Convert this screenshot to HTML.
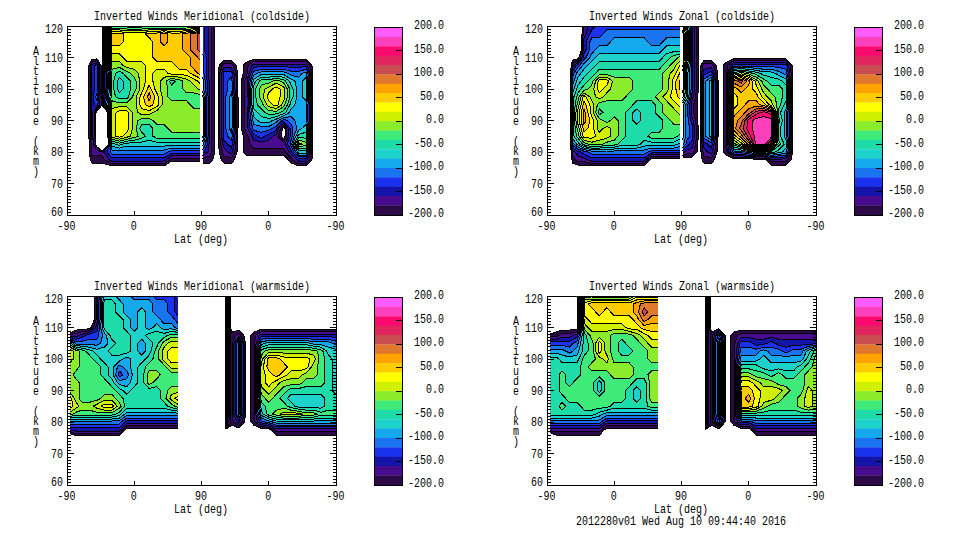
<!DOCTYPE html>
<html><head><meta charset="utf-8"><style>
html,body{margin:0;padding:0;background:#fff;}
svg{display:block;}
text{font-family:'Liberation Mono','DejaVu Sans Mono',monospace;font-size:13px;fill:#000;}
</style></head><body>
<svg width="960" height="540" viewBox="0 0 960 540">
<rect width="960" height="540" fill="#fff"/>
<clipPath id="clip0_0"><rect x="67" y="26" width="269" height="189"/></clipPath>
<g clip-path="url(#clip0_0)" shape-rendering="crispEdges">
<path d="M102.9 26.0L111.8 26.0L119.3 26.0L126.8 26.0L134.2 26.0L141.7 26.0L149.2 26.0L156.7 26.0L164.1 26.0L171.6 26.0L179.1 26.0L186.6 26.0L194.0 26.0L201.5 26.0L201.5 33.9L201.5 41.8L201.5 49.6L201.5 57.5L201.5 65.4L201.5 73.2L201.5 81.1L201.5 89.0L201.5 96.9L201.5 104.8L201.5 112.6L201.5 120.5L201.5 128.4L201.5 136.2L201.5 144.1L201.5 152.0L201.5 159.9L201.5 161.0L194.0 161.0L186.6 161.0L179.1 161.0L171.6 161.0L164.1 165.9L156.7 165.9L149.2 165.9L141.7 165.9L134.2 165.9L126.8 165.9L119.3 165.9L111.8 165.9L102.0 163.0L97.0 163.0L92.0 163.0L90.4 159.9L89.3 152.0L89.3 144.1L88.9 136.2L88.9 128.4L88.9 120.5L88.9 112.6L88.9 104.7L88.9 96.9L88.9 89.0L88.9 81.1L88.9 73.2L88.9 65.4L92.0 59.3L97.0 58.9L101.1 65.4L101.1 73.2L101.1 81.1L101.1 89.0L102.0 93.7L102.8 89.0L102.8 81.1L102.8 73.2L102.7 65.4L102.7 57.5L102.6 49.6L102.6 41.8L102.6 33.9ZM97.0 111.2L95.8 112.6L95.8 120.5L95.8 128.4L95.8 136.2L95.3 144.1L97.0 146.8L102.0 151.3L108.9 144.1L107.8 136.2L107.8 128.4L107.8 120.5L107.8 112.6L102.0 105.0Z" fill="#2c0a48" fill-rule="evenodd"/>
<path d="M104.1 26.0L111.8 26.0L119.3 26.0L126.8 26.0L134.2 26.0L141.7 26.0L149.2 26.0L156.7 26.0L164.1 26.0L171.6 26.0L179.1 26.0L186.6 26.0L194.0 26.0L201.5 26.0L201.5 33.9L201.5 41.8L201.5 49.6L201.5 57.5L201.5 65.4L201.5 73.2L201.5 81.1L201.5 89.0L201.5 96.9L201.5 104.8L201.5 112.6L201.5 120.5L201.5 128.4L201.5 136.2L201.5 144.1L201.5 152.0L201.5 158.6L194.0 158.6L186.6 158.6L179.1 158.6L171.6 158.6L169.7 159.9L164.1 163.5L156.7 163.5L149.2 163.5L141.7 163.5L134.2 163.5L126.8 163.5L119.3 163.5L111.8 163.5L104.5 159.9L102.0 155.9L97.0 155.9L92.0 155.9L91.1 152.0L91.1 144.1L90.2 136.2L90.2 128.4L90.2 120.5L90.2 112.6L90.2 104.8L90.2 96.9L90.2 89.0L90.2 81.1L90.2 73.2L90.2 65.4L92.0 61.7L97.0 60.7L99.9 65.4L99.9 73.2L99.9 81.1L99.9 89.0L101.4 96.9L101.2 104.8L97.0 109.4L94.3 112.6L94.3 120.5L94.3 128.4L94.3 136.2L93.1 144.1L97.0 150.2L102.0 151.8L109.3 144.1L108.2 136.2L108.2 128.4L108.2 120.5L108.2 112.6L102.5 104.8L102.6 96.9L103.9 89.0L103.9 81.1L103.9 73.2L103.7 65.4L103.5 57.5L103.4 49.6L103.3 41.8L103.3 33.9Z" fill="#4a0c8e" fill-rule="evenodd"/>
<path d="M105.3 26.0L111.8 26.0L119.3 26.0L126.8 26.0L134.2 26.0L141.7 26.0L149.2 26.0L156.7 26.0L164.1 26.0L171.6 26.0L179.1 26.0L186.6 26.0L194.0 26.0L201.5 26.0L201.5 33.9L201.5 41.8L201.5 49.6L201.5 57.5L201.5 65.4L201.5 73.2L201.5 81.1L201.5 89.0L201.5 96.9L201.5 104.8L201.5 112.6L201.5 120.5L201.5 128.4L201.5 136.2L201.5 144.1L201.5 152.0L201.5 155.9L194.0 155.9L186.6 155.9L179.1 155.9L171.6 155.9L166.0 159.9L164.1 161.1L156.7 161.1L149.2 161.1L141.7 161.1L134.2 161.1L126.8 161.1L119.3 161.1L111.8 161.1L109.4 159.9L103.6 152.0L109.8 144.1L108.6 136.2L108.6 128.4L108.6 120.5L108.6 112.6L103.6 104.8L103.8 96.9L104.9 89.0L104.9 81.1L104.9 73.2L104.6 65.4L104.4 57.5L104.2 49.6L104.0 41.8L104.0 33.9ZM91.4 65.4L92.0 64.2L97.0 62.6L98.8 65.4L98.8 73.2L98.8 81.1L98.8 89.0L100.1 96.9L99.5 104.8L97.0 107.5L92.8 112.6L92.8 120.5L92.8 128.4L92.8 136.2L92.0 140.2L91.4 136.2L91.4 128.4L91.4 120.5L91.4 112.6L91.4 104.8L91.4 96.9L91.4 89.0L91.4 81.1L91.4 73.2Z" fill="#1414a8" fill-rule="evenodd"/>
<path d="M106.5 26.0L111.8 26.0L119.3 26.0L126.8 26.0L134.2 26.0L141.7 26.0L149.2 26.0L156.7 26.0L164.1 26.0L171.6 26.0L179.1 26.0L186.6 26.0L194.0 26.0L201.5 26.0L201.5 33.9L201.5 41.8L201.5 49.6L201.5 57.5L201.5 65.4L201.5 73.2L201.5 81.1L201.5 89.0L201.5 96.9L201.5 104.8L201.5 112.6L201.5 120.5L201.5 128.4L201.5 136.2L201.5 144.1L201.5 152.0L201.5 153.3L194.0 153.3L186.6 153.3L179.1 153.3L171.6 153.3L164.1 157.9L156.7 157.9L149.2 157.9L141.7 157.9L134.2 157.9L126.8 157.9L119.3 157.9L111.8 157.9L106.9 152.0L110.2 144.1L108.9 136.2L108.9 128.4L108.9 120.5L108.9 112.6L104.7 104.8L105.1 96.9L106.0 89.0L106.0 81.1L106.0 73.2L105.6 65.4L105.3 57.5L105.0 49.6L104.8 41.8L104.8 33.9ZM94.5 65.4L97.0 64.4L97.6 65.4L97.6 73.2L97.6 81.1L97.6 89.0L98.9 96.9L97.8 104.8L97.0 105.7L94.5 104.8L93.2 96.9L94.5 89.0L94.5 81.1L94.5 73.2Z" fill="#1a32ee" fill-rule="evenodd"/>
<path d="M107.7 26.0L111.8 26.0L119.3 26.0L126.8 26.0L134.2 26.0L141.7 26.0L149.2 26.0L156.7 26.0L164.1 26.0L171.6 26.0L179.1 26.0L186.6 26.0L194.0 26.0L201.5 26.0L201.5 33.9L201.5 41.8L201.5 49.6L201.5 57.5L201.5 65.4L201.5 73.2L201.5 81.1L201.5 89.0L201.5 96.9L201.5 104.8L201.5 112.6L201.5 120.5L201.5 128.4L201.5 136.2L201.5 144.1L201.5 150.7L194.0 150.7L186.6 150.7L179.1 150.7L171.6 150.7L167.9 152.0L164.1 154.0L156.7 154.0L149.2 154.0L141.7 154.0L134.2 154.0L126.8 154.0L119.3 154.0L111.8 154.0L110.2 152.0L110.7 144.1L109.3 136.2L109.3 128.4L109.3 120.5L109.3 112.6L105.8 104.8L106.3 96.9L107.0 89.0L107.0 81.1L107.0 73.2L106.6 65.4L106.2 57.5L105.8 49.6L105.5 41.8L105.5 33.9ZM95.8 96.9L97.0 92.9L97.6 96.9L97.0 100.8Z" fill="#1a74f0" fill-rule="evenodd"/>
<path d="M108.9 26.0L111.8 26.0L119.3 26.0L126.8 26.0L134.2 26.0L141.7 26.0L149.2 26.0L156.7 26.0L164.1 26.0L171.6 26.0L179.1 26.0L186.6 26.0L194.0 26.0L201.5 26.0L201.5 33.9L201.5 41.8L201.5 49.6L201.5 57.5L201.5 65.4L201.5 73.2L201.5 81.1L201.5 89.0L201.5 96.9L201.5 104.8L201.5 112.6L201.5 120.5L201.5 128.4L201.5 136.2L201.5 144.1L201.5 148.1L194.0 148.1L186.6 148.1L179.1 148.1L171.6 148.1L164.1 150.0L156.7 150.0L149.2 150.0L141.7 150.0L134.2 150.0L126.8 150.0L119.3 150.7L111.8 150.0L111.1 144.1L109.7 136.2L109.7 128.4L109.7 120.5L109.7 112.6L106.9 104.8L107.5 96.9L108.1 89.0L108.1 81.1L108.1 73.2L107.5 65.4L107.0 57.5L106.6 49.6L106.3 41.8L106.3 33.9Z" fill="#14a8ec" fill-rule="evenodd"/>
<path d="M110.0 26.0L111.8 26.0L119.3 26.0L126.8 26.0L134.2 26.0L141.7 26.0L149.2 26.0L156.7 26.0L164.1 26.0L171.6 26.0L179.1 26.0L186.6 26.0L194.0 26.0L201.5 26.0L201.5 33.9L201.5 41.8L201.5 49.6L201.5 57.5L201.5 65.4L201.5 73.2L201.5 81.1L201.5 89.0L201.5 96.9L201.5 104.8L201.5 112.6L201.5 120.5L201.5 128.4L201.5 136.2L201.5 144.1L201.5 145.4L194.0 145.4L186.6 145.4L179.1 145.4L171.6 145.4L164.1 146.1L156.7 146.1L149.2 146.1L141.7 146.1L134.2 146.1L126.8 146.1L119.3 148.1L111.8 146.1L111.6 144.1L110.1 136.2L110.1 128.4L110.1 120.5L110.1 112.6L108.0 104.8L108.8 96.9L109.2 89.0L109.2 81.1L109.2 73.2L108.5 65.4L107.9 57.5L107.4 49.6L107.0 41.8L107.0 33.9Z" fill="#1ed2cc" fill-rule="evenodd"/>
<path d="M111.2 26.0L111.8 26.0L119.3 26.0L126.8 26.0L134.2 26.0L141.7 26.0L149.2 26.0L156.7 26.0L164.1 26.0L171.6 26.0L179.1 26.0L186.6 26.0L194.0 26.0L201.5 26.0L201.5 33.9L201.5 41.8L201.5 49.6L201.5 57.5L201.5 65.4L201.5 73.2L201.5 81.1L201.5 89.0L201.5 96.9L201.5 104.8L201.5 112.6L201.5 120.5L201.5 128.4L201.5 136.2L201.5 142.2L194.0 142.2L186.6 142.2L179.1 142.2L171.6 142.2L164.1 142.2L156.7 142.2L149.2 140.2L141.7 142.2L134.2 142.8L126.8 143.1L123.0 144.1L119.3 145.4L115.6 144.1L111.8 143.1L110.5 136.2L110.5 128.4L110.5 120.5L110.5 112.6L109.1 104.8L110.0 96.9L110.2 89.0L110.2 81.1L110.2 73.2L109.4 65.4L108.8 57.5L108.2 49.6L107.8 41.8L107.8 33.9ZM119.3 77.2L117.4 81.1L117.4 89.0L119.3 92.9L123.0 89.0L123.0 81.1Z" fill="#1edcaa" fill-rule="evenodd"/>
<path d="M108.5 33.9L111.8 26.8L119.3 26.8L126.8 27.0L134.2 27.0L141.7 27.0L149.2 26.8L156.7 26.8L164.1 26.7L171.6 26.8L179.1 26.8L186.6 26.7L194.0 26.6L201.5 26.5L201.5 33.9L201.5 41.8L201.5 49.6L201.5 57.5L201.5 65.4L201.5 73.2L201.5 81.1L201.5 89.0L201.5 96.9L201.5 104.8L201.5 112.6L201.5 120.5L201.5 128.4L201.5 136.2L201.5 138.2L194.0 138.2L186.6 138.2L179.1 138.2L171.6 138.2L164.1 138.2L156.7 138.2L152.9 136.2L152.9 128.4L149.2 124.4L141.7 124.4L139.9 128.4L141.7 132.3L145.5 136.2L141.7 138.2L134.2 140.2L126.8 141.2L119.3 143.1L111.8 141.2L110.9 136.2L110.9 128.4L110.9 120.5L110.9 112.6L110.2 104.8L111.2 96.9L111.3 89.0L111.3 81.1L111.3 73.2L110.4 65.4L109.6 57.5L109.0 49.6L108.5 41.8ZM119.3 71.3L115.6 73.2L113.7 81.1L113.7 89.0L115.6 96.9L119.3 98.8L126.8 98.8L128.6 96.9L130.5 89.0L130.5 81.1L126.8 77.2L123.0 73.2ZM171.6 80.1L169.7 81.1L171.6 85.1L175.3 81.1Z" fill="#3eea78" fill-rule="evenodd"/>
<path d="M109.2 33.9L111.8 28.4L119.3 28.4L126.8 29.0L134.2 29.0L141.7 29.0L149.2 28.4L156.7 28.4L164.1 28.0L171.6 28.4L179.1 28.4L186.6 28.0L194.0 27.7L201.5 27.5L201.5 33.9L201.5 41.8L201.5 49.6L201.5 57.5L201.5 65.4L201.5 73.2L201.5 81.1L201.5 89.0L201.5 94.9L194.0 92.9L186.6 92.9L182.8 89.0L182.8 81.1L179.1 79.8L171.6 78.2L166.0 81.1L167.9 89.0L167.9 96.9L171.6 100.8L179.1 100.8L186.6 100.8L190.3 104.8L194.0 108.7L201.5 108.7L201.5 112.6L201.5 120.5L201.5 128.4L201.5 132.3L194.0 132.3L186.6 132.3L179.1 132.3L171.6 132.3L167.9 128.4L164.1 124.4L156.7 124.4L152.9 120.5L149.2 118.5L141.7 118.5L138.0 120.5L136.1 128.4L138.0 136.2L134.2 137.6L126.8 139.2L119.3 141.2L111.8 139.2L111.3 136.2L111.3 128.4L111.3 120.5L111.3 112.6L111.3 104.8L111.8 100.8L119.3 102.8L126.8 102.8L132.4 96.9L134.2 92.9L136.1 89.0L136.1 81.1L134.2 77.2L130.5 73.2L126.8 71.3L119.3 67.3L111.8 69.3L111.4 65.4L110.5 57.5L109.8 49.6L109.2 41.8Z" fill="#8aec2a" fill-rule="evenodd"/>
<path d="M110.0 33.9L111.8 29.9L119.3 29.9L126.8 30.9L134.2 30.9L141.7 30.9L149.2 29.9L156.7 29.9L164.1 29.3L171.6 29.9L179.1 29.9L186.6 29.3L194.0 28.8L201.5 28.5L201.5 33.9L201.5 41.8L201.5 49.6L201.5 57.5L201.5 65.4L201.5 73.2L201.5 81.1L201.5 89.0L201.5 91.0L197.8 89.0L194.0 85.1L190.3 81.1L186.6 79.2L179.1 77.2L171.6 76.2L164.1 77.2L160.4 81.1L160.4 89.0L162.3 96.9L162.3 104.8L156.7 110.7L152.9 112.6L149.2 114.6L141.7 114.6L138.0 112.6L136.1 104.8L136.1 96.9L139.9 89.0L139.9 81.1L138.0 73.2L134.2 69.3L126.8 67.3L123.0 65.4L119.3 61.4L111.8 61.4L111.4 57.5L110.6 49.6L110.0 41.8ZM111.6 112.6L111.8 108.7L119.3 106.7L126.8 106.7L132.4 112.6L132.4 120.5L132.4 128.4L130.5 136.2L126.8 137.2L119.3 139.2L111.8 137.2L111.6 136.2L111.6 128.4L111.6 120.5Z" fill="#d0f000" fill-rule="evenodd"/>
<path d="M110.7 33.9L111.8 31.5L119.3 31.5L126.8 32.9L134.2 32.9L141.7 32.9L149.2 31.5L156.7 31.5L164.1 30.6L171.6 31.5L179.1 31.5L186.6 30.6L194.0 29.9L201.5 29.4L201.5 33.9L201.5 41.8L201.5 49.6L201.5 57.5L201.5 65.4L201.5 73.2L201.5 81.1L201.5 85.1L197.8 81.1L194.0 79.2L186.6 75.2L179.1 74.6L171.6 74.2L167.9 73.2L164.1 69.3L156.7 69.3L152.9 73.2L152.9 81.1L154.8 89.0L156.7 92.9L158.5 96.9L158.5 104.8L156.7 106.7L149.2 110.7L141.7 108.7L139.9 104.8L139.9 96.9L141.7 92.9L143.6 89.0L145.5 81.1L145.5 73.2L145.5 65.4L141.7 61.4L134.2 61.4L126.8 61.4L123.0 57.5L119.3 53.6L111.8 53.6L111.4 49.6L110.7 41.8ZM115.6 112.6L119.3 110.7L126.8 110.7L128.6 112.6L128.6 120.5L128.6 128.4L126.8 132.3L123.0 136.2L119.3 137.2L115.6 136.2L115.6 128.4L115.6 120.5Z" fill="#ffff00" fill-rule="evenodd"/>
<path d="M111.5 33.9L111.8 33.1L119.3 33.1L123.0 33.9L123.0 41.8L119.3 45.7L111.8 45.7L111.5 41.8ZM145.5 33.9L149.2 33.1L156.7 33.1L164.1 31.9L171.6 33.1L179.1 33.1L186.6 31.9L194.0 31.1L201.5 30.4L201.5 33.9L201.5 41.8L201.5 49.6L201.5 57.5L201.5 65.4L201.5 73.2L201.5 79.2L194.0 75.2L190.3 73.2L186.6 69.3L179.1 69.3L175.3 65.4L171.6 61.4L164.1 61.4L156.7 61.4L152.9 57.5L152.9 49.6L152.9 41.8L149.2 37.8ZM147.3 89.0L149.2 85.1L151.1 89.0L154.8 96.9L152.9 104.8L149.2 106.7L145.5 104.8L143.6 96.9Z" fill="#ffcc00" fill-rule="evenodd"/>
<path d="M160.4 33.9L164.1 33.2L167.9 33.9L167.9 41.8L164.1 45.7L160.4 41.8ZM182.8 33.9L186.6 33.2L194.0 32.2L201.5 31.4L201.5 33.9L201.5 41.8L201.5 49.6L201.5 57.5L201.5 65.4L201.5 73.2L201.5 75.2L197.8 73.2L194.0 69.3L190.3 65.4L190.3 57.5L186.6 53.6L182.8 49.6L182.8 41.8ZM147.3 96.9L149.2 92.9L151.1 96.9L149.2 100.8Z" fill="#ffa400" fill-rule="evenodd"/>
<path d="M190.3 33.9L194.0 33.3L201.5 32.4L201.5 33.9L201.5 41.8L201.5 49.6L201.5 57.5L201.5 61.4L197.8 57.5L194.0 53.6L190.3 49.6L190.3 41.8Z" fill="#e07830" fill-rule="evenodd"/>
<path d="M197.8 33.9L201.5 33.4L201.5 33.9L201.5 41.8L201.5 49.6L201.5 53.6L197.8 49.6L197.8 41.8Z" fill="#c84c50" fill-rule="evenodd"/>
<path d="M97.0 111.2L95.8 112.6L95.8 120.5L95.8 128.4L95.8 136.2L95.3 144.1L97.0 146.8L102.0 151.3L108.9 144.1L107.8 136.2L107.8 128.4L107.8 120.5L107.8 112.6L102.0 105.0L97.0 111.2M201.5 161.0L194.0 161.0L186.6 161.0L179.1 161.0L171.6 161.0L164.1 165.9L156.7 165.9L149.2 165.9L141.7 165.9L134.2 165.9L126.8 165.9L119.3 165.9L111.8 165.9L102.0 163.0L97.0 163.0L92.0 163.0L90.4 159.9L89.3 152.0L89.3 144.1L88.9 136.2L88.9 128.4L88.9 120.5L88.9 112.6L88.9 104.7L88.9 96.9L88.9 89.0L88.9 81.1L88.9 73.2L88.9 65.4L92.0 59.3L97.0 58.9L101.1 65.4L101.1 73.2L101.1 81.1L101.1 89.0L102.0 93.7L102.8 89.0L102.8 81.1L102.8 73.2L102.7 65.4L102.7 57.5L102.6 49.6L102.6 41.8L102.6 33.9L102.9 26.0M201.5 158.6L194.0 158.6L186.6 158.6L179.1 158.6L171.6 158.6L169.7 159.9L164.1 163.5L156.7 163.5L149.2 163.5L141.7 163.5L134.2 163.5L126.8 163.5L119.3 163.5L111.8 163.5L104.5 159.9L102.0 155.9L97.0 155.9L92.0 155.9L91.1 152.0L91.1 144.1L90.2 136.2L90.2 128.4L90.2 120.5L90.2 112.6L90.2 104.8L90.2 96.9L90.2 89.0L90.2 81.1L90.2 73.2L90.2 65.4L92.0 61.7L97.0 60.7L99.9 65.4L99.9 73.2L99.9 81.1L99.9 89.0L101.4 96.9L101.2 104.8L97.0 109.4L94.3 112.6L94.3 120.5L94.3 128.4L94.3 136.2L93.1 144.1L97.0 150.2L102.0 151.8L109.3 144.1L108.2 136.2L108.2 128.4L108.2 120.5L108.2 112.6L102.5 104.8L102.6 96.9L103.9 89.0L103.9 81.1L103.9 73.2L103.7 65.4L103.5 57.5L103.4 49.6L103.3 41.8L103.3 33.9L104.1 26.0M91.4 65.4L92.0 64.2L97.0 62.6L98.8 65.4L98.8 73.2L98.8 81.1L98.8 89.0L100.1 96.9L99.5 104.8L97.0 107.5L92.8 112.6L92.8 120.5L92.8 128.4L92.8 136.2L92.0 140.2L91.4 136.2L91.4 128.4L91.4 120.5L91.4 112.6L91.4 104.8L91.4 96.9L91.4 89.0L91.4 81.1L91.4 73.2L91.4 65.4M201.5 155.9L194.0 155.9L186.6 155.9L179.1 155.9L171.6 155.9L166.0 159.9L164.1 161.1L156.7 161.1L149.2 161.1L141.7 161.1L134.2 161.1L126.8 161.1L119.3 161.1L111.8 161.1L109.4 159.9L103.6 152.0L109.8 144.1L108.6 136.2L108.6 128.4L108.6 120.5L108.6 112.6L103.6 104.8L103.8 96.9L104.9 89.0L104.9 81.1L104.9 73.2L104.6 65.4L104.4 57.5L104.2 49.6L104.0 41.8L104.0 33.9L105.3 26.0M94.5 65.4L97.0 64.4L97.6 65.4L97.6 73.2L97.6 81.1L97.6 89.0L98.9 96.9L97.8 104.8L97.0 105.7L94.5 104.8L93.2 96.9L94.5 89.0L94.5 81.1L94.5 73.2L94.5 65.4M201.5 153.3L194.0 153.3L186.6 153.3L179.1 153.3L171.6 153.3L164.1 157.9L156.7 157.9L149.2 157.9L141.7 157.9L134.2 157.9L126.8 157.9L119.3 157.9L111.8 157.9L106.9 152.0L110.2 144.1L108.9 136.2L108.9 128.4L108.9 120.5L108.9 112.6L104.7 104.8L105.1 96.9L106.0 89.0L106.0 81.1L106.0 73.2L105.6 65.4L105.3 57.5L105.0 49.6L104.8 41.8L104.8 33.9L106.5 26.0M95.8 96.9L97.0 92.9L97.6 96.9L97.0 100.8L95.8 96.9M201.5 150.7L194.0 150.7L186.6 150.7L179.1 150.7L171.6 150.7L167.9 152.0L164.1 154.0L156.7 154.0L149.2 154.0L141.7 154.0L134.2 154.0L126.8 154.0L119.3 154.0L111.8 154.0L110.2 152.0L110.7 144.1L109.3 136.2L109.3 128.4L109.3 120.5L109.3 112.6L105.8 104.8L106.3 96.9L107.0 89.0L107.0 81.1L107.0 73.2L106.6 65.4L106.2 57.5L105.8 49.6L105.5 41.8L105.5 33.9L107.7 26.0M201.5 148.1L194.0 148.1L186.6 148.1L179.1 148.1L171.6 148.1L164.1 150.0L156.7 150.0L149.2 150.0L141.7 150.0L134.2 150.0L126.8 150.0L119.3 150.7L111.8 150.0L111.1 144.1L109.7 136.2L109.7 128.4L109.7 120.5L109.7 112.6L106.9 104.8L107.5 96.9L108.1 89.0L108.1 81.1L108.1 73.2L107.5 65.4L107.0 57.5L106.6 49.6L106.3 41.8L106.3 33.9L108.9 26.0M201.5 145.4L194.0 145.4L186.6 145.4L179.1 145.4L171.6 145.4L164.1 146.1L156.7 146.1L149.2 146.1L141.7 146.1L134.2 146.1L126.8 146.1L119.3 148.1L111.8 146.1L111.6 144.1L110.1 136.2L110.1 128.4L110.1 120.5L110.1 112.6L108.0 104.8L108.8 96.9L109.2 89.0L109.2 81.1L109.2 73.2L108.5 65.4L107.9 57.5L107.4 49.6L107.0 41.8L107.0 33.9L110.0 26.0M119.3 77.2L117.4 81.1L117.4 89.0L119.3 92.9L123.0 89.0L123.0 81.1L119.3 77.2M201.5 142.2L194.0 142.2L186.6 142.2L179.1 142.2L171.6 142.2L164.1 142.2L156.7 142.2L149.2 140.2L141.7 142.2L134.2 142.8L126.8 143.1L123.0 144.1L119.3 145.4L115.6 144.1L111.8 143.1L110.5 136.2L110.5 128.4L110.5 120.5L110.5 112.6L109.1 104.8L110.0 96.9L110.2 89.0L110.2 81.1L110.2 73.2L109.4 65.4L108.8 57.5L108.2 49.6L107.8 41.8L107.8 33.9L111.2 26.0M119.3 71.3L115.6 73.2L113.7 81.1L113.7 89.0L115.6 96.9L119.3 98.8L126.8 98.8L128.6 96.9L130.5 89.0L130.5 81.1L126.8 77.2L123.0 73.2L119.3 71.3M171.6 80.1L169.7 81.1L171.6 85.1L175.3 81.1L171.6 80.1M201.5 138.2L194.0 138.2L186.6 138.2L179.1 138.2L171.6 138.2L164.1 138.2L156.7 138.2L152.9 136.2L152.9 128.4L149.2 124.4L141.7 124.4L139.9 128.4L141.7 132.3L145.5 136.2L141.7 138.2L134.2 140.2L126.8 141.2L119.3 143.1L111.8 141.2L110.9 136.2L110.9 128.4L110.9 120.5L110.9 112.6L110.2 104.8L111.2 96.9L111.3 89.0L111.3 81.1L111.3 73.2L110.4 65.4L109.6 57.5L109.0 49.6L108.5 41.8L108.5 33.9L111.8 26.8L119.3 26.8L126.8 27.0L134.2 27.0L141.7 27.0L149.2 26.8L156.7 26.8L164.1 26.7L171.6 26.8L179.1 26.8L186.6 26.7L194.0 26.6L201.5 26.5M201.5 94.9L194.0 92.9L186.6 92.9L182.8 89.0L182.8 81.1L179.1 79.8L171.6 78.2L166.0 81.1L167.9 89.0L167.9 96.9L171.6 100.8L179.1 100.8L186.6 100.8L190.3 104.8L194.0 108.7L201.5 108.7M201.5 132.3L194.0 132.3L186.6 132.3L179.1 132.3L171.6 132.3L167.9 128.4L164.1 124.4L156.7 124.4L152.9 120.5L149.2 118.5L141.7 118.5L138.0 120.5L136.1 128.4L138.0 136.2L134.2 137.6L126.8 139.2L119.3 141.2L111.8 139.2L111.3 136.2L111.3 128.4L111.3 120.5L111.3 112.6L111.3 104.8L111.8 100.8L119.3 102.8L126.8 102.8L132.4 96.9L134.2 92.9L136.1 89.0L136.1 81.1L134.2 77.2L130.5 73.2L126.8 71.3L119.3 67.3L111.8 69.3L111.4 65.4L110.5 57.5L109.8 49.6L109.2 41.8L109.2 33.9L111.8 28.4L119.3 28.4L126.8 29.0L134.2 29.0L141.7 29.0L149.2 28.4L156.7 28.4L164.1 28.0L171.6 28.4L179.1 28.4L186.6 28.0L194.0 27.7L201.5 27.5M201.5 91.0L197.8 89.0L194.0 85.1L190.3 81.1L186.6 79.2L179.1 77.2L171.6 76.2L164.1 77.2L160.4 81.1L160.4 89.0L162.3 96.9L162.3 104.8L156.7 110.7L152.9 112.6L149.2 114.6L141.7 114.6L138.0 112.6L136.1 104.8L136.1 96.9L139.9 89.0L139.9 81.1L138.0 73.2L134.2 69.3L126.8 67.3L123.0 65.4L119.3 61.4L111.8 61.4L111.4 57.5L110.6 49.6L110.0 41.8L110.0 33.9L111.8 29.9L119.3 29.9L126.8 30.9L134.2 30.9L141.7 30.9L149.2 29.9L156.7 29.9L164.1 29.3L171.6 29.9L179.1 29.9L186.6 29.3L194.0 28.8L201.5 28.5M111.6 112.6L111.8 108.7L119.3 106.7L126.8 106.7L132.4 112.6L132.4 120.5L132.4 128.4L130.5 136.2L126.8 137.2L119.3 139.2L111.8 137.2L111.6 136.2L111.6 128.4L111.6 120.5L111.6 112.6M201.5 85.1L197.8 81.1L194.0 79.2L186.6 75.2L179.1 74.6L171.6 74.2L167.9 73.2L164.1 69.3L156.7 69.3L152.9 73.2L152.9 81.1L154.8 89.0L156.7 92.9L158.5 96.9L158.5 104.8L156.7 106.7L149.2 110.7L141.7 108.7L139.9 104.8L139.9 96.9L141.7 92.9L143.6 89.0L145.5 81.1L145.5 73.2L145.5 65.4L141.7 61.4L134.2 61.4L126.8 61.4L123.0 57.5L119.3 53.6L111.8 53.6L111.4 49.6L110.7 41.8L110.7 33.9L111.8 31.5L119.3 31.5L126.8 32.9L134.2 32.9L141.7 32.9L149.2 31.5L156.7 31.5L164.1 30.6L171.6 31.5L179.1 31.5L186.6 30.6L194.0 29.9L201.5 29.4M115.6 112.6L119.3 110.7L126.8 110.7L128.6 112.6L128.6 120.5L128.6 128.4L126.8 132.3L123.0 136.2L119.3 137.2L115.6 136.2L115.6 128.4L115.6 120.5L115.6 112.6M111.5 33.9L111.8 33.1L119.3 33.1L123.0 33.9L123.0 41.8L119.3 45.7L111.8 45.7L111.5 41.8L111.5 33.9M201.5 79.2L194.0 75.2L190.3 73.2L186.6 69.3L179.1 69.3L175.3 65.4L171.6 61.4L164.1 61.4L156.7 61.4L152.9 57.5L152.9 49.6L152.9 41.8L149.2 37.8L145.5 33.9L149.2 33.1L156.7 33.1L164.1 31.9L171.6 33.1L179.1 33.1L186.6 31.9L194.0 31.1L201.5 30.4M147.3 89.0L149.2 85.1L151.1 89.0L154.8 96.9L152.9 104.8L149.2 106.7L145.5 104.8L143.6 96.9L147.3 89.0M160.4 33.9L164.1 33.2L167.9 33.9L167.9 41.8L164.1 45.7L160.4 41.8L160.4 33.9M201.5 75.2L197.8 73.2L194.0 69.3L190.3 65.4L190.3 57.5L186.6 53.6L182.8 49.6L182.8 41.8L182.8 33.9L186.6 33.2L194.0 32.2L201.5 31.4M147.3 96.9L149.2 92.9L151.1 96.9L149.2 100.8L147.3 96.9M201.5 61.4L197.8 57.5L194.0 53.6L190.3 49.6L190.3 41.8L190.3 33.9L194.0 33.3L201.5 32.4M201.5 53.6L197.8 49.6L197.8 41.8L197.8 33.9L201.5 33.4" fill="none" stroke="#000" stroke-width="1"/>
<path d="M202.5 26.0L210.0 26.0L214.7 26.0L214.7 33.9L214.7 41.8L214.7 49.6L214.7 57.5L214.7 65.4L214.7 73.2L214.7 81.1L214.7 89.0L214.7 96.9L214.7 104.8L214.7 112.6L214.7 120.5L214.7 128.4L214.7 136.2L214.7 144.1L214.7 152.0L212.8 159.9L210.0 163.0L202.5 163.0L202.5 159.9L202.5 152.0L202.5 144.1L202.5 136.2L202.5 128.4L202.5 120.5L202.5 112.6L202.5 104.8L202.5 96.9L202.5 89.0L202.5 81.1L202.5 73.2L202.5 65.4L202.5 57.5L202.5 49.6L202.5 41.8L202.5 33.9ZM219.3 65.4L223.9 60.1L231.4 60.1L236.4 65.4L237.5 73.2L237.8 81.1L237.8 89.0L238.0 96.9L238.0 104.8L238.0 112.6L238.0 120.5L238.0 128.4L237.8 136.2L237.5 144.1L237.1 152.0L234.4 159.9L231.4 163.0L223.9 163.0L221.2 159.9L219.3 152.0L218.6 144.1L218.2 136.2L218.2 128.4L218.2 120.5L218.2 112.6L218.2 104.8L218.2 96.9L218.2 89.0L218.2 81.1L218.2 73.2ZM243.3 65.4L246.3 62.2L253.8 59.3L261.3 59.3L268.8 59.3L276.2 59.3L283.7 59.3L291.2 59.3L298.6 59.3L306.1 59.3L311.9 65.4L312.7 73.2L312.8 81.1L312.8 89.0L312.8 96.9L312.7 104.8L312.7 112.6L312.7 120.5L312.8 128.4L312.9 136.2L313.0 144.1L312.8 152.0L311.9 159.9L306.1 165.9L298.6 165.9L291.2 163.0L288.2 159.9L283.7 155.2L276.2 155.2L268.8 155.2L261.3 155.2L253.8 155.2L246.3 155.2L243.3 152.0L243.3 144.1L243.3 136.2L241.4 128.4L241.4 120.5L241.4 112.6L241.4 104.8L241.4 96.9L241.4 89.0L241.4 81.1L243.3 73.2ZM283.7 127.0L282.4 128.4L281.2 136.2L283.7 138.9L285.0 136.2L285.0 128.4Z" fill="#2c0a48" fill-rule="evenodd"/>
<path d="M202.5 26.0L210.0 26.0L211.6 26.0L211.6 33.9L211.6 41.8L211.6 49.6L211.6 57.5L211.6 65.4L211.6 73.2L211.6 81.1L211.6 89.0L211.6 96.9L211.6 104.8L211.6 112.6L211.6 120.5L211.6 128.4L211.6 136.2L211.6 144.1L211.6 152.0L210.0 155.9L202.5 158.6L202.5 152.0L202.5 144.1L202.5 136.2L202.5 128.4L202.5 120.5L202.5 112.6L202.5 104.8L202.5 96.9L202.5 89.0L202.5 81.1L202.5 73.2L202.5 65.4L202.5 57.5L202.5 49.6L202.5 41.8L202.5 33.9ZM222.4 65.4L223.9 63.6L231.4 63.6L233.0 65.4L235.8 73.2L236.4 81.1L236.4 89.0L236.8 96.9L236.8 104.8L236.8 112.6L236.8 120.5L236.8 128.4L236.4 136.2L235.8 144.1L234.8 152.0L231.4 157.9L223.9 155.9L222.4 152.0L220.7 144.1L219.8 136.2L219.8 128.4L219.8 120.5L219.8 112.6L219.8 104.8L219.8 96.9L219.8 89.0L219.8 81.1L219.8 73.2ZM248.2 65.4L253.8 61.7L261.3 61.7L268.8 61.7L276.2 61.7L283.7 61.7L291.2 61.7L298.6 61.7L306.1 61.7L309.6 65.4L311.5 73.2L311.8 81.1L311.8 89.0L311.8 96.9L311.5 104.8L311.5 112.6L311.5 120.5L311.8 128.4L312.0 136.2L312.3 144.1L311.8 152.0L309.6 159.9L306.1 163.5L298.6 163.5L293.0 159.9L291.2 157.9L285.6 152.0L283.7 148.1L276.2 148.1L268.8 148.1L261.3 148.1L253.8 148.1L250.1 144.1L248.2 136.2L246.3 132.3L244.7 128.4L244.7 120.5L244.7 112.6L244.7 104.8L244.7 96.9L244.7 89.0L244.7 81.1L246.3 77.2L247.3 73.2ZM283.7 125.1L280.6 128.4L277.9 136.2L283.7 142.4L286.8 136.2L286.8 128.4Z" fill="#4a0c8e" fill-rule="evenodd"/>
<path d="M202.5 26.0L208.1 26.0L208.1 33.9L208.1 41.8L208.1 49.6L208.8 57.5L208.8 65.4L208.8 73.2L209.1 81.1L209.1 89.0L209.4 96.9L209.4 104.8L209.4 112.6L209.4 120.5L209.4 128.4L209.4 136.2L209.1 144.1L208.1 152.0L202.5 155.9L202.5 152.0L202.5 144.1L202.5 136.2L202.5 128.4L202.5 120.5L202.5 112.6L202.5 104.8L202.5 96.9L202.5 89.0L202.5 81.1L202.5 73.2L202.5 65.4L202.5 57.5L202.5 49.6L202.5 41.8L202.5 33.9ZM251.9 65.4L253.8 64.2L261.3 64.2L268.8 64.2L276.2 64.2L283.7 64.2L291.2 64.2L298.6 64.2L306.1 64.2L307.3 65.4L310.3 73.2L310.7 81.1L310.7 89.0L310.7 96.9L310.3 104.8L310.3 112.6L310.3 120.5L310.7 128.4L311.1 136.2L311.6 144.1L310.7 152.0L307.3 159.9L306.1 161.1L298.6 161.1L296.8 159.9L291.2 154.0L289.3 152.0L284.9 144.1L288.5 136.2L288.5 128.4L283.7 123.3L278.9 128.4L276.2 134.3L272.5 136.2L268.8 140.2L261.3 142.2L253.8 140.2L251.9 136.2L247.6 128.4L247.3 120.5L247.1 112.6L247.0 104.8L247.0 96.9L247.0 89.0L247.1 81.1L249.1 73.2ZM221.5 73.2L223.9 67.3L231.4 67.3L234.0 73.2L234.9 81.1L234.9 89.0L235.6 96.9L235.6 104.8L235.6 112.6L235.6 120.5L235.6 128.4L234.9 136.2L234.0 144.1L232.5 152.0L231.4 154.0L227.7 152.0L223.9 148.1L222.9 144.1L221.5 136.2L221.5 128.4L221.5 120.5L221.5 112.6L221.5 104.8L221.5 96.9L221.5 89.0L221.5 81.1Z" fill="#1414a8" fill-rule="evenodd"/>
<path d="M202.5 26.0L204.4 26.0L204.4 33.9L204.4 41.8L204.4 49.6L206.2 57.5L206.2 65.4L206.2 73.2L207.2 81.1L207.2 89.0L208.1 96.9L208.1 104.8L208.1 112.6L208.1 120.5L208.1 128.4L208.1 136.2L207.2 144.1L204.4 152.0L202.5 153.3L202.5 152.0L202.5 144.1L202.5 136.2L202.5 128.4L202.5 120.5L202.5 112.6L202.5 104.8L202.5 96.9L202.5 89.0L202.5 81.1L202.5 73.2L202.5 65.4L202.5 57.5L202.5 49.6L202.5 41.8L202.5 33.9ZM223.1 73.2L223.9 71.3L231.4 71.3L232.3 73.2L233.5 81.1L233.5 89.0L234.4 96.9L234.4 104.8L234.4 112.6L234.4 120.5L234.4 128.4L233.5 136.2L232.3 144.1L231.4 148.1L227.7 144.1L223.9 140.2L223.1 136.2L223.1 128.4L223.1 120.5L223.1 112.6L223.1 104.8L223.1 96.9L223.1 89.0L223.1 81.1ZM251.0 73.2L253.8 67.3L261.3 66.7L268.8 66.7L276.2 66.7L283.7 66.7L291.2 67.3L298.6 67.3L306.1 66.7L309.1 73.2L309.7 81.1L309.7 89.0L309.7 96.9L309.1 104.8L309.1 112.6L309.1 120.5L309.7 128.4L310.2 136.2L310.8 144.1L309.7 152.0L306.1 158.9L298.6 158.9L292.1 152.0L291.2 150.0L287.4 144.1L290.3 136.2L290.3 128.4L283.7 121.4L277.1 128.4L276.2 130.3L268.8 134.3L265.0 136.2L261.3 138.2L257.5 136.2L253.8 134.3L250.1 128.4L249.1 120.5L248.6 112.6L248.2 104.8L248.2 96.9L248.2 89.0L248.6 81.1Z" fill="#1a32ee" fill-rule="evenodd"/>
<path d="M202.5 57.5L202.5 53.6L203.8 57.5L203.8 65.4L203.8 73.2L205.3 81.1L205.3 89.0L206.9 96.9L206.9 104.8L206.9 112.6L206.9 120.5L206.9 128.4L206.9 136.2L205.3 144.1L202.5 150.0L202.5 144.1L202.5 136.2L202.5 128.4L202.5 120.5L202.5 112.6L202.5 104.8L202.5 96.9L202.5 89.0L202.5 81.1L202.5 73.2L202.5 65.4ZM252.9 73.2L253.8 71.3L261.3 69.3L268.8 69.3L276.2 69.3L283.7 69.3L291.2 71.3L298.6 71.3L306.1 69.3L307.9 73.2L308.7 81.1L308.7 89.0L308.7 96.9L307.9 104.8L307.9 112.6L307.9 120.5L308.7 128.4L309.3 136.2L310.1 144.1L308.7 152.0L306.1 156.9L298.6 156.9L294.0 152.0L291.2 146.1L289.9 144.1L291.2 140.2L292.1 136.2L293.0 128.4L291.2 124.4L287.4 120.5L283.7 119.5L281.8 120.5L276.2 126.4L272.5 128.4L268.8 130.3L261.3 132.3L253.8 130.3L252.6 128.4L251.0 120.5L250.1 112.6L249.4 104.8L249.4 96.9L249.4 89.0L250.1 81.1ZM227.7 81.1L231.4 77.2L232.1 81.1L232.1 89.0L233.2 96.9L233.2 104.8L233.2 112.6L233.2 120.5L233.2 128.4L232.1 136.2L231.4 140.2L227.7 136.2L225.8 128.4L225.8 120.5L225.8 112.6L225.8 104.8L225.8 96.9L227.7 89.0Z" fill="#1a74f0" fill-rule="evenodd"/>
<path d="M257.5 73.2L261.3 71.9L268.8 71.9L276.2 71.9L283.7 71.9L287.4 73.2L291.2 75.2L298.6 77.2L302.4 73.2L306.1 71.9L306.7 73.2L307.7 81.1L307.7 89.0L307.7 96.9L306.7 104.8L306.7 112.6L306.7 120.5L307.7 128.4L308.4 136.2L309.4 144.1L307.7 152.0L306.1 155.0L298.6 155.0L295.8 152.0L291.8 144.1L294.0 136.2L296.8 128.4L294.9 120.5L291.2 116.6L283.7 117.5L278.1 120.5L276.2 122.5L268.8 126.4L261.3 126.4L253.8 124.4L252.9 120.5L251.6 112.6L250.7 104.8L250.7 96.9L250.7 89.0L251.6 81.1L253.8 75.2ZM202.5 81.1L202.5 77.2L203.4 81.1L203.4 89.0L205.6 96.9L205.6 104.8L205.6 112.6L205.6 120.5L205.6 128.4L205.6 136.2L203.4 144.1L202.5 146.1L202.5 144.1L202.5 136.2L202.5 128.4L202.5 120.5L202.5 112.6L202.5 104.8L202.5 96.9L202.5 89.0ZM229.5 96.9L231.4 92.9L232.0 96.9L232.0 104.8L232.0 112.6L232.0 120.5L232.0 128.4L231.4 132.3L229.5 128.4L229.5 120.5L229.5 112.6L229.5 104.8Z" fill="#14a8ec" fill-rule="evenodd"/>
<path d="M253.1 81.1L253.8 79.2L261.3 74.6L268.8 74.6L276.2 74.2L283.7 74.6L291.2 79.2L294.9 81.1L296.8 89.0L296.8 96.9L294.9 104.8L291.2 108.7L289.3 112.6L283.7 115.6L276.2 119.2L272.5 120.5L268.8 122.5L261.3 122.5L257.5 120.5L253.8 116.6L253.1 112.6L251.9 104.8L251.9 96.9L251.9 89.0ZM302.4 81.1L306.1 77.2L306.6 81.1L306.6 89.0L306.6 96.9L306.1 100.8L302.4 96.9L302.4 89.0ZM202.5 96.9L202.5 91.0L204.4 96.9L204.4 104.8L204.4 112.6L204.4 120.5L204.4 128.4L204.4 136.2L202.5 142.2L202.5 136.2L202.5 128.4L202.5 120.5L202.5 112.6L202.5 104.8ZM302.4 128.4L306.1 124.4L306.6 128.4L307.5 136.2L308.7 144.1L306.6 152.0L306.1 153.0L298.6 153.0L297.7 152.0L293.0 144.1L295.8 136.2L298.6 130.3Z" fill="#1ed2cc" fill-rule="evenodd"/>
<path d="M255.7 81.1L261.3 77.2L268.8 77.2L276.2 76.2L283.7 77.2L289.3 81.1L291.2 85.1L293.0 89.0L293.0 96.9L291.2 100.8L289.9 104.8L285.6 112.6L283.7 113.6L276.2 116.6L268.8 118.5L261.3 116.6L257.5 112.6L253.8 108.7L253.2 104.8L253.2 96.9L253.2 89.0L253.8 85.1ZM202.5 96.9L202.5 94.9L203.1 96.9L203.1 104.8L203.1 112.6L203.1 120.5L203.1 128.4L203.1 136.2L202.5 138.2L202.5 136.2L202.5 128.4L202.5 120.5L202.5 112.6L202.5 104.8ZM297.7 136.2L298.6 134.3L306.1 132.3L306.6 136.2L307.9 144.1L306.1 150.7L298.6 151.0L294.3 144.1Z" fill="#1edcaa" fill-rule="evenodd"/>
<path d="M259.4 81.1L261.3 79.8L268.8 79.8L276.2 78.2L283.7 79.8L285.6 81.1L289.9 89.0L289.9 96.9L287.4 104.8L283.7 110.7L280.0 112.6L276.2 113.9L268.8 114.6L265.0 112.6L261.3 108.7L257.5 104.8L255.7 96.9L255.7 89.0ZM295.5 144.1L298.6 137.6L306.1 138.2L307.2 144.1L306.1 148.1L298.6 149.0Z" fill="#3eea78" fill-rule="evenodd"/>
<path d="M272.5 81.1L276.2 80.1L280.0 81.1L283.7 83.1L287.4 89.0L287.4 96.9L284.9 104.8L283.7 106.7L276.2 111.3L268.8 110.7L263.1 104.8L261.3 100.8L259.4 96.9L259.4 89.0L261.3 85.1L268.8 83.1ZM296.8 144.1L298.6 140.2L306.1 142.2L306.5 144.1L306.1 145.4L298.6 147.1Z" fill="#8aec2a" fill-rule="evenodd"/>
<path d="M265.0 89.0L268.8 87.0L276.2 83.1L283.7 87.0L284.9 89.0L284.9 96.9L283.7 100.8L281.8 104.8L276.2 108.7L268.8 106.7L266.9 104.8L263.1 96.9ZM298.0 144.1L298.6 142.8L302.4 144.1L298.6 145.1Z" fill="#d0f000" fill-rule="evenodd"/>
<path d="M272.5 89.0L276.2 87.0L280.0 89.0L280.0 96.9L278.1 104.8L276.2 106.1L272.5 104.8L268.8 100.8L266.9 96.9L268.8 92.9Z" fill="#ffff00" fill-rule="evenodd"/>
<path d="M214.7 26.0L214.7 33.9L214.7 41.8L214.7 49.6L214.7 57.5L214.7 65.4L214.7 73.2L214.7 81.1L214.7 89.0L214.7 96.9L214.7 104.8L214.7 112.6L214.7 120.5L214.7 128.4L214.7 136.2L214.7 144.1L214.7 152.0L212.8 159.9L210.0 163.0L202.5 163.0M219.3 65.4L223.9 60.1L231.4 60.1L236.4 65.4L237.5 73.2L237.8 81.1L237.8 89.0L238.0 96.9L238.0 104.8L238.0 112.6L238.0 120.5L238.0 128.4L237.8 136.2L237.5 144.1L237.1 152.0L234.4 159.9L231.4 163.0L223.9 163.0L221.2 159.9L219.3 152.0L218.6 144.1L218.2 136.2L218.2 128.4L218.2 120.5L218.2 112.6L218.2 104.8L218.2 96.9L218.2 89.0L218.2 81.1L218.2 73.2L219.3 65.4M243.3 65.4L246.3 62.2L253.8 59.3L261.3 59.3L268.8 59.3L276.2 59.3L283.7 59.3L291.2 59.3L298.6 59.3L306.1 59.3L311.9 65.4L312.7 73.2L312.8 81.1L312.8 89.0L312.8 96.9L312.7 104.8L312.7 112.6L312.7 120.5L312.8 128.4L312.9 136.2L313.0 144.1L312.8 152.0L311.9 159.9L306.1 165.9L298.6 165.9L291.2 163.0L288.2 159.9L283.7 155.2L276.2 155.2L268.8 155.2L261.3 155.2L253.8 155.2L246.3 155.2L243.3 152.0L243.3 144.1L243.3 136.2L241.4 128.4L241.4 120.5L241.4 112.6L241.4 104.8L241.4 96.9L241.4 89.0L241.4 81.1L243.3 73.2L243.3 65.4M283.7 127.0L282.4 128.4L281.2 136.2L283.7 138.9L285.0 136.2L285.0 128.4L283.7 127.0M211.6 26.0L211.6 33.9L211.6 41.8L211.6 49.6L211.6 57.5L211.6 65.4L211.6 73.2L211.6 81.1L211.6 89.0L211.6 96.9L211.6 104.8L211.6 112.6L211.6 120.5L211.6 128.4L211.6 136.2L211.6 144.1L211.6 152.0L210.0 155.9L202.5 158.6M222.4 65.4L223.9 63.6L231.4 63.6L233.0 65.4L235.8 73.2L236.4 81.1L236.4 89.0L236.8 96.9L236.8 104.8L236.8 112.6L236.8 120.5L236.8 128.4L236.4 136.2L235.8 144.1L234.8 152.0L231.4 157.9L223.9 155.9L222.4 152.0L220.7 144.1L219.8 136.2L219.8 128.4L219.8 120.5L219.8 112.6L219.8 104.8L219.8 96.9L219.8 89.0L219.8 81.1L219.8 73.2L222.4 65.4M248.2 65.4L253.8 61.7L261.3 61.7L268.8 61.7L276.2 61.7L283.7 61.7L291.2 61.7L298.6 61.7L306.1 61.7L309.6 65.4L311.5 73.2L311.8 81.1L311.8 89.0L311.8 96.9L311.5 104.8L311.5 112.6L311.5 120.5L311.8 128.4L312.0 136.2L312.3 144.1L311.8 152.0L309.6 159.9L306.1 163.5L298.6 163.5L293.0 159.9L291.2 157.9L285.6 152.0L283.7 148.1L276.2 148.1L268.8 148.1L261.3 148.1L253.8 148.1L250.1 144.1L248.2 136.2L246.3 132.3L244.7 128.4L244.7 120.5L244.7 112.6L244.7 104.8L244.7 96.9L244.7 89.0L244.7 81.1L246.3 77.2L247.3 73.2L248.2 65.4M283.7 125.1L280.6 128.4L277.9 136.2L283.7 142.4L286.8 136.2L286.8 128.4L283.7 125.1M208.1 26.0L208.1 33.9L208.1 41.8L208.1 49.6L208.8 57.5L208.8 65.4L208.8 73.2L209.1 81.1L209.1 89.0L209.4 96.9L209.4 104.8L209.4 112.6L209.4 120.5L209.4 128.4L209.4 136.2L209.1 144.1L208.1 152.0L202.5 155.9M251.9 65.4L253.8 64.2L261.3 64.2L268.8 64.2L276.2 64.2L283.7 64.2L291.2 64.2L298.6 64.2L306.1 64.2L307.3 65.4L310.3 73.2L310.7 81.1L310.7 89.0L310.7 96.9L310.3 104.8L310.3 112.6L310.3 120.5L310.7 128.4L311.1 136.2L311.6 144.1L310.7 152.0L307.3 159.9L306.1 161.1L298.6 161.1L296.8 159.9L291.2 154.0L289.3 152.0L284.9 144.1L288.5 136.2L288.5 128.4L283.7 123.3L278.9 128.4L276.2 134.3L272.5 136.2L268.8 140.2L261.3 142.2L253.8 140.2L251.9 136.2L247.6 128.4L247.3 120.5L247.1 112.6L247.0 104.8L247.0 96.9L247.0 89.0L247.1 81.1L249.1 73.2L251.9 65.4M221.5 73.2L223.9 67.3L231.4 67.3L234.0 73.2L234.9 81.1L234.9 89.0L235.6 96.9L235.6 104.8L235.6 112.6L235.6 120.5L235.6 128.4L234.9 136.2L234.0 144.1L232.5 152.0L231.4 154.0L227.7 152.0L223.9 148.1L222.9 144.1L221.5 136.2L221.5 128.4L221.5 120.5L221.5 112.6L221.5 104.8L221.5 96.9L221.5 89.0L221.5 81.1L221.5 73.2M204.4 26.0L204.4 33.9L204.4 41.8L204.4 49.6L206.2 57.5L206.2 65.4L206.2 73.2L207.2 81.1L207.2 89.0L208.1 96.9L208.1 104.8L208.1 112.6L208.1 120.5L208.1 128.4L208.1 136.2L207.2 144.1L204.4 152.0L202.5 153.3M223.1 73.2L223.9 71.3L231.4 71.3L232.3 73.2L233.5 81.1L233.5 89.0L234.4 96.9L234.4 104.8L234.4 112.6L234.4 120.5L234.4 128.4L233.5 136.2L232.3 144.1L231.4 148.1L227.7 144.1L223.9 140.2L223.1 136.2L223.1 128.4L223.1 120.5L223.1 112.6L223.1 104.8L223.1 96.9L223.1 89.0L223.1 81.1L223.1 73.2M251.0 73.2L253.8 67.3L261.3 66.7L268.8 66.7L276.2 66.7L283.7 66.7L291.2 67.3L298.6 67.3L306.1 66.7L309.1 73.2L309.7 81.1L309.7 89.0L309.7 96.9L309.1 104.8L309.1 112.6L309.1 120.5L309.7 128.4L310.2 136.2L310.8 144.1L309.7 152.0L306.1 158.9L298.6 158.9L292.1 152.0L291.2 150.0L287.4 144.1L290.3 136.2L290.3 128.4L283.7 121.4L277.1 128.4L276.2 130.3L268.8 134.3L265.0 136.2L261.3 138.2L257.5 136.2L253.8 134.3L250.1 128.4L249.1 120.5L248.6 112.6L248.2 104.8L248.2 96.9L248.2 89.0L248.6 81.1L251.0 73.2M202.5 53.6L203.8 57.5L203.8 65.4L203.8 73.2L205.3 81.1L205.3 89.0L206.9 96.9L206.9 104.8L206.9 112.6L206.9 120.5L206.9 128.4L206.9 136.2L205.3 144.1L202.5 150.0M252.9 73.2L253.8 71.3L261.3 69.3L268.8 69.3L276.2 69.3L283.7 69.3L291.2 71.3L298.6 71.3L306.1 69.3L307.9 73.2L308.7 81.1L308.7 89.0L308.7 96.9L307.9 104.8L307.9 112.6L307.9 120.5L308.7 128.4L309.3 136.2L310.1 144.1L308.7 152.0L306.1 156.9L298.6 156.9L294.0 152.0L291.2 146.1L289.9 144.1L291.2 140.2L292.1 136.2L293.0 128.4L291.2 124.4L287.4 120.5L283.7 119.5L281.8 120.5L276.2 126.4L272.5 128.4L268.8 130.3L261.3 132.3L253.8 130.3L252.6 128.4L251.0 120.5L250.1 112.6L249.4 104.8L249.4 96.9L249.4 89.0L250.1 81.1L252.9 73.2M227.7 81.1L231.4 77.2L232.1 81.1L232.1 89.0L233.2 96.9L233.2 104.8L233.2 112.6L233.2 120.5L233.2 128.4L232.1 136.2L231.4 140.2L227.7 136.2L225.8 128.4L225.8 120.5L225.8 112.6L225.8 104.8L225.8 96.9L227.7 89.0L227.7 81.1M257.5 73.2L261.3 71.9L268.8 71.9L276.2 71.9L283.7 71.9L287.4 73.2L291.2 75.2L298.6 77.2L302.4 73.2L306.1 71.9L306.7 73.2L307.7 81.1L307.7 89.0L307.7 96.9L306.7 104.8L306.7 112.6L306.7 120.5L307.7 128.4L308.4 136.2L309.4 144.1L307.7 152.0L306.1 155.0L298.6 155.0L295.8 152.0L291.8 144.1L294.0 136.2L296.8 128.4L294.9 120.5L291.2 116.6L283.7 117.5L278.1 120.5L276.2 122.5L268.8 126.4L261.3 126.4L253.8 124.4L252.9 120.5L251.6 112.6L250.7 104.8L250.7 96.9L250.7 89.0L251.6 81.1L253.8 75.2L257.5 73.2M202.5 77.2L203.4 81.1L203.4 89.0L205.6 96.9L205.6 104.8L205.6 112.6L205.6 120.5L205.6 128.4L205.6 136.2L203.4 144.1L202.5 146.1M229.5 96.9L231.4 92.9L232.0 96.9L232.0 104.8L232.0 112.6L232.0 120.5L232.0 128.4L231.4 132.3L229.5 128.4L229.5 120.5L229.5 112.6L229.5 104.8L229.5 96.9M253.1 81.1L253.8 79.2L261.3 74.6L268.8 74.6L276.2 74.2L283.7 74.6L291.2 79.2L294.9 81.1L296.8 89.0L296.8 96.9L294.9 104.8L291.2 108.7L289.3 112.6L283.7 115.6L276.2 119.2L272.5 120.5L268.8 122.5L261.3 122.5L257.5 120.5L253.8 116.6L253.1 112.6L251.9 104.8L251.9 96.9L251.9 89.0L253.1 81.1M302.4 81.1L306.1 77.2L306.6 81.1L306.6 89.0L306.6 96.9L306.1 100.8L302.4 96.9L302.4 89.0L302.4 81.1M202.5 91.0L204.4 96.9L204.4 104.8L204.4 112.6L204.4 120.5L204.4 128.4L204.4 136.2L202.5 142.2M302.4 128.4L306.1 124.4L306.6 128.4L307.5 136.2L308.7 144.1L306.6 152.0L306.1 153.0L298.6 153.0L297.7 152.0L293.0 144.1L295.8 136.2L298.6 130.3L302.4 128.4M255.7 81.1L261.3 77.2L268.8 77.2L276.2 76.2L283.7 77.2L289.3 81.1L291.2 85.1L293.0 89.0L293.0 96.9L291.2 100.8L289.9 104.8L285.6 112.6L283.7 113.6L276.2 116.6L268.8 118.5L261.3 116.6L257.5 112.6L253.8 108.7L253.2 104.8L253.2 96.9L253.2 89.0L253.8 85.1L255.7 81.1M202.5 94.9L203.1 96.9L203.1 104.8L203.1 112.6L203.1 120.5L203.1 128.4L203.1 136.2L202.5 138.2M297.7 136.2L298.6 134.3L306.1 132.3L306.6 136.2L307.9 144.1L306.1 150.7L298.6 151.0L294.3 144.1L297.7 136.2M259.4 81.1L261.3 79.8L268.8 79.8L276.2 78.2L283.7 79.8L285.6 81.1L289.9 89.0L289.9 96.9L287.4 104.8L283.7 110.7L280.0 112.6L276.2 113.9L268.8 114.6L265.0 112.6L261.3 108.7L257.5 104.8L255.7 96.9L255.7 89.0L259.4 81.1M295.5 144.1L298.6 137.6L306.1 138.2L307.2 144.1L306.1 148.1L298.6 149.0L295.5 144.1M272.5 81.1L276.2 80.1L280.0 81.1L283.7 83.1L287.4 89.0L287.4 96.9L284.9 104.8L283.7 106.7L276.2 111.3L268.8 110.7L263.1 104.8L261.3 100.8L259.4 96.9L259.4 89.0L261.3 85.1L268.8 83.1L272.5 81.1M296.8 144.1L298.6 140.2L306.1 142.2L306.5 144.1L306.1 145.4L298.6 147.1L296.8 144.1M265.0 89.0L268.8 87.0L276.2 83.1L283.7 87.0L284.9 89.0L284.9 96.9L283.7 100.8L281.8 104.8L276.2 108.7L268.8 106.7L266.9 104.8L263.1 96.9L265.0 89.0M298.0 144.1L298.6 142.8L302.4 144.1L298.6 145.1L298.0 144.1M272.5 89.0L276.2 87.0L280.0 89.0L280.0 96.9L278.1 104.8L276.2 106.1L272.5 104.8L268.8 100.8L266.9 96.9L268.8 92.9L272.5 89.0" fill="none" stroke="#000" stroke-width="1"/>
<rect x="200" y="26" width="2" height="136" fill="#fff"/>
</g>
<clipPath id="clip480_0"><rect x="547" y="26" width="269" height="189"/></clipPath>
<g clip-path="url(#clip480_0)" shape-rendering="crispEdges">
<path d="M582.0 26.0L584.0 26.0L591.8 26.0L599.3 26.0L606.8 26.0L614.2 26.0L621.7 26.0L629.2 26.0L636.7 26.0L644.1 26.0L651.6 26.0L659.1 26.0L666.6 26.0L674.0 26.0L681.5 26.0L681.5 33.9L681.5 41.8L681.5 49.6L681.5 57.5L681.5 65.4L681.5 73.2L681.5 81.1L681.5 89.0L681.5 96.9L681.5 104.8L681.5 112.6L681.5 120.5L681.5 128.4L681.5 136.2L681.5 144.1L681.5 152.0L681.5 158.5L674.0 158.5L666.6 158.5L659.1 158.5L651.6 158.5L649.9 159.9L644.1 165.9L636.7 165.9L629.2 165.9L621.7 165.9L614.2 165.9L606.8 165.9L599.3 165.9L591.8 165.9L584.0 165.1L578.0 165.1L572.5 163.0L572.0 159.9L571.3 152.0L570.4 144.1L570.1 136.2L570.1 128.4L570.1 120.5L570.1 112.6L570.1 104.8L570.1 96.9L570.2 89.0L570.4 81.1L570.6 73.2L571.3 65.4L572.5 60.1L578.0 58.9L579.1 57.5L581.3 49.6L581.3 41.8L582.0 33.9Z" fill="#2c0a48" fill-rule="evenodd"/>
<path d="M583.3 26.0L584.0 26.0L591.8 26.0L599.3 26.0L606.8 26.0L614.2 26.0L621.7 26.0L629.2 26.0L636.7 26.0L644.1 26.0L651.6 26.0L659.1 26.0L666.6 26.0L674.0 26.0L681.5 26.0L681.5 33.9L681.5 41.8L681.5 49.6L681.5 57.5L681.5 65.4L681.5 73.2L681.5 81.1L681.5 89.0L681.5 96.9L681.5 104.8L681.5 112.6L681.5 120.5L681.5 128.4L681.5 136.2L681.5 144.1L681.5 152.0L681.5 156.6L674.0 156.6L666.6 156.6L659.1 156.6L651.6 156.6L647.6 159.9L644.1 163.5L636.7 163.5L629.2 163.5L621.7 163.5L614.2 163.5L606.8 163.5L599.3 163.5L591.8 163.5L584.0 161.6L578.0 161.6L575.2 159.9L572.5 155.9L572.1 152.0L570.9 144.1L570.5 136.2L570.5 128.4L570.5 120.5L570.5 112.6L570.5 104.8L570.5 96.9L570.6 89.0L570.9 81.1L571.2 73.2L572.1 65.4L572.5 63.6L578.0 60.7L580.5 57.5L582.4 49.6L582.4 41.8L583.3 33.9Z" fill="#4a0c8e" fill-rule="evenodd"/>
<path d="M587.9 26.0L591.8 26.0L599.3 26.0L606.8 26.0L614.2 26.0L621.7 26.0L629.2 26.0L636.7 26.0L644.1 26.0L651.6 26.0L659.1 26.0L666.6 26.0L674.0 26.0L681.5 26.0L681.5 33.9L681.5 41.8L681.5 49.6L681.5 57.5L681.5 65.4L681.5 73.2L681.5 81.1L681.5 89.0L681.5 96.9L681.5 104.8L681.5 112.6L681.5 120.5L681.5 128.4L681.5 136.2L681.5 144.1L681.5 152.0L681.5 154.8L674.0 154.8L666.6 154.8L659.1 154.8L651.6 154.8L645.3 159.9L644.1 161.1L636.7 161.1L629.2 161.1L621.7 161.1L614.2 161.1L606.8 161.1L599.3 161.1L591.8 161.1L587.9 159.9L584.0 157.9L578.0 155.9L575.2 152.0L572.5 150.7L571.3 144.1L570.8 136.2L570.8 128.4L570.8 120.5L570.8 112.6L570.8 104.8L570.8 96.9L571.1 89.0L571.3 81.1L571.7 73.2L572.5 67.3L573.9 65.4L578.0 62.6L581.9 57.5L583.5 49.6L583.5 41.8L584.0 37.8L586.0 33.9Z" fill="#1414a8" fill-rule="evenodd"/>
<path d="M589.9 33.9L591.8 29.9L595.6 26.0L599.3 26.0L606.8 26.0L614.2 26.0L621.7 26.0L629.2 26.0L636.7 26.0L644.1 26.0L651.6 26.0L659.1 26.0L666.6 26.0L674.0 26.0L681.5 26.0L681.5 33.9L681.5 41.8L681.5 49.6L681.5 57.5L681.5 65.4L681.5 73.2L681.5 81.1L681.5 89.0L681.5 96.9L681.5 104.8L681.5 112.6L681.5 120.5L681.5 128.4L681.5 136.2L681.5 144.1L681.5 152.0L681.5 152.9L674.0 152.9L666.6 152.9L659.1 152.9L651.6 152.9L644.1 157.9L636.7 157.9L629.2 157.9L621.7 157.9L614.2 157.9L606.8 157.9L599.3 157.9L591.8 157.9L584.0 154.0L581.0 152.0L578.0 151.0L572.5 148.1L571.8 144.1L571.2 136.2L571.2 128.4L571.2 120.5L571.2 112.6L571.2 104.8L571.2 96.9L571.5 89.0L571.8 81.1L572.2 73.2L572.5 71.3L576.6 65.4L578.0 64.4L583.3 57.5L584.0 53.6L586.0 49.6L586.0 41.8Z" fill="#1a32ee" fill-rule="evenodd"/>
<path d="M603.0 33.9L606.8 29.9L614.2 29.9L621.7 29.9L629.2 29.9L636.7 29.9L644.1 29.9L651.6 29.9L659.1 29.9L666.6 29.9L674.0 29.9L681.5 29.9L681.5 33.9L681.5 41.8L681.5 49.6L681.5 57.5L681.5 65.4L681.5 73.2L681.5 81.1L681.5 89.0L681.5 96.9L681.5 104.8L681.5 112.6L681.5 120.5L681.5 128.4L681.5 136.2L681.5 144.1L681.5 150.0L674.0 150.7L666.6 150.7L659.1 150.7L651.6 150.7L647.9 152.0L644.1 154.0L636.7 154.0L629.2 154.0L621.7 154.0L614.2 154.0L606.8 154.0L599.3 154.0L591.8 154.0L587.9 152.0L584.0 151.2L578.0 149.0L572.5 145.4L572.3 144.1L571.6 136.2L571.6 128.4L571.6 120.5L571.6 112.6L571.6 104.8L571.6 96.9L571.9 89.0L572.3 81.1L572.5 77.2L573.9 73.2L578.0 67.3L579.5 65.4L584.0 59.5L586.0 57.5L589.9 49.6L589.9 41.8L591.8 37.8L599.3 37.8Z" fill="#1a74f0" fill-rule="evenodd"/>
<path d="M610.5 41.8L614.2 37.8L621.7 37.8L629.2 37.8L636.7 37.8L644.1 37.8L647.9 41.8L651.6 45.7L659.1 45.7L662.8 41.8L666.6 37.8L674.0 37.8L681.5 37.8L681.5 41.8L681.5 49.6L681.5 57.5L681.5 65.4L681.5 73.2L681.5 81.1L681.5 89.0L681.5 96.9L681.5 104.8L681.5 112.6L681.5 120.5L681.5 128.4L681.5 136.2L681.5 144.1L681.5 146.1L674.0 148.1L666.6 148.1L659.1 148.1L651.6 148.1L644.1 150.0L636.7 150.7L629.2 150.7L621.7 150.7L614.2 151.0L606.8 151.0L599.3 151.2L591.8 151.2L584.0 149.6L578.0 147.1L573.9 144.1L572.5 142.2L571.9 136.2L571.9 128.4L571.9 120.5L571.9 112.6L571.9 104.8L571.9 96.9L572.3 89.0L572.5 85.1L573.9 81.1L576.6 73.2L578.0 71.3L582.5 65.4L584.0 63.4L589.9 57.5L591.8 53.6L595.6 49.6L599.3 45.7L606.8 45.7Z" fill="#14a8ec" fill-rule="evenodd"/>
<path d="M662.8 49.6L666.6 45.7L674.0 45.7L681.5 45.7L681.5 49.6L681.5 57.5L681.5 65.4L681.5 73.2L681.5 81.1L681.5 89.0L681.5 96.9L681.5 104.8L681.5 112.6L681.5 120.5L681.5 128.4L681.5 136.2L681.5 142.2L677.8 144.1L674.0 145.4L666.6 145.4L659.1 145.4L651.6 145.4L644.1 146.1L636.7 148.1L629.2 148.1L621.7 148.1L614.2 149.0L606.8 149.0L599.3 149.6L591.8 149.6L584.0 148.1L578.0 145.1L576.6 144.1L572.5 138.2L572.3 136.2L572.3 128.4L572.3 120.5L572.3 112.6L572.3 104.8L572.3 96.9L572.5 92.9L573.9 89.0L576.6 81.1L578.0 77.2L581.0 73.2L584.0 69.3L587.9 65.4L591.8 61.4L595.6 57.5L599.3 53.6L606.8 53.6L614.2 53.6L621.7 53.6L629.2 53.6L636.7 53.6L644.1 53.6L651.6 53.6L659.1 53.6Z" fill="#1ed2cc" fill-rule="evenodd"/>
<path d="M662.8 57.5L666.6 53.6L674.0 51.6L681.5 50.9L681.5 57.5L681.5 65.4L681.5 73.2L681.5 81.1L681.5 89.0L681.5 96.9L681.5 104.8L681.5 112.6L681.5 120.5L681.5 128.4L681.5 136.2L681.5 138.2L674.0 142.2L666.6 142.2L659.1 142.2L651.6 142.2L644.1 140.2L640.4 144.1L636.7 145.4L629.2 145.4L621.7 145.4L614.2 147.1L606.8 147.1L599.3 148.1L591.8 148.1L584.0 146.5L579.5 144.1L578.0 142.2L573.9 136.2L573.4 128.4L573.2 120.5L573.2 112.6L573.4 104.8L573.9 96.9L576.6 89.0L578.0 85.1L581.0 81.1L584.0 77.2L587.9 73.2L591.8 69.3L595.6 65.4L599.3 61.4L606.8 61.4L614.2 61.4L621.7 61.4L629.2 61.4L636.7 61.4L644.1 61.4L651.6 61.4L659.1 61.4ZM636.7 108.7L632.9 112.6L632.9 120.5L636.7 124.4L640.4 120.5L640.4 112.6Z" fill="#1edcaa" fill-rule="evenodd"/>
<path d="M670.3 57.5L674.0 55.5L681.5 53.6L681.5 57.5L681.5 65.4L681.5 73.2L681.5 81.1L681.5 89.0L681.5 96.9L681.5 104.8L681.5 112.6L681.5 120.5L681.5 128.4L681.5 132.3L677.8 136.2L674.0 138.2L666.6 138.2L659.1 138.2L651.6 138.2L647.9 136.2L651.6 132.3L659.1 132.3L662.8 128.4L662.8 120.5L659.1 116.6L655.3 112.6L655.3 104.8L651.6 100.8L644.1 100.8L636.7 100.8L632.9 104.8L629.2 108.7L625.5 112.6L625.5 120.5L625.5 128.4L625.5 136.2L621.7 140.2L618.0 144.1L614.2 145.1L606.8 145.1L599.3 146.5L591.8 146.5L584.0 144.9L582.5 144.1L578.0 138.2L576.6 136.2L575.2 128.4L574.6 120.5L574.6 112.6L575.2 104.8L576.6 96.9L578.0 92.9L581.0 89.0L584.0 85.1L587.9 81.1L591.8 77.2L595.6 73.2L599.3 69.3L606.8 69.3L614.2 69.3L621.7 69.3L629.2 69.3L636.7 69.3L644.1 69.3L651.6 69.3L659.1 69.3L662.8 65.4L666.6 61.4ZM599.3 108.7L598.1 112.6L599.3 114.6L603.0 112.6Z" fill="#3eea78" fill-rule="evenodd"/>
<path d="M677.8 57.5L681.5 56.2L681.5 57.5L681.5 65.4L681.5 73.2L681.5 81.1L681.5 89.0L681.5 96.9L681.5 104.8L681.5 112.6L681.5 120.5L681.5 124.4L674.0 124.4L670.3 120.5L666.6 116.6L662.8 112.6L662.8 104.8L659.1 100.8L655.3 96.9L659.1 92.9L662.8 89.0L662.8 81.1L662.8 73.2L666.6 69.3L670.3 65.4L674.0 61.4ZM593.1 81.1L599.3 74.6L606.8 74.6L614.2 77.2L621.7 77.2L629.2 77.2L632.9 81.1L632.9 89.0L629.2 92.9L625.5 96.9L621.7 100.8L614.2 100.8L606.8 100.8L599.3 102.8L597.4 104.8L595.6 112.6L599.3 118.5L603.0 120.5L606.8 122.5L610.5 120.5L614.2 116.6L618.0 120.5L618.0 128.4L618.0 136.2L614.2 140.2L606.8 142.2L603.0 144.1L599.3 144.9L591.8 144.9L587.9 144.1L584.0 142.8L579.0 136.2L578.0 132.3L577.1 128.4L575.9 120.5L575.9 112.6L577.1 104.8L578.0 100.8L579.0 96.9L584.0 90.3L587.9 89.0L591.8 85.1Z" fill="#8aec2a" fill-rule="evenodd"/>
<path d="M675.9 65.4L681.5 59.5L681.5 65.4L681.5 73.2L681.5 81.1L681.5 89.0L681.5 96.9L681.5 104.8L681.5 112.6L681.5 116.6L677.8 112.6L674.0 108.7L670.3 104.8L666.6 100.8L662.8 96.9L666.6 92.9L668.4 89.0L668.4 81.1L670.3 73.2L674.0 69.3ZM595.6 81.1L599.3 77.2L606.8 77.2L612.4 81.1L610.5 89.0L606.8 92.9L603.0 96.9L599.3 98.8L595.6 96.9L593.7 89.0ZM581.0 96.9L584.0 92.9L589.9 96.9L591.8 100.8L593.7 104.8L593.1 112.6L597.4 120.5L597.4 128.4L599.3 132.3L603.0 128.4L606.8 126.4L610.5 128.4L610.5 136.2L606.8 138.2L599.3 140.2L591.8 142.2L584.0 140.2L581.0 136.2L579.0 128.4L578.0 124.4L577.3 120.5L577.3 112.6L578.0 108.7L579.0 104.8Z" fill="#d0f000" fill-rule="evenodd"/>
<path d="M679.6 65.4L681.5 63.4L681.5 65.4L681.5 73.2L681.5 81.1L681.5 89.0L681.5 96.9L681.5 104.8L681.5 108.7L677.8 104.8L674.0 100.8L670.3 96.9L672.2 89.0L672.2 81.1L674.0 77.2L675.9 73.2ZM598.1 81.1L599.3 79.8L606.8 79.8L608.6 81.1L606.8 85.1L603.0 89.0L599.3 92.9L597.4 89.0ZM583.0 96.9L584.0 95.6L586.0 96.9L589.9 104.8L590.5 112.6L591.8 116.6L593.7 120.5L593.7 128.4L595.6 136.2L591.8 138.2L584.0 137.6L583.0 136.2L581.0 128.4L579.0 120.5L579.0 112.6L581.0 104.8Z" fill="#ffff00" fill-rule="evenodd"/>
<path d="M679.6 73.2L681.5 69.3L681.5 73.2L681.5 81.1L681.5 89.0L681.5 96.9L681.5 100.8L677.8 96.9L675.9 89.0L675.9 81.1ZM583.0 104.8L584.0 100.8L586.0 104.8L587.9 112.6L589.9 120.5L587.9 128.4L584.0 132.3L583.0 128.4L581.0 120.5L581.0 112.6Z" fill="#ffcc00" fill-rule="evenodd"/>
<path d="M679.6 81.1L681.5 77.2L681.5 81.1L681.5 89.0L681.5 92.9L679.6 89.0ZM583.0 112.6L584.0 108.7L585.3 112.6L586.0 120.5L584.0 124.4L583.0 120.5Z" fill="#ffa400" fill-rule="evenodd"/>
<path d="M681.5 158.5L674.0 158.5L666.6 158.5L659.1 158.5L651.6 158.5L649.9 159.9L644.1 165.9L636.7 165.9L629.2 165.9L621.7 165.9L614.2 165.9L606.8 165.9L599.3 165.9L591.8 165.9L584.0 165.1L578.0 165.1L572.5 163.0L572.0 159.9L571.3 152.0L570.4 144.1L570.1 136.2L570.1 128.4L570.1 120.5L570.1 112.6L570.1 104.8L570.1 96.9L570.2 89.0L570.4 81.1L570.6 73.2L571.3 65.4L572.5 60.1L578.0 58.9L579.1 57.5L581.3 49.6L581.3 41.8L582.0 33.9L582.0 26.0M681.5 156.6L674.0 156.6L666.6 156.6L659.1 156.6L651.6 156.6L647.6 159.9L644.1 163.5L636.7 163.5L629.2 163.5L621.7 163.5L614.2 163.5L606.8 163.5L599.3 163.5L591.8 163.5L584.0 161.6L578.0 161.6L575.2 159.9L572.5 155.9L572.1 152.0L570.9 144.1L570.5 136.2L570.5 128.4L570.5 120.5L570.5 112.6L570.5 104.8L570.5 96.9L570.6 89.0L570.9 81.1L571.2 73.2L572.1 65.4L572.5 63.6L578.0 60.7L580.5 57.5L582.4 49.6L582.4 41.8L583.3 33.9L583.3 26.0M681.5 154.8L674.0 154.8L666.6 154.8L659.1 154.8L651.6 154.8L645.3 159.9L644.1 161.1L636.7 161.1L629.2 161.1L621.7 161.1L614.2 161.1L606.8 161.1L599.3 161.1L591.8 161.1L587.9 159.9L584.0 157.9L578.0 155.9L575.2 152.0L572.5 150.7L571.3 144.1L570.8 136.2L570.8 128.4L570.8 120.5L570.8 112.6L570.8 104.8L570.8 96.9L571.1 89.0L571.3 81.1L571.7 73.2L572.5 67.3L573.9 65.4L578.0 62.6L581.9 57.5L583.5 49.6L583.5 41.8L584.0 37.8L586.0 33.9L587.9 26.0M681.5 152.9L674.0 152.9L666.6 152.9L659.1 152.9L651.6 152.9L644.1 157.9L636.7 157.9L629.2 157.9L621.7 157.9L614.2 157.9L606.8 157.9L599.3 157.9L591.8 157.9L584.0 154.0L581.0 152.0L578.0 151.0L572.5 148.1L571.8 144.1L571.2 136.2L571.2 128.4L571.2 120.5L571.2 112.6L571.2 104.8L571.2 96.9L571.5 89.0L571.8 81.1L572.2 73.2L572.5 71.3L576.6 65.4L578.0 64.4L583.3 57.5L584.0 53.6L586.0 49.6L586.0 41.8L589.9 33.9L591.8 29.9L595.6 26.0M681.5 150.0L674.0 150.7L666.6 150.7L659.1 150.7L651.6 150.7L647.9 152.0L644.1 154.0L636.7 154.0L629.2 154.0L621.7 154.0L614.2 154.0L606.8 154.0L599.3 154.0L591.8 154.0L587.9 152.0L584.0 151.2L578.0 149.0L572.5 145.4L572.3 144.1L571.6 136.2L571.6 128.4L571.6 120.5L571.6 112.6L571.6 104.8L571.6 96.9L571.9 89.0L572.3 81.1L572.5 77.2L573.9 73.2L578.0 67.3L579.5 65.4L584.0 59.5L586.0 57.5L589.9 49.6L589.9 41.8L591.8 37.8L599.3 37.8L603.0 33.9L606.8 29.9L614.2 29.9L621.7 29.9L629.2 29.9L636.7 29.9L644.1 29.9L651.6 29.9L659.1 29.9L666.6 29.9L674.0 29.9L681.5 29.9M681.5 146.1L674.0 148.1L666.6 148.1L659.1 148.1L651.6 148.1L644.1 150.0L636.7 150.7L629.2 150.7L621.7 150.7L614.2 151.0L606.8 151.0L599.3 151.2L591.8 151.2L584.0 149.6L578.0 147.1L573.9 144.1L572.5 142.2L571.9 136.2L571.9 128.4L571.9 120.5L571.9 112.6L571.9 104.8L571.9 96.9L572.3 89.0L572.5 85.1L573.9 81.1L576.6 73.2L578.0 71.3L582.5 65.4L584.0 63.4L589.9 57.5L591.8 53.6L595.6 49.6L599.3 45.7L606.8 45.7L610.5 41.8L614.2 37.8L621.7 37.8L629.2 37.8L636.7 37.8L644.1 37.8L647.9 41.8L651.6 45.7L659.1 45.7L662.8 41.8L666.6 37.8L674.0 37.8L681.5 37.8M681.5 142.2L677.8 144.1L674.0 145.4L666.6 145.4L659.1 145.4L651.6 145.4L644.1 146.1L636.7 148.1L629.2 148.1L621.7 148.1L614.2 149.0L606.8 149.0L599.3 149.6L591.8 149.6L584.0 148.1L578.0 145.1L576.6 144.1L572.5 138.2L572.3 136.2L572.3 128.4L572.3 120.5L572.3 112.6L572.3 104.8L572.3 96.9L572.5 92.9L573.9 89.0L576.6 81.1L578.0 77.2L581.0 73.2L584.0 69.3L587.9 65.4L591.8 61.4L595.6 57.5L599.3 53.6L606.8 53.6L614.2 53.6L621.7 53.6L629.2 53.6L636.7 53.6L644.1 53.6L651.6 53.6L659.1 53.6L662.8 49.6L666.6 45.7L674.0 45.7L681.5 45.7M636.7 108.7L632.9 112.6L632.9 120.5L636.7 124.4L640.4 120.5L640.4 112.6L636.7 108.7M681.5 138.2L674.0 142.2L666.6 142.2L659.1 142.2L651.6 142.2L644.1 140.2L640.4 144.1L636.7 145.4L629.2 145.4L621.7 145.4L614.2 147.1L606.8 147.1L599.3 148.1L591.8 148.1L584.0 146.5L579.5 144.1L578.0 142.2L573.9 136.2L573.4 128.4L573.2 120.5L573.2 112.6L573.4 104.8L573.9 96.9L576.6 89.0L578.0 85.1L581.0 81.1L584.0 77.2L587.9 73.2L591.8 69.3L595.6 65.4L599.3 61.4L606.8 61.4L614.2 61.4L621.7 61.4L629.2 61.4L636.7 61.4L644.1 61.4L651.6 61.4L659.1 61.4L662.8 57.5L666.6 53.6L674.0 51.6L681.5 50.9M599.3 108.7L598.1 112.6L599.3 114.6L603.0 112.6L599.3 108.7M681.5 132.3L677.8 136.2L674.0 138.2L666.6 138.2L659.1 138.2L651.6 138.2L647.9 136.2L651.6 132.3L659.1 132.3L662.8 128.4L662.8 120.5L659.1 116.6L655.3 112.6L655.3 104.8L651.6 100.8L644.1 100.8L636.7 100.8L632.9 104.8L629.2 108.7L625.5 112.6L625.5 120.5L625.5 128.4L625.5 136.2L621.7 140.2L618.0 144.1L614.2 145.1L606.8 145.1L599.3 146.5L591.8 146.5L584.0 144.9L582.5 144.1L578.0 138.2L576.6 136.2L575.2 128.4L574.6 120.5L574.6 112.6L575.2 104.8L576.6 96.9L578.0 92.9L581.0 89.0L584.0 85.1L587.9 81.1L591.8 77.2L595.6 73.2L599.3 69.3L606.8 69.3L614.2 69.3L621.7 69.3L629.2 69.3L636.7 69.3L644.1 69.3L651.6 69.3L659.1 69.3L662.8 65.4L666.6 61.4L670.3 57.5L674.0 55.5L681.5 53.6M593.1 81.1L599.3 74.6L606.8 74.6L614.2 77.2L621.7 77.2L629.2 77.2L632.9 81.1L632.9 89.0L629.2 92.9L625.5 96.9L621.7 100.8L614.2 100.8L606.8 100.8L599.3 102.8L597.4 104.8L595.6 112.6L599.3 118.5L603.0 120.5L606.8 122.5L610.5 120.5L614.2 116.6L618.0 120.5L618.0 128.4L618.0 136.2L614.2 140.2L606.8 142.2L603.0 144.1L599.3 144.9L591.8 144.9L587.9 144.1L584.0 142.8L579.0 136.2L578.0 132.3L577.1 128.4L575.9 120.5L575.9 112.6L577.1 104.8L578.0 100.8L579.0 96.9L584.0 90.3L587.9 89.0L591.8 85.1L593.1 81.1M681.5 124.4L674.0 124.4L670.3 120.5L666.6 116.6L662.8 112.6L662.8 104.8L659.1 100.8L655.3 96.9L659.1 92.9L662.8 89.0L662.8 81.1L662.8 73.2L666.6 69.3L670.3 65.4L674.0 61.4L677.8 57.5L681.5 56.2M595.6 81.1L599.3 77.2L606.8 77.2L612.4 81.1L610.5 89.0L606.8 92.9L603.0 96.9L599.3 98.8L595.6 96.9L593.7 89.0L595.6 81.1M581.0 96.9L584.0 92.9L589.9 96.9L591.8 100.8L593.7 104.8L593.1 112.6L597.4 120.5L597.4 128.4L599.3 132.3L603.0 128.4L606.8 126.4L610.5 128.4L610.5 136.2L606.8 138.2L599.3 140.2L591.8 142.2L584.0 140.2L581.0 136.2L579.0 128.4L578.0 124.4L577.3 120.5L577.3 112.6L578.0 108.7L579.0 104.8L581.0 96.9M681.5 116.6L677.8 112.6L674.0 108.7L670.3 104.8L666.6 100.8L662.8 96.9L666.6 92.9L668.4 89.0L668.4 81.1L670.3 73.2L674.0 69.3L675.9 65.4L681.5 59.5M598.1 81.1L599.3 79.8L606.8 79.8L608.6 81.1L606.8 85.1L603.0 89.0L599.3 92.9L597.4 89.0L598.1 81.1M583.0 96.9L584.0 95.6L586.0 96.9L589.9 104.8L590.5 112.6L591.8 116.6L593.7 120.5L593.7 128.4L595.6 136.2L591.8 138.2L584.0 137.6L583.0 136.2L581.0 128.4L579.0 120.5L579.0 112.6L581.0 104.8L583.0 96.9M681.5 108.7L677.8 104.8L674.0 100.8L670.3 96.9L672.2 89.0L672.2 81.1L674.0 77.2L675.9 73.2L679.6 65.4L681.5 63.4M583.0 104.8L584.0 100.8L586.0 104.8L587.9 112.6L589.9 120.5L587.9 128.4L584.0 132.3L583.0 128.4L581.0 120.5L581.0 112.6L583.0 104.8M681.5 100.8L677.8 96.9L675.9 89.0L675.9 81.1L679.6 73.2L681.5 69.3M681.5 92.9L679.6 89.0L679.6 81.1L681.5 77.2M583.0 112.6L584.0 108.7L585.3 112.6L586.0 120.5L584.0 124.4L583.0 120.5L583.0 112.6" fill="none" stroke="#000" stroke-width="1"/>
<path d="M682.5 26.0L687.0 26.0L692.0 26.0L698.2 26.0L698.2 33.9L698.2 41.8L698.2 49.6L698.2 57.5L698.2 65.4L698.2 73.2L698.2 81.1L698.2 89.0L697.8 96.9L697.0 104.8L697.0 112.6L697.8 120.5L698.2 128.4L698.2 136.2L697.8 144.1L697.0 152.0L692.0 157.2L687.0 157.2L682.5 158.1L682.5 152.0L682.5 144.1L682.5 136.2L682.5 128.4L682.5 120.5L682.5 112.6L682.5 104.8L682.5 96.9L682.5 89.0L682.5 81.1L682.5 73.2L682.5 65.4L682.5 57.5L682.5 49.6L682.5 41.8L682.5 33.9ZM701.0 65.4L703.9 60.1L711.4 60.1L716.4 65.4L717.5 73.2L718.1 81.1L718.1 89.0L718.1 96.9L718.1 104.8L718.1 112.6L718.1 120.5L718.1 128.4L718.1 136.2L717.5 144.1L717.1 152.0L714.4 159.9L711.4 163.0L703.9 163.0L702.1 159.9L701.0 152.0L700.5 144.1L700.1 136.2L700.1 128.4L700.1 120.5L700.1 112.6L700.1 104.8L700.1 96.9L700.1 89.0L700.1 81.1L700.5 73.2ZM723.3 65.4L726.3 62.2L733.8 58.9L741.3 58.9L748.7 58.9L756.2 58.9L763.7 58.9L771.1 58.9L778.6 58.9L786.1 58.9L792.2 65.4L792.5 73.2L792.8 81.1L792.9 89.0L792.9 96.9L792.8 104.8L792.7 112.6L792.7 120.5L792.7 128.4L792.7 136.2L792.8 144.1L792.7 152.0L791.1 159.9L786.1 165.1L778.6 165.1L771.1 165.1L766.2 159.9L763.7 159.1L756.2 159.1L748.7 158.9L741.3 158.8L733.8 158.8L726.3 155.2L723.3 152.0L723.3 144.1L723.3 136.2L723.3 128.4L723.3 120.5L723.3 112.6L723.3 104.8L723.3 96.9L723.3 89.0L723.3 81.1L723.3 73.2Z" fill="#2c0a48" fill-rule="evenodd"/>
<path d="M682.5 26.0L687.0 26.0L692.0 26.0L696.4 26.0L696.4 33.9L696.4 41.8L696.4 49.6L696.4 57.5L696.4 65.4L696.4 73.2L696.4 81.1L696.4 89.0L695.5 96.9L693.7 104.8L693.7 112.6L695.5 120.5L696.4 128.4L696.4 136.2L695.5 144.1L693.7 152.0L692.0 153.8L687.0 153.8L682.5 155.6L682.5 152.0L682.5 144.1L682.5 136.2L682.5 128.4L682.5 120.5L682.5 112.6L682.5 104.8L682.5 96.9L682.5 89.0L682.5 81.1L682.5 73.2L682.5 65.4L682.5 57.5L682.5 49.6L682.5 41.8L682.5 33.9ZM702.9 65.4L703.9 63.6L711.4 63.6L713.0 65.4L715.8 73.2L717.0 81.1L717.0 89.0L717.0 96.9L717.0 104.8L717.0 112.6L717.0 120.5L717.0 128.4L717.0 136.2L715.8 144.1L714.8 152.0L711.4 157.9L703.9 155.9L702.9 152.0L701.9 144.1L701.0 136.2L701.0 128.4L701.0 120.5L701.0 112.6L701.0 104.8L701.0 96.9L701.0 89.0L701.0 81.1L701.9 73.2ZM727.6 65.4L733.8 60.7L741.3 60.7L748.7 60.7L756.2 60.7L763.7 60.7L771.1 60.7L778.6 60.7L786.1 60.7L790.5 65.4L791.1 73.2L791.8 81.1L792.0 89.0L792.0 96.9L791.8 104.8L791.5 112.6L791.5 120.5L791.5 128.4L791.5 136.2L791.8 144.1L791.5 152.0L787.8 159.9L786.1 161.6L778.6 161.6L771.1 161.6L769.5 159.9L763.7 158.0L756.2 158.0L748.7 157.7L741.3 157.2L733.8 157.2L727.2 152.0L726.8 144.1L726.7 136.2L726.6 128.4L726.6 120.5L726.6 112.6L726.7 104.8L726.7 96.9L726.6 89.0L726.6 81.1L726.8 73.2Z" fill="#4a0c8e" fill-rule="evenodd"/>
<path d="M682.5 26.0L687.0 26.0L692.0 26.0L694.6 26.0L694.6 33.9L694.6 41.8L694.6 49.6L694.6 57.5L694.6 65.4L694.6 73.2L694.6 81.1L694.6 89.0L693.2 96.9L692.0 100.8L691.2 104.8L691.2 112.6L692.0 116.6L693.2 120.5L694.6 128.4L694.6 136.2L693.2 144.1L692.0 148.1L687.0 150.0L684.8 152.0L682.5 153.2L682.5 152.0L682.5 144.1L682.5 136.2L682.5 128.4L682.5 120.5L682.5 112.6L682.5 104.8L682.5 96.9L682.5 89.0L682.5 81.1L682.5 73.2L682.5 65.4L682.5 57.5L682.5 49.6L682.5 41.8L682.5 33.9ZM730.1 65.4L733.8 62.6L741.3 62.6L748.7 62.6L756.2 62.6L763.7 62.6L771.1 62.6L778.6 62.6L786.1 62.6L788.7 65.4L789.7 73.2L790.7 81.1L791.1 89.0L791.1 96.9L790.7 104.8L790.3 112.6L790.3 120.5L790.3 128.4L790.3 136.2L790.7 144.1L790.3 152.0L786.1 158.9L778.6 159.1L771.1 159.2L763.7 156.9L756.2 156.9L748.7 156.4L741.3 155.8L733.8 155.8L729.1 152.0L727.7 144.1L727.3 136.2L727.2 128.4L727.2 120.5L727.2 112.6L727.3 104.8L727.3 96.9L727.2 89.0L727.1 81.1L727.7 73.2ZM703.2 73.2L703.9 69.3L711.4 67.3L714.0 73.2L716.0 81.1L716.0 89.0L716.0 96.9L716.0 104.8L716.0 112.6L716.0 120.5L716.0 128.4L716.0 136.2L714.0 144.1L712.5 152.0L711.4 154.0L707.6 152.0L703.9 148.1L703.2 144.1L701.8 136.2L701.8 128.4L701.8 120.5L701.8 112.6L701.8 104.8L701.8 96.9L701.8 89.0L701.8 81.1Z" fill="#1414a8" fill-rule="evenodd"/>
<path d="M682.5 26.0L687.0 26.0L692.0 26.0L692.9 26.0L692.9 33.9L692.9 41.8L692.9 49.6L692.9 57.5L692.9 65.4L692.9 73.2L692.9 81.1L692.9 89.0L692.0 92.9L691.4 96.9L689.5 104.8L689.5 112.6L690.8 120.5L692.0 124.4L692.9 128.4L692.9 136.2L692.0 140.2L689.5 144.1L687.0 146.1L682.5 150.7L682.5 144.1L682.5 136.2L682.5 128.4L682.5 120.5L682.5 112.6L682.5 104.8L682.5 96.9L682.5 89.0L682.5 81.1L682.5 73.2L682.5 65.4L682.5 57.5L682.5 49.6L682.5 41.8L682.5 33.9ZM732.5 65.4L733.8 64.4L741.3 64.4L748.7 64.4L756.2 64.4L763.7 64.4L771.1 64.4L778.6 64.4L786.1 64.4L787.0 65.4L788.2 73.2L789.7 81.1L790.2 89.0L790.2 96.9L789.7 104.8L789.1 112.6L789.1 120.5L789.1 128.4L789.1 136.2L789.7 144.1L789.1 152.0L786.1 156.9L778.6 157.5L771.1 157.9L763.7 155.8L756.2 155.8L748.7 155.2L741.3 154.2L733.8 154.2L731.0 152.0L728.7 144.1L728.0 136.2L727.8 128.4L727.8 120.5L727.9 112.6L728.0 104.8L728.0 96.9L727.9 89.0L727.7 81.1L728.7 73.2ZM707.6 73.2L711.4 71.3L712.3 73.2L715.0 81.1L715.0 89.0L715.0 96.9L715.0 104.8L715.0 112.6L715.0 120.5L715.0 128.4L715.0 136.2L712.3 144.1L711.4 148.1L707.6 144.1L703.9 142.2L702.6 136.2L702.6 128.4L702.6 120.5L702.6 112.6L702.6 104.8L702.6 96.9L702.6 89.0L702.6 81.1L703.9 75.2Z" fill="#1a32ee" fill-rule="evenodd"/>
<path d="M682.5 26.0L687.0 26.0L691.4 26.0L691.5 33.9L691.5 41.8L691.5 49.6L691.5 57.5L691.4 65.4L691.2 73.2L691.2 81.1L691.2 89.0L690.1 96.9L687.8 104.8L687.8 112.6L688.2 120.5L689.5 128.4L689.5 136.2L687.0 140.2L685.9 144.1L682.5 148.1L682.5 144.1L682.5 136.2L682.5 128.4L682.5 120.5L682.5 112.6L682.5 104.8L682.5 96.9L682.5 89.0L682.5 81.1L682.5 73.2L682.5 65.4L682.5 57.5L682.5 49.6L682.5 41.8L682.5 33.9ZM729.6 73.2L733.8 66.2L741.3 66.0L748.7 66.2L756.2 66.4L763.7 66.7L771.1 66.7L778.6 67.3L786.1 69.3L786.8 73.2L788.7 81.1L789.3 89.0L789.3 96.9L788.7 104.8L787.9 112.6L787.9 120.5L787.9 128.4L787.9 136.2L788.7 144.1L787.9 152.0L786.1 155.0L778.6 155.9L771.1 156.6L763.7 154.7L756.2 154.7L748.7 153.9L741.3 152.8L733.8 152.8L732.9 152.0L729.6 144.1L728.7 136.2L728.3 128.4L728.3 120.5L728.5 112.6L728.7 104.8L728.7 96.9L728.5 89.0L728.2 81.1ZM703.5 81.1L703.9 79.2L711.4 74.6L713.9 81.1L713.9 89.0L713.9 96.9L713.9 104.8L713.9 112.6L713.9 120.5L713.9 128.4L713.9 136.2L711.4 142.8L703.9 138.2L703.5 136.2L703.5 128.4L703.5 120.5L703.5 112.6L703.5 104.8L703.5 96.9L703.5 89.0Z" fill="#1a74f0" fill-rule="evenodd"/>
<path d="M682.5 26.0L687.0 26.0L690.1 26.0L690.5 33.9L690.5 41.8L690.5 49.6L690.5 57.5L690.1 65.4L689.5 73.2L689.5 81.1L689.5 89.0L688.9 96.9L687.0 102.8L685.9 104.8L685.9 112.6L685.9 120.5L685.9 128.4L685.9 136.2L683.6 144.1L682.5 145.4L682.5 144.1L682.5 136.2L682.5 128.4L682.5 120.5L682.5 112.6L682.5 104.8L682.5 96.9L682.5 89.0L682.5 81.1L682.5 73.2L682.5 65.4L682.5 57.5L682.5 49.6L682.5 41.8L682.5 33.9ZM730.5 73.2L733.8 67.7L741.3 67.3L748.7 67.7L756.2 68.3L763.7 69.3L771.1 69.3L778.6 71.3L782.4 73.2L786.1 75.2L787.6 81.1L788.4 89.0L788.4 96.9L787.6 104.8L786.7 112.6L786.7 120.5L786.7 128.4L786.7 136.2L787.6 144.1L786.7 152.0L786.1 153.0L778.6 154.4L771.1 155.3L763.7 153.6L756.2 153.6L748.7 152.6L745.0 152.0L741.3 151.3L733.8 151.0L730.5 144.1L729.4 136.2L728.9 128.4L728.9 120.5L729.1 112.6L729.4 104.8L729.4 96.9L729.1 89.0L728.7 81.1ZM705.8 81.1L711.4 77.2L712.9 81.1L712.9 89.0L712.9 96.9L712.9 104.8L712.9 112.6L712.9 120.5L712.9 128.4L712.9 136.2L711.4 140.2L705.8 136.2L705.8 128.4L705.8 120.5L705.8 112.6L705.8 104.8L705.8 96.9L705.8 89.0Z" fill="#14a8ec" fill-rule="evenodd"/>
<path d="M682.5 26.0L687.0 26.0L688.9 26.0L689.5 33.9L689.5 41.8L689.5 49.6L689.5 57.5L688.9 65.4L687.8 73.2L687.8 81.1L687.8 89.0L687.6 96.9L687.0 98.8L683.6 104.8L683.6 112.6L683.6 120.5L683.6 128.4L683.6 136.2L682.5 140.2L682.5 136.2L682.5 128.4L682.5 120.5L682.5 112.6L682.5 104.8L682.5 96.9L682.5 89.0L682.5 81.1L682.5 73.2L682.5 65.4L682.5 57.5L682.5 49.6L682.5 41.8L682.5 33.9ZM731.5 73.2L733.8 69.3L741.3 68.7L748.7 69.3L756.2 70.3L763.7 71.9L771.1 71.9L774.9 73.2L778.6 75.2L786.1 79.2L786.6 81.1L787.5 89.0L787.5 96.9L786.6 104.8L786.1 108.7L784.2 112.6L784.8 120.5L784.2 128.4L784.2 136.2L786.1 140.2L786.6 144.1L786.1 148.1L782.4 152.0L778.6 152.8L771.1 154.0L763.7 152.5L756.2 152.5L752.5 152.0L748.7 151.5L741.3 150.0L733.8 149.0L731.5 144.1L730.1 136.2L729.5 128.4L729.5 120.5L729.7 112.6L730.1 104.8L730.1 96.9L729.7 89.0L729.3 81.1ZM709.5 81.1L711.4 79.8L711.9 81.1L711.9 89.0L711.9 96.9L711.9 104.8L711.9 112.6L711.9 120.5L711.9 128.4L711.9 136.2L711.4 137.6L709.5 136.2L709.5 128.4L709.5 120.5L709.5 112.6L709.5 104.8L709.5 96.9L709.5 89.0Z" fill="#1ed2cc" fill-rule="evenodd"/>
<path d="M682.5 26.0L687.0 26.0L687.6 26.0L688.5 33.9L688.5 41.8L688.5 49.6L688.5 57.5L687.6 65.4L687.0 69.3L686.4 73.2L686.4 81.1L686.4 89.0L686.2 96.9L682.5 103.4L682.5 96.9L682.5 89.0L682.5 81.1L682.5 73.2L682.5 65.4L682.5 57.5L682.5 49.6L682.5 41.8L682.5 33.9ZM732.4 73.2L733.8 70.9L741.3 70.0L748.7 70.9L756.2 72.3L759.9 73.2L763.7 75.2L771.1 77.2L778.6 79.2L782.4 81.1L786.1 85.1L786.5 89.0L786.5 96.9L786.1 100.8L784.2 104.8L780.5 112.6L782.4 120.5L780.5 128.4L780.5 136.2L784.2 144.1L778.6 150.0L774.9 152.0L771.1 152.7L767.4 152.0L763.7 151.7L756.2 151.7L748.7 150.5L741.3 148.7L733.8 147.1L732.4 144.1L730.7 136.2L730.1 128.4L730.1 120.5L730.4 112.6L730.7 104.8L730.7 96.9L730.4 89.0L729.8 81.1Z" fill="#1edcaa" fill-rule="evenodd"/>
<path d="M682.5 26.0L686.4 26.0L687.0 29.9L687.5 33.9L687.5 41.8L687.5 49.6L687.5 57.5L687.0 61.4L686.6 65.4L685.3 73.2L685.3 81.1L685.3 89.0L684.8 96.9L682.5 100.8L682.5 96.9L682.5 89.0L682.5 81.1L682.5 73.2L682.5 65.4L682.5 57.5L682.5 49.6L682.5 41.8L682.5 33.9ZM733.3 73.2L733.8 72.5L741.3 71.3L748.7 72.5L752.5 73.2L756.2 74.6L763.7 79.2L767.4 81.1L771.1 85.1L778.6 85.1L782.4 89.0L782.4 96.9L780.5 104.8L778.6 108.7L778.2 112.6L778.6 116.6L779.9 120.5L778.6 124.4L778.3 128.4L778.3 136.2L778.6 140.2L780.5 144.1L778.6 146.1L771.1 151.5L763.7 151.0L756.2 151.0L748.7 149.5L741.3 147.4L733.8 145.1L733.3 144.1L731.4 136.2L730.6 128.4L730.6 120.5L731.0 112.6L731.4 104.8L731.4 96.9L731.0 89.0L730.3 81.1Z" fill="#3eea78" fill-rule="evenodd"/>
<path d="M682.5 26.0L685.3 26.0L686.4 33.9L686.4 41.8L686.4 49.6L686.4 57.5L685.6 65.4L684.2 73.2L684.2 81.1L684.2 89.0L683.2 96.9L682.5 98.2L682.5 96.9L682.5 89.0L682.5 81.1L682.5 73.2L682.5 65.4L682.5 57.5L682.5 49.6L682.5 41.8L682.5 33.9ZM737.5 73.2L741.3 72.6L745.0 73.2L748.7 74.0L756.2 77.2L761.8 81.1L763.7 85.1L767.4 89.0L771.1 92.9L774.9 96.9L776.8 104.8L777.4 112.6L778.2 120.5L777.6 128.4L777.6 136.2L778.1 144.1L771.1 150.5L763.7 150.4L756.2 150.4L748.7 148.6L741.3 146.1L735.7 144.1L733.8 142.8L732.1 136.2L731.2 128.4L731.2 120.5L731.6 112.6L732.1 104.8L732.1 96.9L731.6 89.0L730.9 81.1L733.8 73.9Z" fill="#8aec2a" fill-rule="evenodd"/>
<path d="M682.5 26.0L684.2 26.0L685.3 33.9L685.3 41.8L685.3 49.6L685.3 57.5L684.8 65.4L683.1 73.2L683.1 81.1L683.1 89.0L682.5 92.9L682.5 89.0L682.5 81.1L682.5 73.2L682.5 65.4L682.5 57.5L682.5 49.6L682.5 41.8L682.5 33.9ZM731.4 81.1L733.8 75.2L741.3 73.9L748.7 75.6L756.2 79.8L758.1 81.1L761.8 89.0L763.7 92.9L767.4 96.9L771.1 100.8L773.0 104.8L776.5 112.6L777.5 120.5L776.9 128.4L776.9 136.2L777.0 144.1L771.1 149.5L763.7 149.7L756.2 149.7L748.7 147.6L741.3 144.8L739.4 144.1L733.8 140.2L732.8 136.2L731.8 128.4L731.8 120.5L732.2 112.6L732.8 104.8L732.8 96.9L732.2 89.0Z" fill="#d0f000" fill-rule="evenodd"/>
<path d="M682.5 26.0L683.1 26.0L684.2 33.9L684.2 41.8L684.2 49.6L684.2 57.5L683.8 65.4L682.5 71.3L682.5 65.4L682.5 57.5L682.5 49.6L682.5 41.8L682.5 33.9ZM731.9 81.1L733.8 76.5L741.3 75.2L748.7 77.2L755.0 81.1L756.2 85.1L758.1 89.0L761.8 96.9L763.7 98.8L769.3 104.8L771.1 105.4L775.7 112.6L776.8 120.5L776.2 128.4L776.2 136.2L776.0 144.1L771.1 148.6L763.7 149.0L756.2 149.0L748.7 146.6L742.5 144.1L741.3 142.8L733.8 137.6L733.4 136.2L732.4 128.4L732.4 120.5L732.9 112.6L733.4 104.8L733.4 96.9L732.9 89.0Z" fill="#ffff00" fill-rule="evenodd"/>
<path d="M682.5 33.9L682.5 29.9L683.1 33.9L683.1 41.8L683.1 49.6L683.1 57.5L683.0 65.4L682.5 67.3L682.5 65.4L682.5 57.5L682.5 49.6L682.5 41.8ZM732.5 81.1L733.8 77.8L741.3 76.5L748.7 78.8L752.5 81.1L752.5 89.0L756.2 92.9L758.1 96.9L763.7 102.8L765.5 104.8L771.1 106.7L774.9 112.6L776.0 120.5L775.6 128.4L775.6 136.2L774.9 144.1L771.1 147.6L763.7 148.4L756.2 148.4L748.7 145.6L745.0 144.1L741.3 140.2L735.7 136.2L733.8 134.3L732.9 128.4L732.9 120.5L733.5 112.6L733.8 108.7L737.5 104.8L737.5 96.9L733.8 92.9L733.5 89.0Z" fill="#ffcc00" fill-rule="evenodd"/>
<path d="M733.0 81.1L733.8 79.2L741.3 77.8L748.7 80.3L750.0 81.1L748.7 85.1L745.0 89.0L741.3 92.9L737.5 89.0L733.8 87.0ZM745.0 104.8L748.7 100.8L756.2 100.8L759.9 104.8L763.7 105.5L771.1 108.0L774.1 112.6L775.3 120.5L774.9 128.4L774.9 136.2L773.8 144.1L771.1 146.6L763.7 147.7L756.2 147.7L748.7 144.6L747.5 144.1L741.3 137.6L739.4 136.2L733.8 130.3L733.5 128.4L733.5 120.5L733.8 116.6L737.5 112.6L741.3 108.7Z" fill="#ffa400" fill-rule="evenodd"/>
<path d="M733.5 81.1L733.8 80.5L741.3 79.2L746.9 81.1L741.3 87.0L733.8 83.1ZM745.0 112.6L748.7 108.7L756.2 106.1L763.7 107.1L771.1 109.3L773.2 112.6L774.5 120.5L774.2 128.4L774.2 136.2L772.7 144.1L771.1 145.6L763.7 147.1L756.2 147.1L749.5 144.1L748.7 142.8L742.5 136.2L741.3 134.3L735.7 128.4L737.5 120.5L741.3 116.6Z" fill="#e07830" fill-rule="evenodd"/>
<path d="M737.5 81.1L741.3 80.5L743.1 81.1L741.3 83.1ZM750.6 112.6L756.2 108.7L763.7 108.7L771.1 110.7L772.4 112.6L773.8 120.5L773.5 128.4L773.5 136.2L771.7 144.1L771.1 144.6L763.7 146.4L756.2 146.4L751.0 144.1L748.7 140.2L745.0 136.2L741.3 130.3L739.4 128.4L741.3 124.4L742.5 120.5L748.7 113.9Z" fill="#c84c50" fill-rule="evenodd"/>
<path d="M754.3 112.6L756.2 111.3L763.7 110.3L771.1 112.0L771.6 112.6L773.0 120.5L772.8 128.4L772.8 136.2L771.1 142.8L769.9 144.1L763.7 145.8L756.2 145.8L752.5 144.1L748.7 137.6L747.5 136.2L743.1 128.4L745.0 120.5L748.7 116.6Z" fill="#e0245e" fill-rule="evenodd"/>
<path d="M759.9 112.6L763.7 111.8L767.4 112.6L771.1 114.6L772.3 120.5L772.2 128.4L772.2 136.2L771.1 140.2L767.4 144.1L763.7 145.1L756.2 145.1L754.0 144.1L750.6 136.2L748.7 132.3L746.9 128.4L747.5 120.5L748.7 119.2L756.2 114.6Z" fill="#ff0870" fill-rule="evenodd"/>
<path d="M752.5 120.5L756.2 118.5L763.7 116.6L771.1 118.5L771.5 120.5L771.5 128.4L771.5 136.2L771.1 137.6L764.9 144.1L763.7 144.5L756.2 144.5L755.5 144.1L754.3 136.2L752.5 128.4Z" fill="#fc40bc" fill-rule="evenodd"/>
<path d="M698.2 26.0L698.2 33.9L698.2 41.8L698.2 49.6L698.2 57.5L698.2 65.4L698.2 73.2L698.2 81.1L698.2 89.0L697.8 96.9L697.0 104.8L697.0 112.6L697.8 120.5L698.2 128.4L698.2 136.2L697.8 144.1L697.0 152.0L692.0 157.2L687.0 157.2L682.5 158.1M701.0 65.4L703.9 60.1L711.4 60.1L716.4 65.4L717.5 73.2L718.1 81.1L718.1 89.0L718.1 96.9L718.1 104.8L718.1 112.6L718.1 120.5L718.1 128.4L718.1 136.2L717.5 144.1L717.1 152.0L714.4 159.9L711.4 163.0L703.9 163.0L702.1 159.9L701.0 152.0L700.5 144.1L700.1 136.2L700.1 128.4L700.1 120.5L700.1 112.6L700.1 104.8L700.1 96.9L700.1 89.0L700.1 81.1L700.5 73.2L701.0 65.4M723.3 65.4L726.3 62.2L733.8 58.9L741.3 58.9L748.7 58.9L756.2 58.9L763.7 58.9L771.1 58.9L778.6 58.9L786.1 58.9L792.2 65.4L792.5 73.2L792.8 81.1L792.9 89.0L792.9 96.9L792.8 104.8L792.7 112.6L792.7 120.5L792.7 128.4L792.7 136.2L792.8 144.1L792.7 152.0L791.1 159.9L786.1 165.1L778.6 165.1L771.1 165.1L766.2 159.9L763.7 159.1L756.2 159.1L748.7 158.9L741.3 158.8L733.8 158.8L726.3 155.2L723.3 152.0L723.3 144.1L723.3 136.2L723.3 128.4L723.3 120.5L723.3 112.6L723.3 104.8L723.3 96.9L723.3 89.0L723.3 81.1L723.3 73.2L723.3 65.4M696.4 26.0L696.4 33.9L696.4 41.8L696.4 49.6L696.4 57.5L696.4 65.4L696.4 73.2L696.4 81.1L696.4 89.0L695.5 96.9L693.7 104.8L693.7 112.6L695.5 120.5L696.4 128.4L696.4 136.2L695.5 144.1L693.7 152.0L692.0 153.8L687.0 153.8L682.5 155.6M702.9 65.4L703.9 63.6L711.4 63.6L713.0 65.4L715.8 73.2L717.0 81.1L717.0 89.0L717.0 96.9L717.0 104.8L717.0 112.6L717.0 120.5L717.0 128.4L717.0 136.2L715.8 144.1L714.8 152.0L711.4 157.9L703.9 155.9L702.9 152.0L701.9 144.1L701.0 136.2L701.0 128.4L701.0 120.5L701.0 112.6L701.0 104.8L701.0 96.9L701.0 89.0L701.0 81.1L701.9 73.2L702.9 65.4M727.6 65.4L733.8 60.7L741.3 60.7L748.7 60.7L756.2 60.7L763.7 60.7L771.1 60.7L778.6 60.7L786.1 60.7L790.5 65.4L791.1 73.2L791.8 81.1L792.0 89.0L792.0 96.9L791.8 104.8L791.5 112.6L791.5 120.5L791.5 128.4L791.5 136.2L791.8 144.1L791.5 152.0L787.8 159.9L786.1 161.6L778.6 161.6L771.1 161.6L769.5 159.9L763.7 158.0L756.2 158.0L748.7 157.7L741.3 157.2L733.8 157.2L727.2 152.0L726.8 144.1L726.7 136.2L726.6 128.4L726.6 120.5L726.6 112.6L726.7 104.8L726.7 96.9L726.6 89.0L726.6 81.1L726.8 73.2L727.6 65.4M694.6 26.0L694.6 33.9L694.6 41.8L694.6 49.6L694.6 57.5L694.6 65.4L694.6 73.2L694.6 81.1L694.6 89.0L693.2 96.9L692.0 100.8L691.2 104.8L691.2 112.6L692.0 116.6L693.2 120.5L694.6 128.4L694.6 136.2L693.2 144.1L692.0 148.1L687.0 150.0L684.8 152.0L682.5 153.2M730.1 65.4L733.8 62.6L741.3 62.6L748.7 62.6L756.2 62.6L763.7 62.6L771.1 62.6L778.6 62.6L786.1 62.6L788.7 65.4L789.7 73.2L790.7 81.1L791.1 89.0L791.1 96.9L790.7 104.8L790.3 112.6L790.3 120.5L790.3 128.4L790.3 136.2L790.7 144.1L790.3 152.0L786.1 158.9L778.6 159.1L771.1 159.2L763.7 156.9L756.2 156.9L748.7 156.4L741.3 155.8L733.8 155.8L729.1 152.0L727.7 144.1L727.3 136.2L727.2 128.4L727.2 120.5L727.2 112.6L727.3 104.8L727.3 96.9L727.2 89.0L727.1 81.1L727.7 73.2L730.1 65.4M703.2 73.2L703.9 69.3L711.4 67.3L714.0 73.2L716.0 81.1L716.0 89.0L716.0 96.9L716.0 104.8L716.0 112.6L716.0 120.5L716.0 128.4L716.0 136.2L714.0 144.1L712.5 152.0L711.4 154.0L707.6 152.0L703.9 148.1L703.2 144.1L701.8 136.2L701.8 128.4L701.8 120.5L701.8 112.6L701.8 104.8L701.8 96.9L701.8 89.0L701.8 81.1L703.2 73.2M692.9 26.0L692.9 33.9L692.9 41.8L692.9 49.6L692.9 57.5L692.9 65.4L692.9 73.2L692.9 81.1L692.9 89.0L692.0 92.9L691.4 96.9L689.5 104.8L689.5 112.6L690.8 120.5L692.0 124.4L692.9 128.4L692.9 136.2L692.0 140.2L689.5 144.1L687.0 146.1L682.5 150.7M732.5 65.4L733.8 64.4L741.3 64.4L748.7 64.4L756.2 64.4L763.7 64.4L771.1 64.4L778.6 64.4L786.1 64.4L787.0 65.4L788.2 73.2L789.7 81.1L790.2 89.0L790.2 96.9L789.7 104.8L789.1 112.6L789.1 120.5L789.1 128.4L789.1 136.2L789.7 144.1L789.1 152.0L786.1 156.9L778.6 157.5L771.1 157.9L763.7 155.8L756.2 155.8L748.7 155.2L741.3 154.2L733.8 154.2L731.0 152.0L728.7 144.1L728.0 136.2L727.8 128.4L727.8 120.5L727.9 112.6L728.0 104.8L728.0 96.9L727.9 89.0L727.7 81.1L728.7 73.2L732.5 65.4M707.6 73.2L711.4 71.3L712.3 73.2L715.0 81.1L715.0 89.0L715.0 96.9L715.0 104.8L715.0 112.6L715.0 120.5L715.0 128.4L715.0 136.2L712.3 144.1L711.4 148.1L707.6 144.1L703.9 142.2L702.6 136.2L702.6 128.4L702.6 120.5L702.6 112.6L702.6 104.8L702.6 96.9L702.6 89.0L702.6 81.1L703.9 75.2L707.6 73.2M691.4 26.0L691.5 33.9L691.5 41.8L691.5 49.6L691.5 57.5L691.4 65.4L691.2 73.2L691.2 81.1L691.2 89.0L690.1 96.9L687.8 104.8L687.8 112.6L688.2 120.5L689.5 128.4L689.5 136.2L687.0 140.2L685.9 144.1L682.5 148.1M729.6 73.2L733.8 66.2L741.3 66.0L748.7 66.2L756.2 66.4L763.7 66.7L771.1 66.7L778.6 67.3L786.1 69.3L786.8 73.2L788.7 81.1L789.3 89.0L789.3 96.9L788.7 104.8L787.9 112.6L787.9 120.5L787.9 128.4L787.9 136.2L788.7 144.1L787.9 152.0L786.1 155.0L778.6 155.9L771.1 156.6L763.7 154.7L756.2 154.7L748.7 153.9L741.3 152.8L733.8 152.8L732.9 152.0L729.6 144.1L728.7 136.2L728.3 128.4L728.3 120.5L728.5 112.6L728.7 104.8L728.7 96.9L728.5 89.0L728.2 81.1L729.6 73.2M703.5 81.1L703.9 79.2L711.4 74.6L713.9 81.1L713.9 89.0L713.9 96.9L713.9 104.8L713.9 112.6L713.9 120.5L713.9 128.4L713.9 136.2L711.4 142.8L703.9 138.2L703.5 136.2L703.5 128.4L703.5 120.5L703.5 112.6L703.5 104.8L703.5 96.9L703.5 89.0L703.5 81.1M690.1 26.0L690.5 33.9L690.5 41.8L690.5 49.6L690.5 57.5L690.1 65.4L689.5 73.2L689.5 81.1L689.5 89.0L688.9 96.9L687.0 102.8L685.9 104.8L685.9 112.6L685.9 120.5L685.9 128.4L685.9 136.2L683.6 144.1L682.5 145.4M730.5 73.2L733.8 67.7L741.3 67.3L748.7 67.7L756.2 68.3L763.7 69.3L771.1 69.3L778.6 71.3L782.4 73.2L786.1 75.2L787.6 81.1L788.4 89.0L788.4 96.9L787.6 104.8L786.7 112.6L786.7 120.5L786.7 128.4L786.7 136.2L787.6 144.1L786.7 152.0L786.1 153.0L778.6 154.4L771.1 155.3L763.7 153.6L756.2 153.6L748.7 152.6L745.0 152.0L741.3 151.3L733.8 151.0L730.5 144.1L729.4 136.2L728.9 128.4L728.9 120.5L729.1 112.6L729.4 104.8L729.4 96.9L729.1 89.0L728.7 81.1L730.5 73.2M705.8 81.1L711.4 77.2L712.9 81.1L712.9 89.0L712.9 96.9L712.9 104.8L712.9 112.6L712.9 120.5L712.9 128.4L712.9 136.2L711.4 140.2L705.8 136.2L705.8 128.4L705.8 120.5L705.8 112.6L705.8 104.8L705.8 96.9L705.8 89.0L705.8 81.1M688.9 26.0L689.5 33.9L689.5 41.8L689.5 49.6L689.5 57.5L688.9 65.4L687.8 73.2L687.8 81.1L687.8 89.0L687.6 96.9L687.0 98.8L683.6 104.8L683.6 112.6L683.6 120.5L683.6 128.4L683.6 136.2L682.5 140.2M731.5 73.2L733.8 69.3L741.3 68.7L748.7 69.3L756.2 70.3L763.7 71.9L771.1 71.9L774.9 73.2L778.6 75.2L786.1 79.2L786.6 81.1L787.5 89.0L787.5 96.9L786.6 104.8L786.1 108.7L784.2 112.6L784.8 120.5L784.2 128.4L784.2 136.2L786.1 140.2L786.6 144.1L786.1 148.1L782.4 152.0L778.6 152.8L771.1 154.0L763.7 152.5L756.2 152.5L752.5 152.0L748.7 151.5L741.3 150.0L733.8 149.0L731.5 144.1L730.1 136.2L729.5 128.4L729.5 120.5L729.7 112.6L730.1 104.8L730.1 96.9L729.7 89.0L729.3 81.1L731.5 73.2M709.5 81.1L711.4 79.8L711.9 81.1L711.9 89.0L711.9 96.9L711.9 104.8L711.9 112.6L711.9 120.5L711.9 128.4L711.9 136.2L711.4 137.6L709.5 136.2L709.5 128.4L709.5 120.5L709.5 112.6L709.5 104.8L709.5 96.9L709.5 89.0L709.5 81.1M687.6 26.0L688.5 33.9L688.5 41.8L688.5 49.6L688.5 57.5L687.6 65.4L687.0 69.3L686.4 73.2L686.4 81.1L686.4 89.0L686.2 96.9L682.5 103.4M732.4 73.2L733.8 70.9L741.3 70.0L748.7 70.9L756.2 72.3L759.9 73.2L763.7 75.2L771.1 77.2L778.6 79.2L782.4 81.1L786.1 85.1L786.5 89.0L786.5 96.9L786.1 100.8L784.2 104.8L780.5 112.6L782.4 120.5L780.5 128.4L780.5 136.2L784.2 144.1L778.6 150.0L774.9 152.0L771.1 152.7L767.4 152.0L763.7 151.7L756.2 151.7L748.7 150.5L741.3 148.7L733.8 147.1L732.4 144.1L730.7 136.2L730.1 128.4L730.1 120.5L730.4 112.6L730.7 104.8L730.7 96.9L730.4 89.0L729.8 81.1L732.4 73.2M686.4 26.0L687.0 29.9L687.5 33.9L687.5 41.8L687.5 49.6L687.5 57.5L687.0 61.4L686.6 65.4L685.3 73.2L685.3 81.1L685.3 89.0L684.8 96.9L682.5 100.8M733.3 73.2L733.8 72.5L741.3 71.3L748.7 72.5L752.5 73.2L756.2 74.6L763.7 79.2L767.4 81.1L771.1 85.1L778.6 85.1L782.4 89.0L782.4 96.9L780.5 104.8L778.6 108.7L778.2 112.6L778.6 116.6L779.9 120.5L778.6 124.4L778.3 128.4L778.3 136.2L778.6 140.2L780.5 144.1L778.6 146.1L771.1 151.5L763.7 151.0L756.2 151.0L748.7 149.5L741.3 147.4L733.8 145.1L733.3 144.1L731.4 136.2L730.6 128.4L730.6 120.5L731.0 112.6L731.4 104.8L731.4 96.9L731.0 89.0L730.3 81.1L733.3 73.2M685.3 26.0L686.4 33.9L686.4 41.8L686.4 49.6L686.4 57.5L685.6 65.4L684.2 73.2L684.2 81.1L684.2 89.0L683.2 96.9L682.5 98.2M737.5 73.2L741.3 72.6L745.0 73.2L748.7 74.0L756.2 77.2L761.8 81.1L763.7 85.1L767.4 89.0L771.1 92.9L774.9 96.9L776.8 104.8L777.4 112.6L778.2 120.5L777.6 128.4L777.6 136.2L778.1 144.1L771.1 150.5L763.7 150.4L756.2 150.4L748.7 148.6L741.3 146.1L735.7 144.1L733.8 142.8L732.1 136.2L731.2 128.4L731.2 120.5L731.6 112.6L732.1 104.8L732.1 96.9L731.6 89.0L730.9 81.1L733.8 73.9L737.5 73.2M684.2 26.0L685.3 33.9L685.3 41.8L685.3 49.6L685.3 57.5L684.8 65.4L683.1 73.2L683.1 81.1L683.1 89.0L682.5 92.9M731.4 81.1L733.8 75.2L741.3 73.9L748.7 75.6L756.2 79.8L758.1 81.1L761.8 89.0L763.7 92.9L767.4 96.9L771.1 100.8L773.0 104.8L776.5 112.6L777.5 120.5L776.9 128.4L776.9 136.2L777.0 144.1L771.1 149.5L763.7 149.7L756.2 149.7L748.7 147.6L741.3 144.8L739.4 144.1L733.8 140.2L732.8 136.2L731.8 128.4L731.8 120.5L732.2 112.6L732.8 104.8L732.8 96.9L732.2 89.0L731.4 81.1M683.1 26.0L684.2 33.9L684.2 41.8L684.2 49.6L684.2 57.5L683.8 65.4L682.5 71.3M731.9 81.1L733.8 76.5L741.3 75.2L748.7 77.2L755.0 81.1L756.2 85.1L758.1 89.0L761.8 96.9L763.7 98.8L769.3 104.8L771.1 105.4L775.7 112.6L776.8 120.5L776.2 128.4L776.2 136.2L776.0 144.1L771.1 148.6L763.7 149.0L756.2 149.0L748.7 146.6L742.5 144.1L741.3 142.8L733.8 137.6L733.4 136.2L732.4 128.4L732.4 120.5L732.9 112.6L733.4 104.8L733.4 96.9L732.9 89.0L731.9 81.1M682.5 29.9L683.1 33.9L683.1 41.8L683.1 49.6L683.1 57.5L683.0 65.4L682.5 67.3M732.5 81.1L733.8 77.8L741.3 76.5L748.7 78.8L752.5 81.1L752.5 89.0L756.2 92.9L758.1 96.9L763.7 102.8L765.5 104.8L771.1 106.7L774.9 112.6L776.0 120.5L775.6 128.4L775.6 136.2L774.9 144.1L771.1 147.6L763.7 148.4L756.2 148.4L748.7 145.6L745.0 144.1L741.3 140.2L735.7 136.2L733.8 134.3L732.9 128.4L732.9 120.5L733.5 112.6L733.8 108.7L737.5 104.8L737.5 96.9L733.8 92.9L733.5 89.0L732.5 81.1M733.0 81.1L733.8 79.2L741.3 77.8L748.7 80.3L750.0 81.1L748.7 85.1L745.0 89.0L741.3 92.9L737.5 89.0L733.8 87.0L733.0 81.1M745.0 104.8L748.7 100.8L756.2 100.8L759.9 104.8L763.7 105.5L771.1 108.0L774.1 112.6L775.3 120.5L774.9 128.4L774.9 136.2L773.8 144.1L771.1 146.6L763.7 147.7L756.2 147.7L748.7 144.6L747.5 144.1L741.3 137.6L739.4 136.2L733.8 130.3L733.5 128.4L733.5 120.5L733.8 116.6L737.5 112.6L741.3 108.7L745.0 104.8M733.5 81.1L733.8 80.5L741.3 79.2L746.9 81.1L741.3 87.0L733.8 83.1L733.5 81.1M745.0 112.6L748.7 108.7L756.2 106.1L763.7 107.1L771.1 109.3L773.2 112.6L774.5 120.5L774.2 128.4L774.2 136.2L772.7 144.1L771.1 145.6L763.7 147.1L756.2 147.1L749.5 144.1L748.7 142.8L742.5 136.2L741.3 134.3L735.7 128.4L737.5 120.5L741.3 116.6L745.0 112.6M737.5 81.1L741.3 80.5L743.1 81.1L741.3 83.1L737.5 81.1M750.6 112.6L756.2 108.7L763.7 108.7L771.1 110.7L772.4 112.6L773.8 120.5L773.5 128.4L773.5 136.2L771.7 144.1L771.1 144.6L763.7 146.4L756.2 146.4L751.0 144.1L748.7 140.2L745.0 136.2L741.3 130.3L739.4 128.4L741.3 124.4L742.5 120.5L748.7 113.9L750.6 112.6M754.3 112.6L756.2 111.3L763.7 110.3L771.1 112.0L771.6 112.6L773.0 120.5L772.8 128.4L772.8 136.2L771.1 142.8L769.9 144.1L763.7 145.8L756.2 145.8L752.5 144.1L748.7 137.6L747.5 136.2L743.1 128.4L745.0 120.5L748.7 116.6L754.3 112.6M759.9 112.6L763.7 111.8L767.4 112.6L771.1 114.6L772.3 120.5L772.2 128.4L772.2 136.2L771.1 140.2L767.4 144.1L763.7 145.1L756.2 145.1L754.0 144.1L750.6 136.2L748.7 132.3L746.9 128.4L747.5 120.5L748.7 119.2L756.2 114.6L759.9 112.6M752.5 120.5L756.2 118.5L763.7 116.6L771.1 118.5L771.5 120.5L771.5 128.4L771.5 136.2L771.1 137.6L764.9 144.1L763.7 144.5L756.2 144.5L755.5 144.1L754.3 136.2L752.5 128.4L752.5 120.5" fill="none" stroke="#000" stroke-width="1"/>
<rect x="680" y="26" width="2" height="136" fill="#fff"/>
</g>
<clipPath id="clip0_270"><rect x="67" y="296" width="269" height="189"/></clipPath>
<g clip-path="url(#clip0_270)" shape-rendering="crispEdges">
<path d="M94.4 296.0L96.9 296.0L104.4 296.0L111.8 296.0L119.3 296.0L126.8 296.0L134.2 296.0L141.7 296.0L149.2 296.0L156.7 296.0L164.1 296.0L171.6 296.0L178.0 296.0L178.0 303.9L178.0 311.8L178.0 319.6L178.0 327.5L178.0 335.4L178.0 343.2L178.0 351.1L178.0 359.0L178.0 366.9L178.0 374.8L178.0 382.6L178.0 390.5L178.0 398.4L178.0 406.2L178.0 414.1L178.0 422.0L178.0 428.1L171.6 428.1L164.1 428.1L156.7 428.1L149.2 428.1L141.7 428.1L134.2 428.1L126.8 428.1L125.1 429.9L119.3 435.9L111.8 435.9L104.4 435.9L96.9 435.9L89.4 435.9L82.0 435.9L76.0 435.9L70.0 433.5L70.0 429.9L70.0 422.0L70.0 414.1L70.0 406.2L70.0 398.4L70.0 390.5L70.0 382.6L70.0 374.8L70.0 366.9L70.0 359.0L70.0 351.1L70.0 343.2L70.0 335.4L70.0 332.8L76.0 330.1L82.0 329.3L89.4 328.9L91.1 327.5L94.4 319.6L94.4 311.8L94.4 303.9Z" fill="#2c0a48" fill-rule="evenodd"/>
<path d="M96.1 296.0L96.9 296.0L104.4 296.0L111.8 296.0L119.3 296.0L126.8 296.0L134.2 296.0L141.7 296.0L149.2 296.0L156.7 296.0L164.1 296.0L171.6 296.0L178.0 296.0L178.0 303.9L178.0 311.8L178.0 319.6L178.0 327.5L178.0 335.4L178.0 343.2L178.0 351.1L178.0 359.0L178.0 366.9L178.0 374.8L178.0 382.6L178.0 390.5L178.0 398.4L178.0 406.2L178.0 414.1L178.0 422.0L178.0 425.6L171.6 425.6L164.1 425.6L156.7 425.6L149.2 425.6L141.7 425.6L134.2 425.6L126.8 425.6L122.8 429.9L119.3 433.5L111.8 433.5L104.4 433.5L96.9 433.5L89.4 433.5L82.0 433.5L76.0 433.5L70.0 432.0L70.0 429.9L70.0 422.0L70.0 414.1L70.0 406.2L70.0 398.4L70.0 390.5L70.0 382.6L70.0 374.8L70.0 366.9L70.0 359.0L70.0 351.1L70.0 343.2L70.0 335.4L70.0 334.5L76.0 333.6L82.0 331.7L89.4 330.7L93.4 327.5L96.1 319.6L96.1 311.8L96.1 303.9Z" fill="#4a0c8e" fill-rule="evenodd"/>
<path d="M97.7 296.0L104.4 296.0L111.8 296.0L119.3 296.0L126.8 296.0L134.2 296.0L141.7 296.0L149.2 296.0L156.7 296.0L164.1 296.0L171.6 296.0L178.0 296.0L178.0 303.9L178.0 311.8L178.0 319.6L178.0 327.5L178.0 335.4L178.0 343.2L178.0 351.1L178.0 359.0L178.0 366.9L178.0 374.8L178.0 382.6L178.0 390.5L178.0 398.4L178.0 406.2L178.0 414.1L178.0 422.0L178.0 423.2L171.6 423.2L164.1 423.2L156.7 423.2L149.2 423.2L141.7 423.2L134.2 423.2L126.8 423.2L120.5 429.9L119.3 431.1L111.8 431.1L104.4 431.1L96.9 431.1L89.4 431.1L82.0 431.1L76.0 431.1L70.0 430.6L70.0 429.9L70.0 422.0L70.0 414.1L70.0 406.2L70.0 398.4L70.0 390.5L70.0 382.6L70.0 374.8L70.0 366.9L70.0 359.0L70.0 351.1L70.0 343.2L70.0 336.0L76.0 336.7L79.0 335.4L82.0 334.2L89.4 332.6L95.7 327.5L96.9 323.6L97.5 319.6L97.5 311.8L97.5 303.9Z" fill="#1414a8" fill-rule="evenodd"/>
<path d="M99.2 296.0L104.4 296.0L111.8 296.0L119.3 296.0L126.8 296.0L134.2 296.0L141.7 296.0L149.2 296.0L156.7 296.0L164.1 296.0L171.6 296.0L174.8 296.0L174.8 303.9L174.8 311.8L178.0 315.7L178.0 319.6L178.0 327.5L178.0 335.4L178.0 343.2L178.0 351.1L178.0 359.0L178.0 366.9L178.0 374.8L178.0 382.6L178.0 390.5L178.0 398.4L178.0 406.2L178.0 414.1L178.0 420.7L171.6 420.7L164.1 420.7L156.7 420.7L149.2 420.7L141.7 420.7L134.2 420.7L126.8 420.7L124.9 422.0L119.3 427.9L111.8 427.9L104.4 427.9L96.9 427.9L89.4 427.9L82.0 427.9L76.0 427.9L70.0 427.9L70.0 422.0L70.0 414.1L70.0 406.2L70.0 398.4L70.0 390.5L70.0 382.6L70.0 374.8L70.0 366.9L70.0 359.0L70.0 351.1L70.0 343.2L70.0 337.3L76.0 339.3L82.0 337.3L85.7 335.4L89.4 334.4L96.9 331.4L97.7 327.5L98.8 319.6L98.8 311.8L98.8 303.9Z" fill="#1a32ee" fill-rule="evenodd"/>
<path d="M100.7 296.0L104.4 296.0L111.8 296.0L119.3 296.0L126.8 296.0L134.2 296.0L141.7 296.0L149.2 296.0L152.9 296.0L156.7 299.9L164.1 299.9L167.8 303.9L167.8 311.8L171.6 315.7L174.8 319.6L178.0 323.6L178.0 327.5L178.0 335.4L178.0 343.2L178.0 351.1L178.0 359.0L178.0 366.9L178.0 374.8L178.0 382.6L178.0 390.5L178.0 398.4L178.0 406.2L178.0 414.1L178.0 418.1L171.6 418.1L164.1 418.1L156.7 418.1L149.2 418.1L141.7 418.1L134.2 418.1L126.8 418.1L121.2 422.0L119.3 424.0L111.8 424.0L104.4 424.0L96.9 424.0L89.4 424.0L82.0 424.0L76.0 424.0L70.0 424.0L70.0 422.0L70.0 414.1L70.0 406.2L70.0 398.4L70.0 390.5L70.0 382.6L70.0 374.8L70.0 366.9L70.0 359.0L70.0 351.1L70.0 343.2L70.0 338.7L76.0 341.9L82.0 341.3L89.4 339.3L96.9 339.3L98.8 335.4L99.2 327.5L100.0 319.6L100.0 311.8L100.0 303.9ZM119.3 370.8L118.1 374.8L119.3 376.7L123.0 374.8Z" fill="#1a74f0" fill-rule="evenodd"/>
<path d="M102.2 296.0L104.4 296.0L111.8 296.0L119.3 296.0L126.8 296.0L130.5 296.0L134.2 299.9L141.7 299.9L149.2 299.9L152.9 303.9L152.9 311.8L156.7 315.7L160.4 319.6L164.1 323.6L171.6 323.6L174.8 327.5L178.0 328.5L178.0 335.4L178.0 343.2L178.0 351.1L178.0 359.0L178.0 366.9L178.0 374.8L178.0 382.6L178.0 390.5L178.0 398.4L178.0 406.2L178.0 414.1L178.0 415.4L171.6 415.4L164.1 415.4L156.7 415.4L149.2 415.4L141.7 415.4L134.2 415.4L126.8 415.4L119.3 420.7L111.8 421.0L104.4 421.0L96.9 421.0L89.4 421.0L82.0 421.0L76.0 421.0L70.0 421.2L70.0 414.1L70.0 406.2L70.0 398.4L70.0 390.5L70.0 382.6L70.0 374.8L70.0 366.9L70.0 359.0L70.0 351.1L70.0 343.2L70.0 340.0L75.0 343.2L76.0 344.0L82.0 344.2L89.4 344.6L96.9 345.2L100.7 343.2L102.5 335.4L100.7 327.5L101.3 319.6L101.3 311.8L101.3 303.9ZM119.3 364.9L117.4 366.9L115.5 374.8L119.3 380.7L126.8 378.7L128.6 374.8L126.8 370.8L123.0 366.9Z" fill="#14a8ec" fill-rule="evenodd"/>
<path d="M103.7 296.0L104.4 296.0L111.8 296.0L115.5 296.0L119.3 299.9L123.0 303.9L123.0 311.8L126.8 315.7L130.5 319.6L130.5 327.5L134.2 331.4L137.9 327.5L137.9 319.6L137.9 311.8L141.7 307.8L145.4 311.8L145.4 319.6L145.4 327.5L149.2 329.5L152.9 327.5L156.7 323.6L160.4 327.5L164.1 329.5L171.6 328.8L178.0 330.5L178.0 335.4L178.0 343.2L178.0 351.1L178.0 359.0L178.0 366.9L178.0 374.8L178.0 382.6L178.0 390.5L178.0 398.4L178.0 406.2L178.0 413.1L171.6 412.8L164.1 412.2L156.7 412.2L149.2 412.2L141.7 412.2L134.2 412.2L126.8 412.2L124.9 414.1L119.3 418.1L111.8 419.0L104.4 419.0L96.9 419.0L89.4 419.0L82.0 419.0L76.0 419.0L70.0 419.6L70.0 414.1L70.0 406.2L70.0 398.4L70.0 390.5L70.0 382.6L70.0 374.8L70.0 366.9L70.0 359.0L70.0 351.1L70.0 343.2L70.0 341.3L73.0 343.2L76.0 345.6L82.0 346.2L89.4 347.2L96.9 349.2L104.4 347.2L108.1 343.2L106.3 335.4L104.4 333.4L102.2 327.5L102.5 319.6L102.5 311.8L102.5 303.9ZM126.8 357.0L123.0 359.0L119.3 361.0L113.7 366.9L113.0 374.8L117.4 382.6L119.3 384.6L126.8 386.6L130.5 382.6L132.3 374.8L130.5 366.9L130.5 359.0ZM141.7 339.3L137.9 343.2L137.9 351.1L141.7 355.1L145.4 351.1L145.4 343.2Z" fill="#1ed2cc" fill-rule="evenodd"/>
<path d="M103.8 303.9L104.4 299.9L111.8 299.9L115.5 303.9L115.5 311.8L119.3 315.7L123.0 319.6L123.0 327.5L126.8 331.4L130.5 335.4L130.5 343.2L130.5 351.1L126.8 353.1L119.3 355.1L111.8 355.1L108.1 351.1L111.8 347.2L115.5 343.2L111.8 339.3L109.9 335.4L104.4 329.5L103.7 327.5L103.8 319.6L103.8 311.8ZM145.4 335.4L149.2 333.4L156.7 331.4L164.1 333.4L171.6 331.4L178.0 332.4L178.0 335.4L178.0 343.2L178.0 351.1L178.0 359.0L178.0 366.9L178.0 374.8L178.0 382.6L178.0 390.5L178.0 398.4L178.0 406.2L178.0 411.2L171.6 410.2L164.1 408.2L156.7 408.2L149.2 408.2L141.7 408.2L134.2 408.2L126.8 408.2L121.2 414.1L119.3 415.4L111.8 417.1L104.4 417.1L96.9 417.1L89.4 417.1L82.0 417.1L76.0 417.1L70.0 418.1L70.0 414.1L70.0 406.2L70.0 398.4L70.0 390.5L70.0 382.6L70.0 374.8L70.0 366.9L70.0 359.0L70.0 351.1L70.0 343.2L70.0 342.6L71.0 343.2L76.0 347.2L82.0 348.2L89.4 349.8L93.2 351.1L96.9 355.1L100.7 359.0L104.4 362.9L108.1 366.9L108.1 374.8L111.8 378.7L113.7 382.6L119.3 388.5L123.0 390.5L126.8 394.4L130.5 390.5L134.2 386.6L137.9 382.6L137.9 374.8L137.9 366.9L141.7 362.9L145.4 359.0L149.2 355.1L151.1 351.1L152.9 343.2L149.2 339.3Z" fill="#1edcaa" fill-rule="evenodd"/>
<path d="M167.8 335.4L171.6 334.1L178.0 334.4L178.0 335.4L178.0 343.2L178.0 351.1L178.0 359.0L178.0 366.9L178.0 374.8L178.0 382.6L178.0 390.5L178.0 398.4L178.0 406.2L178.0 409.2L171.6 407.6L167.8 406.2L164.1 402.3L160.4 398.4L160.4 390.5L156.7 386.6L149.2 388.5L143.6 382.6L143.6 374.8L145.4 366.9L149.2 362.9L152.9 359.0L154.8 351.1L156.7 347.2L158.5 343.2L164.1 337.3ZM70.0 351.1L70.0 344.6L76.0 348.8L82.0 350.1L85.7 351.1L89.4 355.1L93.2 359.0L96.9 362.9L100.7 366.9L100.7 374.8L104.4 378.7L108.1 382.6L111.8 386.6L115.5 390.5L119.3 394.4L123.0 398.4L124.9 406.2L119.3 412.2L115.5 414.1L111.8 415.1L104.4 415.1L96.9 415.1L89.4 415.1L82.0 415.1L76.0 415.1L70.0 416.5L70.0 414.1L70.0 406.2L70.0 398.4L70.0 390.5L70.0 382.6L70.0 374.8L70.0 366.9L70.0 359.0Z" fill="#3eea78" fill-rule="evenodd"/>
<path d="M162.2 343.2L164.1 341.3L171.6 337.3L178.0 337.3L178.0 343.2L178.0 351.1L178.0 359.0L178.0 366.9L178.0 372.8L171.6 372.8L166.0 366.9L164.1 364.9L158.5 359.0L158.5 351.1ZM70.0 351.1L70.0 347.2L76.0 350.3L79.0 351.1L79.0 359.0L79.0 366.9L76.0 370.8L73.0 374.8L76.0 378.7L79.0 382.6L79.0 390.5L79.0 398.4L82.0 402.3L89.4 402.3L96.9 400.3L100.7 398.4L104.4 394.4L111.8 394.4L115.5 398.4L119.3 402.3L121.2 406.2L119.3 408.2L111.8 412.8L104.4 412.8L96.9 412.2L89.4 410.2L82.0 410.2L76.0 412.2L73.0 414.1L70.0 414.9L70.0 414.1L70.0 406.2L70.0 398.4L70.0 390.5L70.0 382.6L70.0 374.8L70.0 366.9L70.0 359.0ZM147.3 374.8L149.2 370.8L156.7 370.8L160.4 374.8L156.7 378.7L152.9 382.6L149.2 384.6L147.3 382.6ZM167.8 390.5L171.6 386.6L178.0 386.6L178.0 390.5L178.0 398.4L178.0 406.2L178.0 407.2L174.8 406.2L171.6 404.3L166.0 398.4Z" fill="#8aec2a" fill-rule="evenodd"/>
<path d="M167.8 343.2L171.6 341.3L178.0 341.3L178.0 343.2L178.0 351.1L178.0 359.0L178.0 366.9L178.0 368.8L171.6 368.8L169.7 366.9L164.1 361.0L162.2 359.0L162.2 351.1L164.1 347.2ZM70.0 351.1L70.0 349.8L73.0 351.1L73.0 359.0L70.0 362.9L70.0 359.0ZM70.0 398.4L70.0 392.5L74.5 398.4L76.0 402.3L79.0 406.2L76.0 408.2L70.0 412.2L70.0 406.2ZM169.7 398.4L171.6 394.4L178.0 392.5L178.0 398.4L178.0 404.3L171.6 400.3ZM93.2 406.2L96.9 404.3L104.4 400.3L111.8 400.3L117.4 406.2L111.8 410.2L104.4 410.2L96.9 408.2Z" fill="#d0f000" fill-rule="evenodd"/>
<path d="M167.8 351.1L171.6 347.2L178.0 347.2L178.0 351.1L178.0 359.0L178.0 362.9L171.6 362.9L167.8 359.0ZM70.0 398.4L70.0 396.4L71.5 398.4L73.0 406.2L70.0 408.2L70.0 406.2ZM174.8 398.4L178.0 396.4L178.0 398.4L178.0 400.3ZM100.7 406.2L104.4 404.3L111.8 404.3L113.7 406.2L111.8 407.6L104.4 407.6Z" fill="#ffff00" fill-rule="evenodd"/>
<path d="M70.0 332.8L76.0 330.1L82.0 329.3L89.4 328.9L91.1 327.5L94.4 319.6L94.4 311.8L94.4 303.9L94.4 296.0M178.0 428.1L171.6 428.1L164.1 428.1L156.7 428.1L149.2 428.1L141.7 428.1L134.2 428.1L126.8 428.1L125.1 429.9L119.3 435.9L111.8 435.9L104.4 435.9L96.9 435.9L89.4 435.9L82.0 435.9L76.0 435.9L70.0 433.5M70.0 334.5L76.0 333.6L82.0 331.7L89.4 330.7L93.4 327.5L96.1 319.6L96.1 311.8L96.1 303.9L96.1 296.0M178.0 425.6L171.6 425.6L164.1 425.6L156.7 425.6L149.2 425.6L141.7 425.6L134.2 425.6L126.8 425.6L122.8 429.9L119.3 433.5L111.8 433.5L104.4 433.5L96.9 433.5L89.4 433.5L82.0 433.5L76.0 433.5L70.0 432.0M70.0 336.0L76.0 336.7L79.0 335.4L82.0 334.2L89.4 332.6L95.7 327.5L96.9 323.6L97.5 319.6L97.5 311.8L97.5 303.9L97.7 296.0M178.0 423.2L171.6 423.2L164.1 423.2L156.7 423.2L149.2 423.2L141.7 423.2L134.2 423.2L126.8 423.2L120.5 429.9L119.3 431.1L111.8 431.1L104.4 431.1L96.9 431.1L89.4 431.1L82.0 431.1L76.0 431.1L70.0 430.6M174.8 296.0L174.8 303.9L174.8 311.8L178.0 315.7M70.0 337.3L76.0 339.3L82.0 337.3L85.7 335.4L89.4 334.4L96.9 331.4L97.7 327.5L98.8 319.6L98.8 311.8L98.8 303.9L99.2 296.0M178.0 420.7L171.6 420.7L164.1 420.7L156.7 420.7L149.2 420.7L141.7 420.7L134.2 420.7L126.8 420.7L124.9 422.0L119.3 427.9L111.8 427.9L104.4 427.9L96.9 427.9L89.4 427.9L82.0 427.9L76.0 427.9L70.0 427.9M152.9 296.0L156.7 299.9L164.1 299.9L167.8 303.9L167.8 311.8L171.6 315.7L174.8 319.6L178.0 323.6M70.0 338.7L76.0 341.9L82.0 341.3L89.4 339.3L96.9 339.3L98.8 335.4L99.2 327.5L100.0 319.6L100.0 311.8L100.0 303.9L100.7 296.0M119.3 370.8L118.1 374.8L119.3 376.7L123.0 374.8L119.3 370.8M178.0 418.1L171.6 418.1L164.1 418.1L156.7 418.1L149.2 418.1L141.7 418.1L134.2 418.1L126.8 418.1L121.2 422.0L119.3 424.0L111.8 424.0L104.4 424.0L96.9 424.0L89.4 424.0L82.0 424.0L76.0 424.0L70.0 424.0M130.5 296.0L134.2 299.9L141.7 299.9L149.2 299.9L152.9 303.9L152.9 311.8L156.7 315.7L160.4 319.6L164.1 323.6L171.6 323.6L174.8 327.5L178.0 328.5M70.0 340.0L75.0 343.2L76.0 344.0L82.0 344.2L89.4 344.6L96.9 345.2L100.7 343.2L102.5 335.4L100.7 327.5L101.3 319.6L101.3 311.8L101.3 303.9L102.2 296.0M119.3 364.9L117.4 366.9L115.5 374.8L119.3 380.7L126.8 378.7L128.6 374.8L126.8 370.8L123.0 366.9L119.3 364.9M178.0 415.4L171.6 415.4L164.1 415.4L156.7 415.4L149.2 415.4L141.7 415.4L134.2 415.4L126.8 415.4L119.3 420.7L111.8 421.0L104.4 421.0L96.9 421.0L89.4 421.0L82.0 421.0L76.0 421.0L70.0 421.2M115.5 296.0L119.3 299.9L123.0 303.9L123.0 311.8L126.8 315.7L130.5 319.6L130.5 327.5L134.2 331.4L137.9 327.5L137.9 319.6L137.9 311.8L141.7 307.8L145.4 311.8L145.4 319.6L145.4 327.5L149.2 329.5L152.9 327.5L156.7 323.6L160.4 327.5L164.1 329.5L171.6 328.8L178.0 330.5M70.0 341.3L73.0 343.2L76.0 345.6L82.0 346.2L89.4 347.2L96.9 349.2L104.4 347.2L108.1 343.2L106.3 335.4L104.4 333.4L102.2 327.5L102.5 319.6L102.5 311.8L102.5 303.9L103.7 296.0M141.7 339.3L137.9 343.2L137.9 351.1L141.7 355.1L145.4 351.1L145.4 343.2L141.7 339.3M126.8 357.0L123.0 359.0L119.3 361.0L113.7 366.9L113.0 374.8L117.4 382.6L119.3 384.6L126.8 386.6L130.5 382.6L132.3 374.8L130.5 366.9L130.5 359.0L126.8 357.0M178.0 413.1L171.6 412.8L164.1 412.2L156.7 412.2L149.2 412.2L141.7 412.2L134.2 412.2L126.8 412.2L124.9 414.1L119.3 418.1L111.8 419.0L104.4 419.0L96.9 419.0L89.4 419.0L82.0 419.0L76.0 419.0L70.0 419.6M103.8 303.9L104.4 299.9L111.8 299.9L115.5 303.9L115.5 311.8L119.3 315.7L123.0 319.6L123.0 327.5L126.8 331.4L130.5 335.4L130.5 343.2L130.5 351.1L126.8 353.1L119.3 355.1L111.8 355.1L108.1 351.1L111.8 347.2L115.5 343.2L111.8 339.3L109.9 335.4L104.4 329.5L103.7 327.5L103.8 319.6L103.8 311.8L103.8 303.9M70.0 342.6L71.0 343.2L76.0 347.2L82.0 348.2L89.4 349.8L93.2 351.1L96.9 355.1L100.7 359.0L104.4 362.9L108.1 366.9L108.1 374.8L111.8 378.7L113.7 382.6L119.3 388.5L123.0 390.5L126.8 394.4L130.5 390.5L134.2 386.6L137.9 382.6L137.9 374.8L137.9 366.9L141.7 362.9L145.4 359.0L149.2 355.1L151.1 351.1L152.9 343.2L149.2 339.3L145.4 335.4L149.2 333.4L156.7 331.4L164.1 333.4L171.6 331.4L178.0 332.4M178.0 411.2L171.6 410.2L164.1 408.2L156.7 408.2L149.2 408.2L141.7 408.2L134.2 408.2L126.8 408.2L121.2 414.1L119.3 415.4L111.8 417.1L104.4 417.1L96.9 417.1L89.4 417.1L82.0 417.1L76.0 417.1L70.0 418.1M70.0 344.6L76.0 348.8L82.0 350.1L85.7 351.1L89.4 355.1L93.2 359.0L96.9 362.9L100.7 366.9L100.7 374.8L104.4 378.7L108.1 382.6L111.8 386.6L115.5 390.5L119.3 394.4L123.0 398.4L124.9 406.2L119.3 412.2L115.5 414.1L111.8 415.1L104.4 415.1L96.9 415.1L89.4 415.1L82.0 415.1L76.0 415.1L70.0 416.5M178.0 409.2L171.6 407.6L167.8 406.2L164.1 402.3L160.4 398.4L160.4 390.5L156.7 386.6L149.2 388.5L143.6 382.6L143.6 374.8L145.4 366.9L149.2 362.9L152.9 359.0L154.8 351.1L156.7 347.2L158.5 343.2L164.1 337.3L167.8 335.4L171.6 334.1L178.0 334.4M70.0 347.2L76.0 350.3L79.0 351.1L79.0 359.0L79.0 366.9L76.0 370.8L73.0 374.8L76.0 378.7L79.0 382.6L79.0 390.5L79.0 398.4L82.0 402.3L89.4 402.3L96.9 400.3L100.7 398.4L104.4 394.4L111.8 394.4L115.5 398.4L119.3 402.3L121.2 406.2L119.3 408.2L111.8 412.8L104.4 412.8L96.9 412.2L89.4 410.2L82.0 410.2L76.0 412.2L73.0 414.1L70.0 414.9M147.3 374.8L149.2 370.8L156.7 370.8L160.4 374.8L156.7 378.7L152.9 382.6L149.2 384.6L147.3 382.6L147.3 374.8M178.0 372.8L171.6 372.8L166.0 366.9L164.1 364.9L158.5 359.0L158.5 351.1L162.2 343.2L164.1 341.3L171.6 337.3L178.0 337.3M178.0 407.2L174.8 406.2L171.6 404.3L166.0 398.4L167.8 390.5L171.6 386.6L178.0 386.6M70.0 349.8L73.0 351.1L73.0 359.0L70.0 362.9M178.0 368.8L171.6 368.8L169.7 366.9L164.1 361.0L162.2 359.0L162.2 351.1L164.1 347.2L167.8 343.2L171.6 341.3L178.0 341.3M70.0 392.5L74.5 398.4L76.0 402.3L79.0 406.2L76.0 408.2L70.0 412.2M93.2 406.2L96.9 404.3L104.4 400.3L111.8 400.3L117.4 406.2L111.8 410.2L104.4 410.2L96.9 408.2L93.2 406.2M178.0 404.3L171.6 400.3L169.7 398.4L171.6 394.4L178.0 392.5M178.0 362.9L171.6 362.9L167.8 359.0L167.8 351.1L171.6 347.2L178.0 347.2M70.0 396.4L71.5 398.4L73.0 406.2L70.0 408.2M100.7 406.2L104.4 404.3L111.8 404.3L113.7 406.2L111.8 407.6L104.4 407.6L100.7 406.2M178.0 400.3L174.8 398.4L178.0 396.4" fill="none" stroke="#000" stroke-width="1"/>
<path d="M225.0 296.0L228.0 296.0L230.8 296.0L230.8 303.9L230.8 311.8L230.8 319.6L230.8 327.5L231.4 332.2L238.9 330.1L243.8 335.4L245.4 343.2L245.4 351.1L245.4 359.0L245.4 366.9L245.4 374.8L245.4 382.6L245.4 390.5L245.4 398.4L245.4 406.2L245.4 414.1L244.6 422.0L238.9 428.1L231.4 425.1L228.0 428.1L225.0 429.1L225.0 422.0L225.0 414.1L225.0 406.2L225.0 398.4L225.0 390.5L225.0 382.6L225.0 374.8L225.0 366.9L225.0 359.0L225.0 351.1L225.0 343.2L225.0 335.4L225.0 327.5L225.0 319.6L225.0 311.8L225.0 303.9ZM250.8 335.4L253.8 332.2L261.3 329.3L268.8 329.3L276.2 329.3L283.7 329.3L291.2 329.3L298.6 329.3L306.1 329.3L313.6 329.3L321.0 329.3L328.5 329.3L336.0 329.3L343.0 329.3L343.0 335.4L343.0 343.2L343.0 351.1L343.0 359.0L343.0 366.9L343.0 374.8L343.0 382.6L343.0 390.5L343.0 398.4L343.0 406.2L343.0 414.1L343.0 422.0L343.0 429.9L343.0 435.1L336.0 435.1L328.5 435.1L321.0 435.1L313.6 435.1L306.1 435.1L298.6 435.1L291.2 435.1L283.7 435.1L276.2 435.1L271.3 429.9L268.8 428.8L261.3 428.5L253.8 425.1L250.8 422.0L250.8 414.1L250.8 406.2L250.8 398.4L250.8 390.5L250.8 382.6L250.8 374.8L250.8 366.9L250.8 359.0L250.8 351.1L250.8 343.2Z" fill="#2c0a48" fill-rule="evenodd"/>
<path d="M225.0 296.0L228.0 296.0L230.0 296.0L230.0 303.9L230.0 311.8L230.0 319.6L230.0 327.5L230.8 335.4L230.8 343.2L230.8 351.1L230.8 359.0L230.8 366.9L230.8 374.8L230.8 382.6L230.8 390.5L230.8 398.4L230.8 406.2L230.8 414.1L230.6 422.0L228.0 425.6L225.0 428.0L225.0 422.0L225.0 414.1L225.0 406.2L225.0 398.4L225.0 390.5L225.0 382.6L225.0 374.8L225.0 366.9L225.0 359.0L225.0 351.1L225.0 343.2L225.0 335.4L225.0 327.5L225.0 319.6L225.0 311.8L225.0 303.9ZM235.2 335.4L238.9 333.6L240.5 335.4L244.2 343.2L244.2 351.1L244.2 359.0L244.2 366.9L244.2 374.8L244.2 382.6L244.2 390.5L244.2 398.4L244.2 406.2L244.2 414.1L242.3 422.0L238.9 425.6L233.3 422.0L232.2 414.1L232.2 406.2L232.2 398.4L232.2 390.5L232.2 382.6L232.2 374.8L232.2 366.9L232.2 359.0L232.2 351.1L232.2 343.2ZM255.7 335.4L261.3 331.7L268.8 331.7L276.2 331.7L283.7 331.7L291.2 331.7L298.6 331.7L306.1 331.7L313.6 331.7L321.0 331.7L328.5 331.7L336.0 331.7L343.0 331.7L343.0 335.4L343.0 343.2L343.0 351.1L343.0 359.0L343.0 366.9L343.0 374.8L343.0 382.6L343.0 390.5L343.0 398.4L343.0 406.2L343.0 414.1L343.0 422.0L343.0 429.9L343.0 431.6L336.0 431.6L328.5 431.6L321.0 431.6L313.6 431.6L306.1 431.6L298.6 431.6L291.2 431.6L283.7 431.6L276.2 431.6L274.6 429.9L268.8 427.2L261.3 426.6L255.1 422.0L254.4 414.1L254.3 406.3L254.3 398.4L254.2 390.5L254.2 382.6L254.2 374.8L254.2 366.9L254.2 359.0L254.3 351.1L254.6 343.2Z" fill="#4a0c8e" fill-rule="evenodd"/>
<path d="M225.0 296.0L228.0 296.0L229.2 296.0L229.2 303.9L229.2 311.8L229.2 319.6L229.2 327.5L229.7 335.4L229.7 343.2L229.7 351.1L229.7 359.0L229.7 366.9L229.7 374.8L229.7 382.6L229.7 390.5L229.7 398.4L229.7 406.2L229.7 414.1L228.8 422.0L228.0 423.2L225.0 426.9L225.0 422.0L225.0 414.1L225.0 406.2L225.0 398.4L225.0 390.5L225.0 382.6L225.0 374.8L225.0 366.9L225.0 359.0L225.0 351.1L225.0 343.2L225.0 335.4L225.0 327.5L225.0 319.6L225.0 311.8L225.0 303.9ZM259.4 335.4L261.3 334.2L268.8 334.2L276.2 334.2L283.7 334.2L291.2 334.2L298.6 334.2L306.1 334.2L313.6 334.2L321.0 334.2L328.5 334.2L336.0 334.2L343.0 334.2L343.0 335.4L343.0 343.2L343.0 351.1L343.0 359.0L343.0 366.9L343.0 374.8L343.0 382.6L343.0 390.5L343.0 398.4L343.0 406.2L343.0 414.1L343.0 422.0L343.0 428.9L336.0 428.9L328.5 428.9L321.0 428.9L313.6 428.9L306.1 428.9L298.6 428.9L291.2 428.9L283.7 428.9L276.2 428.9L268.8 425.8L261.3 424.8L257.6 422.0L255.7 414.1L255.4 406.2L255.2 398.4L255.1 390.5L254.9 382.6L254.9 374.7L254.9 366.9L255.1 359.0L255.2 351.1L256.1 343.2ZM233.6 343.2L238.9 336.4L243.0 343.2L243.0 351.1L243.0 359.0L243.0 366.9L243.0 374.8L243.0 382.6L243.0 390.5L243.0 398.4L243.0 406.2L243.0 414.1L240.0 422.0L238.9 423.2L237.0 422.0L233.6 414.1L233.6 406.2L233.6 398.4L233.6 390.5L233.6 382.6L233.6 374.8L233.6 366.9L233.6 359.0L233.6 351.1Z" fill="#1414a8" fill-rule="evenodd"/>
<path d="M225.0 296.0L228.0 296.0L228.4 296.0L228.4 303.9L228.4 311.8L228.4 319.6L228.4 327.5L228.6 335.4L228.6 343.2L228.6 351.1L228.6 359.0L228.6 366.9L228.6 374.8L228.6 382.6L228.6 390.5L228.6 398.4L228.6 406.2L228.6 414.1L228.0 418.1L227.6 422.0L225.0 425.8L225.0 422.0L225.0 414.1L225.0 406.2L225.0 398.4L225.0 390.5L225.0 382.6L225.0 374.8L225.0 366.9L225.0 359.0L225.0 351.1L225.0 343.2L225.0 335.4L225.0 327.5L225.0 319.6L225.0 311.8L225.0 303.9ZM235.2 343.2L238.9 338.3L241.9 343.2L241.9 351.1L241.9 359.0L241.9 366.9L241.9 374.8L241.9 382.6L241.9 390.5L241.9 398.4L241.9 406.2L241.9 414.1L238.9 420.7L235.2 414.1L235.2 406.2L235.2 398.4L235.2 390.5L235.2 382.6L235.2 374.8L235.2 366.9L235.2 359.0L235.2 351.1ZM257.6 343.2L261.3 336.7L268.8 336.4L276.2 336.4L283.7 336.4L291.2 336.4L298.6 336.4L306.1 336.4L313.6 336.7L321.0 336.7L328.5 336.7L336.0 337.3L343.0 337.3L343.0 343.2L343.0 351.1L343.0 359.0L343.0 366.9L343.0 374.8L343.0 382.6L343.0 390.5L343.0 398.4L343.0 406.2L343.0 414.1L343.0 422.0L343.0 426.9L336.0 426.9L328.5 426.9L321.0 426.9L313.6 426.9L306.1 426.9L298.6 426.9L291.2 426.9L283.7 426.9L276.2 426.9L268.8 424.2L261.3 422.9L260.1 422.0L256.9 414.1L256.5 406.2L256.1 398.4L255.9 390.5L255.7 382.6L255.7 374.8L255.7 366.9L255.9 359.0L256.1 351.1Z" fill="#1a32ee" fill-rule="evenodd"/>
<path d="M225.0 296.0L227.5 296.0L227.5 303.9L227.5 311.8L227.5 319.6L227.5 327.5L227.5 335.4L227.5 343.2L227.5 351.1L227.5 359.0L227.5 366.9L227.5 374.8L227.5 382.6L227.5 390.5L227.5 398.4L227.5 406.2L227.5 414.1L226.9 422.0L225.0 424.7L225.0 422.0L225.0 414.1L225.0 406.2L225.0 398.4L225.0 390.5L225.0 382.6L225.0 374.8L225.0 366.9L225.0 359.0L225.0 351.1L225.0 343.2L225.0 335.4L225.0 327.5L225.0 319.6L225.0 311.8L225.0 303.9ZM236.7 343.2L238.9 340.3L240.7 343.2L240.7 351.1L240.7 359.0L240.7 366.9L240.7 374.8L240.7 382.6L240.7 390.5L240.7 398.4L240.7 406.2L240.7 414.1L238.9 418.1L236.7 414.1L236.7 406.2L236.7 398.4L236.7 390.5L236.7 382.6L236.7 374.8L236.7 366.9L236.7 359.0L236.7 351.1ZM259.1 343.2L261.3 339.3L268.8 338.3L276.2 338.3L283.7 338.3L291.2 338.3L298.6 338.3L306.1 338.3L313.6 339.3L321.0 339.3L328.5 339.3L336.0 341.3L343.0 341.3L343.0 343.2L343.0 351.1L343.0 359.0L343.0 366.9L343.0 374.8L343.0 382.6L343.0 390.5L343.0 398.4L343.0 406.2L343.0 414.1L343.0 422.0L343.0 425.0L336.0 425.0L328.5 425.0L321.0 425.0L313.6 425.0L306.1 425.0L298.6 425.0L291.2 425.0L283.7 425.0L276.2 425.0L268.8 422.8L265.1 422.0L261.3 420.7L258.2 414.1L257.6 406.2L257.1 398.4L256.7 390.5L256.4 382.6L256.4 374.8L256.4 366.9L256.7 359.0L257.1 351.1Z" fill="#1a74f0" fill-rule="evenodd"/>
<path d="M225.0 296.0L226.5 296.0L226.5 303.9L226.5 311.8L226.5 319.6L226.5 327.5L226.5 335.4L226.5 343.2L226.5 351.1L226.5 359.0L226.5 366.9L226.5 374.8L226.5 382.6L226.5 390.5L226.5 398.4L226.5 406.2L226.5 414.1L226.1 422.0L225.0 423.6L225.0 422.0L225.0 414.1L225.0 406.2L225.0 398.4L225.0 390.5L225.0 382.6L225.0 374.8L225.0 366.9L225.0 359.0L225.0 351.1L225.0 343.2L225.0 335.4L225.0 327.5L225.0 319.6L225.0 311.8L225.0 303.9ZM238.2 343.2L238.9 342.3L239.5 343.2L239.5 351.1L239.5 359.0L239.5 366.9L239.5 374.8L239.5 382.6L239.5 390.5L239.5 398.4L239.5 406.2L239.5 414.1L238.9 415.4L238.2 414.1L238.2 406.2L238.2 398.4L238.2 390.5L238.2 382.6L238.2 374.8L238.2 366.9L238.2 359.0L238.2 351.1ZM260.6 343.2L261.3 341.9L268.8 340.3L276.2 340.3L283.7 340.3L291.2 340.3L298.6 340.3L306.1 340.3L313.6 341.9L321.0 341.9L328.5 341.9L332.2 343.2L336.0 345.2L343.0 345.2L343.0 351.1L343.0 359.0L343.0 366.9L343.0 374.8L343.0 382.6L343.0 390.5L343.0 398.4L343.0 406.2L343.0 414.1L343.0 422.0L343.0 423.0L336.0 423.0L328.5 423.0L321.0 423.0L313.6 423.0L306.1 423.0L298.6 423.0L291.2 423.0L283.7 423.0L276.2 423.0L272.5 422.0L268.8 421.0L261.3 418.1L259.4 414.1L258.6 406.2L258.0 398.4L257.6 390.5L257.2 382.6L257.2 374.8L257.2 366.9L257.6 359.0L258.0 351.1Z" fill="#14a8ec" fill-rule="evenodd"/>
<path d="M225.0 296.0L225.5 296.0L225.5 303.9L225.5 311.8L225.5 319.6L225.5 327.5L225.5 335.4L225.5 343.2L225.5 351.1L225.5 359.0L225.5 366.9L225.5 374.8L225.5 382.6L225.5 390.5L225.5 398.4L225.5 406.2L225.5 414.1L225.4 422.0L225.0 422.5L225.0 422.0L225.0 414.1L225.0 406.2L225.0 398.4L225.0 390.5L225.0 382.6L225.0 374.8L225.0 366.9L225.0 359.0L225.0 351.1L225.0 343.2L225.0 335.4L225.0 327.5L225.0 319.6L225.0 311.8L225.0 303.9ZM265.1 343.2L268.8 342.3L276.2 342.3L283.7 342.3L291.2 342.3L298.6 342.3L306.1 342.3L309.9 343.2L313.6 344.2L321.0 344.6L328.5 347.2L336.0 349.2L343.0 349.2L343.0 351.1L343.0 359.0L343.0 366.9L343.0 374.8L343.0 382.6L343.0 390.5L343.0 398.4L343.0 406.2L343.0 414.1L343.0 420.7L336.0 420.7L328.5 420.7L321.0 420.7L313.6 421.0L306.1 421.0L298.6 421.2L291.2 421.2L283.7 421.2L276.2 421.0L268.8 419.0L261.3 415.4L260.7 414.1L259.7 406.2L259.0 398.4L258.4 390.5L257.9 382.6L257.9 374.8L257.9 366.9L258.4 359.0L259.0 351.1L261.3 344.6Z" fill="#1ed2cc" fill-rule="evenodd"/>
<path d="M259.9 351.1L261.3 347.2L268.8 344.6L276.2 344.6L283.7 344.6L291.2 344.6L298.6 344.6L306.1 344.6L313.6 346.2L321.0 347.2L326.6 351.1L328.5 355.1L332.2 359.0L332.2 366.9L332.2 374.8L332.2 382.6L332.2 390.5L336.0 394.4L343.0 394.4L343.0 398.4L343.0 406.2L343.0 414.1L343.0 418.1L336.0 418.1L328.5 418.1L321.0 418.1L313.6 419.0L306.1 419.0L298.6 419.6L291.2 419.6L283.7 419.6L276.2 419.0L268.8 417.1L263.2 414.1L261.3 410.2L260.8 406.2L259.9 398.4L259.2 390.5L258.7 382.6L258.7 374.8L258.7 366.9L259.2 359.0ZM291.2 394.4L287.4 398.4L291.2 402.3L294.9 406.2L298.6 407.2L306.1 407.6L313.6 407.6L321.0 408.2L324.8 406.2L324.8 398.4L321.0 394.4L313.6 394.4L306.1 394.4L298.6 394.4Z" fill="#1edcaa" fill-rule="evenodd"/>
<path d="M260.8 351.1L261.3 349.8L268.8 347.2L276.2 347.2L283.7 347.2L291.2 347.2L298.6 347.2L306.1 347.2L313.6 348.2L321.0 349.8L322.9 351.1L324.8 359.0L324.8 366.9L324.8 374.8L324.8 382.6L321.0 386.6L313.6 386.6L306.1 386.6L298.6 388.5L291.2 388.5L287.4 390.5L283.7 394.4L279.9 398.4L283.7 402.3L287.4 406.2L291.2 407.6L298.6 409.2L306.1 410.2L313.6 410.2L321.0 412.2L328.5 410.2L336.0 410.2L343.0 410.2L343.0 414.1L343.0 415.4L336.0 415.4L328.5 415.4L321.0 415.4L313.6 417.1L306.1 417.1L298.6 418.1L291.2 418.1L283.7 418.1L276.2 417.1L268.8 415.1L266.9 414.1L265.1 406.2L261.3 402.3L260.8 398.4L260.1 390.5L259.4 382.6L259.4 374.8L259.4 366.9L260.1 359.0Z" fill="#3eea78" fill-rule="evenodd"/>
<path d="M265.1 351.1L268.8 349.8L276.2 349.8L283.7 349.8L291.2 349.8L298.6 349.8L306.1 349.8L313.6 350.1L317.3 351.1L319.1 359.0L317.3 366.9L317.3 374.8L313.6 378.7L306.1 378.7L302.4 382.6L298.6 384.6L291.2 384.6L283.7 386.6L279.9 390.5L276.2 394.4L272.5 398.4L268.8 402.3L265.1 398.4L261.3 394.4L260.9 390.5L260.2 382.6L260.2 374.8L260.2 366.9L260.9 359.0L261.3 355.1ZM272.5 414.1L276.2 410.2L283.7 408.2L291.2 410.2L298.6 411.2L306.1 412.8L313.6 412.8L317.3 414.1L313.6 415.1L306.1 415.1L298.6 416.5L291.2 416.5L283.7 416.5L276.2 415.1Z" fill="#8aec2a" fill-rule="evenodd"/>
<path d="M262.6 359.0L268.8 352.4L276.2 352.4L283.7 353.1L291.2 353.1L298.6 353.1L306.1 353.1L313.6 355.1L315.5 359.0L313.6 362.9L311.7 366.9L306.1 372.8L302.4 374.8L298.6 378.7L291.2 378.7L283.7 380.7L279.9 382.6L276.2 386.6L272.5 390.5L268.8 394.4L265.1 390.5L261.3 386.6L260.9 382.6L260.9 374.8L260.9 366.9L261.3 362.9ZM279.9 414.1L283.7 412.2L291.2 412.8L298.6 413.1L302.4 414.1L298.6 414.9L291.2 414.9L283.7 414.9Z" fill="#d0f000" fill-rule="evenodd"/>
<path d="M265.1 359.0L268.8 355.1L276.2 355.1L283.7 357.0L291.2 357.0L298.6 357.0L306.1 357.0L309.9 359.0L308.0 366.9L306.1 368.8L298.6 370.8L291.2 370.8L287.4 374.8L283.7 376.7L276.2 380.7L272.5 382.6L268.8 386.6L265.1 382.6L265.1 374.8L263.2 366.9Z" fill="#ffff00" fill-rule="evenodd"/>
<path d="M267.6 359.0L268.8 357.7L276.2 357.7L279.9 359.0L283.7 362.9L287.4 366.9L283.7 370.8L279.9 374.8L276.2 376.7L272.5 374.8L268.8 370.8L266.9 366.9Z" fill="#ffcc00" fill-rule="evenodd"/>
<path d="M230.8 296.0L230.8 303.9L230.8 311.8L230.8 319.6L230.8 327.5L231.4 332.2L238.9 330.1L243.8 335.4L245.4 343.2L245.4 351.1L245.4 359.0L245.4 366.9L245.4 374.8L245.4 382.6L245.4 390.5L245.4 398.4L245.4 406.2L245.4 414.1L244.6 422.0L238.9 428.1L231.4 425.1L228.0 428.1L225.0 429.1M343.0 435.1L336.0 435.1L328.5 435.1L321.0 435.1L313.6 435.1L306.1 435.1L298.6 435.1L291.2 435.1L283.7 435.1L276.2 435.1L271.3 429.9L268.8 428.8L261.3 428.5L253.8 425.1L250.8 422.0L250.8 414.1L250.8 406.2L250.8 398.4L250.8 390.5L250.8 382.6L250.8 374.8L250.8 366.9L250.8 359.0L250.8 351.1L250.8 343.2L250.8 335.4L253.8 332.2L261.3 329.3L268.8 329.3L276.2 329.3L283.7 329.3L291.2 329.3L298.6 329.3L306.1 329.3L313.6 329.3L321.0 329.3L328.5 329.3L336.0 329.3L343.0 329.3M230.0 296.0L230.0 303.9L230.0 311.8L230.0 319.6L230.0 327.5L230.8 335.4L230.8 343.2L230.8 351.1L230.8 359.0L230.8 366.9L230.8 374.8L230.8 382.6L230.8 390.5L230.8 398.4L230.8 406.2L230.8 414.1L230.6 422.0L228.0 425.6L225.0 428.0M235.2 335.4L238.9 333.6L240.5 335.4L244.2 343.2L244.2 351.1L244.2 359.0L244.2 366.9L244.2 374.8L244.2 382.6L244.2 390.5L244.2 398.4L244.2 406.2L244.2 414.1L242.3 422.0L238.9 425.6L233.3 422.0L232.2 414.1L232.2 406.2L232.2 398.4L232.2 390.5L232.2 382.6L232.2 374.8L232.2 366.9L232.2 359.0L232.2 351.1L232.2 343.2L235.2 335.4M343.0 431.6L336.0 431.6L328.5 431.6L321.0 431.6L313.6 431.6L306.1 431.6L298.6 431.6L291.2 431.6L283.7 431.6L276.2 431.6L274.6 429.9L268.8 427.2L261.3 426.6L255.1 422.0L254.4 414.1L254.3 406.3L254.3 398.4L254.2 390.5L254.2 382.6L254.2 374.8L254.2 366.9L254.2 359.0L254.3 351.1L254.6 343.2L255.7 335.4L261.3 331.7L268.8 331.7L276.2 331.7L283.7 331.7L291.2 331.7L298.6 331.7L306.1 331.7L313.6 331.7L321.0 331.7L328.5 331.7L336.0 331.7L343.0 331.7M229.2 296.0L229.2 303.9L229.2 311.8L229.2 319.6L229.2 327.5L229.7 335.4L229.7 343.2L229.7 351.1L229.7 359.0L229.7 366.9L229.7 374.8L229.7 382.6L229.7 390.5L229.7 398.4L229.7 406.2L229.7 414.1L228.8 422.0L228.0 423.2L225.0 426.9M233.6 343.2L238.9 336.4L243.0 343.2L243.0 351.1L243.0 359.0L243.0 366.9L243.0 374.8L243.0 382.6L243.0 390.5L243.0 398.4L243.0 406.2L243.0 414.1L240.0 422.0L238.9 423.2L237.0 422.0L233.6 414.1L233.6 406.2L233.6 398.4L233.6 390.5L233.6 382.6L233.6 374.8L233.6 366.9L233.6 359.0L233.6 351.1L233.6 343.2M343.0 428.9L336.0 428.9L328.5 428.9L321.0 428.9L313.6 428.9L306.1 428.9L298.6 428.9L291.2 428.9L283.7 428.9L276.2 428.9L268.8 425.8L261.3 424.8L257.6 422.0L255.7 414.1L255.4 406.2L255.2 398.4L255.1 390.5L254.9 382.6L254.9 374.7L254.9 366.9L255.1 359.0L255.2 351.1L256.1 343.2L259.4 335.4L261.3 334.2L268.8 334.2L276.2 334.2L283.7 334.2L291.2 334.2L298.6 334.2L306.1 334.2L313.6 334.2L321.0 334.2L328.5 334.2L336.0 334.2L343.0 334.2M228.4 296.0L228.4 303.9L228.4 311.8L228.4 319.6L228.4 327.5L228.6 335.4L228.6 343.2L228.6 351.1L228.6 359.0L228.6 366.9L228.6 374.8L228.6 382.6L228.6 390.5L228.6 398.4L228.6 406.2L228.6 414.1L228.0 418.1L227.6 422.0L225.0 425.8M235.2 343.2L238.9 338.3L241.9 343.2L241.9 351.1L241.9 359.0L241.9 366.9L241.9 374.8L241.9 382.6L241.9 390.5L241.9 398.4L241.9 406.2L241.9 414.1L238.9 420.7L235.2 414.1L235.2 406.2L235.2 398.4L235.2 390.5L235.2 382.6L235.2 374.8L235.2 366.9L235.2 359.0L235.2 351.1L235.2 343.2M343.0 426.9L336.0 426.9L328.5 426.9L321.0 426.9L313.6 426.9L306.1 426.9L298.6 426.9L291.2 426.9L283.7 426.9L276.2 426.9L268.8 424.2L261.3 422.9L260.1 422.0L256.9 414.1L256.5 406.2L256.1 398.4L255.9 390.5L255.7 382.6L255.7 374.8L255.7 366.9L255.9 359.0L256.1 351.1L257.6 343.2L261.3 336.7L268.8 336.4L276.2 336.4L283.7 336.4L291.2 336.4L298.6 336.4L306.1 336.4L313.6 336.7L321.0 336.7L328.5 336.7L336.0 337.3L343.0 337.3M227.5 296.0L227.5 303.9L227.5 311.8L227.5 319.6L227.5 327.5L227.5 335.4L227.5 343.2L227.5 351.1L227.5 359.0L227.5 366.9L227.5 374.8L227.5 382.6L227.5 390.5L227.5 398.4L227.5 406.2L227.5 414.1L226.9 422.0L225.0 424.7M236.7 343.2L238.9 340.3L240.7 343.2L240.7 351.1L240.7 359.0L240.7 366.9L240.7 374.8L240.7 382.6L240.7 390.5L240.7 398.4L240.7 406.2L240.7 414.1L238.9 418.1L236.7 414.1L236.7 406.2L236.7 398.4L236.7 390.5L236.7 382.6L236.7 374.8L236.7 366.9L236.7 359.0L236.7 351.1L236.7 343.2M343.0 425.0L336.0 425.0L328.5 425.0L321.0 425.0L313.6 425.0L306.1 425.0L298.6 425.0L291.2 425.0L283.7 425.0L276.2 425.0L268.8 422.8L265.1 422.0L261.3 420.7L258.2 414.1L257.6 406.2L257.1 398.4L256.7 390.5L256.4 382.6L256.4 374.8L256.4 366.9L256.7 359.0L257.1 351.1L259.1 343.2L261.3 339.3L268.8 338.3L276.2 338.3L283.7 338.3L291.2 338.3L298.6 338.3L306.1 338.3L313.6 339.3L321.0 339.3L328.5 339.3L336.0 341.3L343.0 341.3M226.5 296.0L226.5 303.9L226.5 311.8L226.5 319.6L226.5 327.5L226.5 335.4L226.5 343.2L226.5 351.1L226.5 359.0L226.5 366.9L226.5 374.8L226.5 382.6L226.5 390.5L226.5 398.4L226.5 406.2L226.5 414.1L226.1 422.0L225.0 423.6M238.2 343.2L238.9 342.3L239.5 343.2L239.5 351.1L239.5 359.0L239.5 366.9L239.5 374.8L239.5 382.6L239.5 390.5L239.5 398.4L239.5 406.2L239.5 414.1L238.9 415.4L238.2 414.1L238.2 406.2L238.2 398.4L238.2 390.5L238.2 382.6L238.2 374.8L238.2 366.9L238.2 359.0L238.2 351.1L238.2 343.2M343.0 423.0L336.0 423.0L328.5 423.0L321.0 423.0L313.6 423.0L306.1 423.0L298.6 423.0L291.2 423.0L283.7 423.0L276.2 423.0L272.5 422.0L268.8 421.0L261.3 418.1L259.4 414.1L258.6 406.2L258.0 398.4L257.6 390.5L257.2 382.6L257.2 374.8L257.2 366.9L257.6 359.0L258.0 351.1L260.6 343.2L261.3 341.9L268.8 340.3L276.2 340.3L283.7 340.3L291.2 340.3L298.6 340.3L306.1 340.3L313.6 341.9L321.0 341.9L328.5 341.9L332.2 343.2L336.0 345.2L343.0 345.2M225.5 296.0L225.5 303.9L225.5 311.8L225.5 319.6L225.5 327.5L225.5 335.4L225.5 343.2L225.5 351.1L225.5 359.0L225.5 366.9L225.5 374.8L225.5 382.6L225.5 390.5L225.5 398.4L225.5 406.2L225.5 414.1L225.4 422.0L225.0 422.5M343.0 420.7L336.0 420.7L328.5 420.7L321.0 420.7L313.6 421.0L306.1 421.0L298.6 421.2L291.2 421.2L283.7 421.2L276.2 421.0L268.8 419.0L261.3 415.4L260.7 414.1L259.7 406.2L259.0 398.4L258.4 390.5L257.9 382.6L257.9 374.8L257.9 366.9L258.4 359.0L259.0 351.1L261.3 344.6L265.1 343.2L268.8 342.3L276.2 342.3L283.7 342.3L291.2 342.3L298.6 342.3L306.1 342.3L309.9 343.2L313.6 344.2L321.0 344.6L328.5 347.2L336.0 349.2L343.0 349.2M291.2 394.4L287.4 398.4L291.2 402.3L294.9 406.2L298.6 407.2L306.1 407.6L313.6 407.6L321.0 408.2L324.8 406.2L324.8 398.4L321.0 394.4L313.6 394.4L306.1 394.4L298.6 394.4L291.2 394.4M343.0 418.1L336.0 418.1L328.5 418.1L321.0 418.1L313.6 419.0L306.1 419.0L298.6 419.6L291.2 419.6L283.7 419.6L276.2 419.0L268.8 417.1L263.2 414.1L261.3 410.2L260.8 406.2L259.9 398.4L259.2 390.5L258.7 382.6L258.7 374.8L258.7 366.9L259.2 359.0L259.9 351.1L261.3 347.2L268.8 344.6L276.2 344.6L283.7 344.6L291.2 344.6L298.6 344.6L306.1 344.6L313.6 346.2L321.0 347.2L326.6 351.1L328.5 355.1L332.2 359.0L332.2 366.9L332.2 374.8L332.2 382.6L332.2 390.5L336.0 394.4L343.0 394.4M343.0 415.4L336.0 415.4L328.5 415.4L321.0 415.4L313.6 417.1L306.1 417.1L298.6 418.1L291.2 418.1L283.7 418.1L276.2 417.1L268.8 415.1L266.9 414.1L265.1 406.2L261.3 402.3L260.8 398.4L260.1 390.5L259.4 382.6L259.4 374.8L259.4 366.9L260.1 359.0L260.8 351.1L261.3 349.8L268.8 347.2L276.2 347.2L283.7 347.2L291.2 347.2L298.6 347.2L306.1 347.2L313.6 348.2L321.0 349.8L322.9 351.1L324.8 359.0L324.8 366.9L324.8 374.8L324.8 382.6L321.0 386.6L313.6 386.6L306.1 386.6L298.6 388.5L291.2 388.5L287.4 390.5L283.7 394.4L279.9 398.4L283.7 402.3L287.4 406.2L291.2 407.6L298.6 409.2L306.1 410.2L313.6 410.2L321.0 412.2L328.5 410.2L336.0 410.2L343.0 410.2M265.1 351.1L268.8 349.8L276.2 349.8L283.7 349.8L291.2 349.8L298.6 349.8L306.1 349.8L313.6 350.1L317.3 351.1L319.1 359.0L317.3 366.9L317.3 374.8L313.6 378.7L306.1 378.7L302.4 382.6L298.6 384.6L291.2 384.6L283.7 386.6L279.9 390.5L276.2 394.4L272.5 398.4L268.8 402.3L265.1 398.4L261.3 394.4L260.9 390.5L260.2 382.6L260.2 374.8L260.2 366.9L260.9 359.0L261.3 355.1L265.1 351.1M272.5 414.1L276.2 410.2L283.7 408.2L291.2 410.2L298.6 411.2L306.1 412.8L313.6 412.8L317.3 414.1L313.6 415.1L306.1 415.1L298.6 416.5L291.2 416.5L283.7 416.5L276.2 415.1L272.5 414.1M262.6 359.0L268.8 352.4L276.2 352.4L283.7 353.1L291.2 353.1L298.6 353.1L306.1 353.1L313.6 355.1L315.5 359.0L313.6 362.9L311.7 366.9L306.1 372.8L302.4 374.8L298.6 378.7L291.2 378.7L283.7 380.7L279.9 382.6L276.2 386.6L272.5 390.5L268.8 394.4L265.1 390.5L261.3 386.6L260.9 382.6L260.9 374.8L260.9 366.9L261.3 362.9L262.6 359.0M279.9 414.1L283.7 412.2L291.2 412.8L298.6 413.1L302.4 414.1L298.6 414.9L291.2 414.9L283.7 414.9L279.9 414.1M265.1 359.0L268.8 355.1L276.2 355.1L283.7 357.0L291.2 357.0L298.6 357.0L306.1 357.0L309.9 359.0L308.0 366.9L306.1 368.8L298.6 370.8L291.2 370.8L287.4 374.8L283.7 376.7L276.2 380.7L272.5 382.6L268.8 386.6L265.1 382.6L265.1 374.8L263.2 366.9L265.1 359.0M267.6 359.0L268.8 357.7L276.2 357.7L279.9 359.0L283.7 362.9L287.4 366.9L283.7 370.8L279.9 374.8L276.2 376.7L272.5 374.8L268.8 370.8L266.9 366.9L267.6 359.0" fill="none" stroke="#000" stroke-width="1"/>
</g>
<clipPath id="clip480_270"><rect x="547" y="296" width="269" height="189"/></clipPath>
<g clip-path="url(#clip480_270)" shape-rendering="crispEdges">
<path d="M577.5 296.0L584.4 296.0L591.8 296.0L599.3 296.0L606.8 296.0L614.2 296.0L621.7 296.0L629.2 296.0L636.7 296.0L644.1 296.0L651.6 296.0L658.0 296.0L658.0 303.9L658.0 311.8L658.0 319.6L658.0 327.5L658.0 335.4L658.0 343.2L658.0 351.1L658.0 359.0L658.0 366.9L658.0 374.8L658.0 382.6L658.0 390.5L658.0 398.4L658.0 406.2L658.0 414.1L658.0 422.0L658.0 428.1L651.6 428.1L644.1 428.1L636.7 428.1L629.2 428.1L621.7 428.1L614.2 428.1L606.8 428.1L604.3 429.9L599.3 435.1L591.8 435.1L584.4 435.1L576.9 435.1L569.4 435.1L562.0 435.1L556.0 435.1L550.0 432.5L550.0 429.9L550.0 422.0L550.0 414.1L550.0 406.2L550.0 398.4L550.0 390.5L550.0 382.6L550.0 374.8L550.0 366.9L550.0 359.0L550.0 351.1L550.0 343.2L550.0 335.4L550.0 334.2L556.0 332.2L562.0 330.1L569.4 330.1L576.9 329.3L577.4 327.5L577.4 319.6L577.4 311.8L577.4 303.9Z" fill="#2c0a48" fill-rule="evenodd"/>
<path d="M578.3 296.0L584.4 296.0L591.8 296.0L599.3 296.0L606.8 296.0L614.2 296.0L621.7 296.0L629.2 296.0L636.7 296.0L644.1 296.0L651.6 296.0L658.0 296.0L658.0 303.9L658.0 311.8L658.0 319.6L658.0 327.5L658.0 335.4L658.0 343.2L658.0 351.1L658.0 359.0L658.0 366.9L658.0 374.8L658.0 382.6L658.0 390.5L658.0 398.4L658.0 406.2L658.0 414.1L658.0 422.0L658.0 425.6L651.6 425.6L644.1 425.6L636.7 425.6L629.2 425.6L621.7 425.6L614.2 425.6L606.8 425.6L601.0 429.9L599.3 431.6L591.8 431.6L584.4 431.6L576.9 431.6L569.4 431.6L562.0 431.6L556.0 431.6L550.0 430.8L550.0 429.9L550.0 422.0L550.0 414.1L550.0 406.2L550.0 398.4L550.0 390.5L550.0 382.6L550.0 374.8L550.0 366.9L550.0 359.0L550.0 351.1L550.0 343.2L550.0 336.7L556.0 336.7L559.0 335.4L562.0 333.6L569.4 333.6L576.9 331.7L578.2 327.5L578.1 319.6L578.0 311.8L578.0 303.9Z" fill="#4a0c8e" fill-rule="evenodd"/>
<path d="M579.1 296.0L584.4 296.0L591.8 296.0L599.3 296.0L606.8 296.0L614.2 296.0L621.7 296.0L629.2 296.0L636.7 296.0L644.1 296.0L651.6 296.0L658.0 296.0L658.0 303.9L658.0 311.8L658.0 319.6L658.0 327.5L658.0 335.4L658.0 343.2L658.0 351.1L658.0 359.0L658.0 366.9L658.0 374.8L658.0 382.6L658.0 390.5L658.0 398.4L658.0 406.2L658.0 414.1L658.0 422.0L658.0 423.2L651.6 423.2L644.1 423.2L636.7 423.2L629.2 423.2L621.7 423.2L614.2 423.2L606.8 423.2L599.3 428.6L591.8 428.6L584.4 428.6L576.9 428.6L569.4 428.6L562.0 428.6L556.0 428.6L550.0 428.6L550.0 422.0L550.0 414.1L550.0 406.2L550.0 398.4L550.0 390.5L550.0 382.6L550.0 374.8L550.0 366.9L550.0 359.0L550.0 351.1L550.0 343.2L550.0 339.3L556.0 339.3L562.0 337.3L569.4 337.3L573.1 335.4L576.9 334.2L578.9 327.5L578.7 319.6L578.6 311.8L578.6 303.9Z" fill="#1414a8" fill-rule="evenodd"/>
<path d="M579.9 296.0L584.4 296.0L591.8 296.0L599.3 296.0L606.8 296.0L614.2 296.0L621.7 296.0L629.2 296.0L636.7 296.0L644.1 296.0L651.6 296.0L658.0 296.0L658.0 303.9L658.0 311.8L658.0 319.6L658.0 327.5L658.0 335.4L658.0 343.2L658.0 351.1L658.0 359.0L658.0 366.9L658.0 374.8L658.0 382.6L658.0 390.5L658.0 398.4L658.0 406.2L658.0 414.1L658.0 420.7L651.6 420.7L644.1 420.7L636.7 420.7L629.2 420.7L621.7 420.7L614.2 420.7L606.8 420.7L604.9 422.0L599.3 425.9L591.8 425.9L584.4 425.9L576.9 425.9L569.4 425.9L562.0 425.9L556.0 425.9L550.0 425.9L550.0 422.0L550.0 414.1L550.0 406.2L550.0 398.4L550.0 390.5L550.0 382.6L550.0 374.8L550.0 366.9L550.0 359.0L550.0 351.1L550.0 343.2L550.0 341.9L556.0 341.9L562.0 341.3L569.4 341.3L576.9 337.3L577.7 335.4L579.6 327.5L579.4 319.6L579.2 311.8L579.2 303.9Z" fill="#1a32ee" fill-rule="evenodd"/>
<path d="M580.8 296.0L584.4 296.0L591.8 296.0L599.3 296.0L606.8 296.0L614.2 296.0L621.7 296.0L629.2 296.0L636.7 296.0L644.1 296.0L651.6 296.0L658.0 296.0L658.0 303.9L658.0 311.8L658.0 319.6L658.0 327.5L658.0 335.4L658.0 343.2L658.0 351.1L658.0 359.0L658.0 366.9L658.0 374.8L658.0 382.6L658.0 390.5L658.0 398.4L658.0 406.2L658.0 414.1L658.0 418.1L651.6 418.1L644.1 418.1L636.7 418.1L629.2 418.1L621.7 418.1L614.2 418.1L606.8 418.1L601.2 422.0L599.3 423.3L591.8 423.3L584.4 423.3L576.9 423.3L569.4 423.3L562.0 423.3L556.0 423.3L550.0 423.3L550.0 422.0L550.0 414.1L550.0 406.2L550.0 398.4L550.0 390.5L550.0 382.6L550.0 374.8L550.0 366.9L550.0 359.0L550.0 351.1L550.0 345.2L556.0 345.2L562.0 345.2L569.4 347.2L573.1 343.2L576.9 341.3L579.1 335.4L580.4 327.5L580.1 319.6L579.8 311.8L579.8 303.9Z" fill="#1a74f0" fill-rule="evenodd"/>
<path d="M581.6 296.0L584.4 296.0L591.8 296.0L599.3 296.0L606.8 296.0L614.2 296.0L621.7 296.0L629.2 296.0L636.7 296.0L644.1 296.0L651.6 296.0L658.0 296.0L658.0 303.9L658.0 311.8L658.0 319.6L658.0 327.5L658.0 335.4L658.0 343.2L658.0 351.1L658.0 359.0L658.0 366.9L658.0 374.8L658.0 382.6L658.0 390.5L658.0 398.4L658.0 406.2L658.0 414.1L658.0 415.4L651.6 415.4L644.1 415.4L636.7 415.4L629.2 415.4L621.7 415.4L614.2 415.4L606.8 415.4L599.3 420.0L591.8 420.7L584.4 420.7L576.9 420.7L569.4 420.7L562.0 420.7L556.0 420.7L550.0 420.7L550.0 414.1L550.0 406.2L550.0 398.4L550.0 390.5L550.0 382.6L550.0 374.8L550.0 366.9L550.0 359.0L550.0 351.1L550.0 349.2L556.0 349.2L562.0 349.2L565.7 351.1L569.4 353.1L573.1 351.1L576.9 347.2L578.1 343.2L580.6 335.4L581.1 327.5L580.7 319.6L580.4 311.8L580.4 303.9Z" fill="#14a8ec" fill-rule="evenodd"/>
<path d="M582.4 296.0L584.4 296.0L591.8 296.0L599.3 296.0L606.8 296.0L614.2 296.0L621.7 296.0L629.2 296.0L636.7 296.0L644.1 296.0L651.6 296.0L658.0 296.0L658.0 303.9L658.0 311.8L658.0 319.6L658.0 327.5L658.0 335.4L658.0 343.2L658.0 351.1L658.0 359.0L658.0 366.9L658.0 374.8L658.0 382.6L658.0 390.5L658.0 398.4L658.0 406.2L658.0 412.8L651.6 412.8L644.1 412.2L636.7 412.2L629.2 412.2L621.7 412.2L614.2 412.2L606.8 412.8L603.0 414.1L599.3 416.1L591.8 418.1L584.4 418.1L576.9 418.1L569.4 418.1L562.0 418.1L556.0 418.1L550.0 418.1L550.0 414.1L550.0 406.2L550.0 398.4L550.0 390.5L550.0 382.6L550.0 374.8L550.0 366.9L550.0 359.0L550.0 353.1L556.0 353.1L562.0 355.1L569.4 357.0L576.9 355.1L578.8 351.1L580.6 343.2L582.1 335.4L581.8 327.5L581.4 319.6L581.0 311.8L581.0 303.9Z" fill="#1ed2cc" fill-rule="evenodd"/>
<path d="M583.2 296.0L584.4 296.0L591.8 296.0L599.3 296.0L606.8 296.0L614.2 296.0L621.7 296.0L629.2 296.0L636.7 296.0L644.1 296.0L651.6 296.0L658.0 296.0L658.0 303.9L658.0 311.8L658.0 319.6L658.0 327.5L658.0 335.4L658.0 343.2L658.0 351.1L658.0 359.0L658.0 366.9L658.0 374.8L658.0 382.6L658.0 390.5L658.0 398.4L658.0 406.2L658.0 410.2L651.6 410.2L644.1 408.2L636.7 408.2L629.2 408.2L621.7 408.2L614.2 408.2L606.8 410.2L599.3 412.2L595.5 414.1L591.8 415.4L584.4 415.4L576.9 415.4L569.4 415.4L562.0 415.4L556.0 415.4L550.0 415.4L550.0 414.1L550.0 406.2L550.0 398.4L550.0 390.5L550.0 382.6L550.0 374.8L550.0 366.9L550.0 359.0L550.0 357.0L556.0 357.0L559.0 359.0L562.0 362.9L569.4 362.9L576.9 362.9L578.8 359.0L582.5 351.1L583.1 343.2L583.6 335.4L582.6 327.5L582.1 319.6L581.6 311.8L581.6 303.9ZM599.3 380.7L597.4 382.6L597.4 390.5L599.3 392.5L601.2 390.5L601.2 382.6ZM636.7 386.6L633.0 390.5L633.0 398.4L636.7 402.3L640.4 398.4L640.4 390.5Z" fill="#1edcaa" fill-rule="evenodd"/>
<path d="M584.0 296.0L584.4 296.0L591.8 296.0L599.3 296.0L606.8 296.0L614.2 296.0L621.7 296.0L629.2 296.0L636.7 296.0L644.1 296.0L651.6 296.0L658.0 296.0L658.0 303.9L658.0 311.8L658.0 319.6L658.0 327.5L658.0 335.4L658.0 343.2L658.0 351.1L658.0 359.0L658.0 366.9L658.0 374.8L658.0 382.6L658.0 390.5L658.0 398.4L658.0 406.2L658.0 407.6L651.6 407.6L647.9 406.2L646.0 398.4L646.0 390.5L646.0 382.6L644.1 378.7L636.7 378.7L633.0 382.6L629.2 386.6L625.5 390.5L625.5 398.4L621.7 402.3L614.2 402.3L610.5 406.2L606.8 407.6L599.3 408.2L591.8 410.2L584.4 410.2L580.6 406.2L576.9 402.3L569.4 402.3L565.7 398.4L562.0 394.4L559.0 390.5L559.0 382.6L559.0 374.8L562.0 370.8L565.7 374.8L565.7 382.6L569.4 386.6L573.1 382.6L576.9 378.7L580.6 374.8L580.6 366.9L582.5 359.0L584.4 355.1L588.1 351.1L588.1 343.2L586.2 335.4L584.4 333.4L583.3 327.5L582.7 319.6L582.3 311.8L582.3 303.9ZM599.3 376.7L593.7 382.6L593.7 390.5L599.3 396.4L604.9 390.5L604.9 382.6ZM621.7 339.3L618.0 343.2L618.0 351.1L621.7 355.1L629.2 355.1L633.0 351.1L629.2 347.2L625.5 343.2ZM559.0 406.2L562.0 402.3L565.7 406.2L562.0 410.2Z" fill="#3eea78" fill-rule="evenodd"/>
<path d="M582.9 303.9L584.4 297.3L591.8 297.0L599.3 297.0L606.8 297.0L614.2 297.0L621.7 297.0L629.2 297.0L631.1 296.0L636.7 296.0L644.1 296.0L651.6 296.0L658.0 296.0L658.0 303.9L658.0 311.8L658.0 319.6L658.0 327.5L658.0 335.4L658.0 343.2L658.0 351.1L658.0 359.0L658.0 362.9L651.6 362.9L647.9 359.0L647.9 351.1L644.1 347.2L640.4 343.2L636.7 339.3L633.0 335.4L629.2 334.1L621.7 333.4L614.2 333.4L610.5 335.4L610.5 343.2L610.5 351.1L612.4 359.0L614.2 362.9L621.7 362.9L629.2 362.9L633.0 366.9L633.0 374.8L629.2 378.7L621.7 378.7L614.2 378.7L610.5 374.8L606.8 370.8L599.3 370.8L591.8 370.8L588.1 366.9L591.8 362.9L595.5 359.0L593.0 351.1L593.0 343.2L591.8 339.3L589.9 335.4L584.4 329.5L584.0 327.5L583.4 319.6L582.9 311.8ZM647.9 374.8L651.6 370.8L658.0 370.8L658.0 374.8L658.0 382.6L658.0 390.5L658.0 398.4L658.0 402.3L651.6 402.3L649.7 398.4L649.7 390.5L649.7 382.6Z" fill="#8aec2a" fill-rule="evenodd"/>
<path d="M583.5 303.9L584.4 299.9L591.8 299.0L599.3 299.0L606.8 299.0L614.2 299.0L621.7 299.0L629.2 299.0L634.8 296.0L636.7 296.0L644.1 296.0L651.6 296.0L658.0 296.0L658.0 303.9L658.0 311.8L658.0 319.6L658.0 327.5L658.0 335.4L658.0 343.2L658.0 347.2L651.6 347.2L647.9 343.2L644.1 339.3L640.4 335.4L636.7 333.4L629.2 331.4L621.7 329.5L614.2 329.5L606.8 331.4L599.3 331.4L591.8 331.4L588.1 327.5L584.4 323.6L584.1 319.6L583.5 311.8ZM595.5 343.2L599.3 337.3L604.9 343.2L604.9 351.1L606.8 355.1L608.6 359.0L606.8 362.9L603.0 359.0L599.3 357.0L595.5 351.1Z" fill="#d0f000" fill-rule="evenodd"/>
<path d="M584.1 303.9L584.4 302.6L591.8 300.9L599.3 300.9L606.8 300.9L614.2 300.9L621.7 300.9L629.2 300.9L636.7 297.3L644.1 297.0L651.6 297.0L658.0 297.0L658.0 303.9L658.0 311.8L658.0 319.6L658.0 327.5L658.0 335.4L658.0 339.3L651.6 339.3L647.9 335.4L644.1 333.4L636.7 329.5L629.2 328.8L625.5 327.5L621.7 323.6L614.2 323.6L606.8 323.6L599.3 323.6L591.8 323.6L588.1 319.6L584.4 315.7L584.1 311.8ZM598.0 343.2L599.3 341.3L601.2 343.2L601.2 351.1L599.3 353.1L598.0 351.1Z" fill="#ffff00" fill-rule="evenodd"/>
<path d="M588.1 303.9L591.8 302.9L599.3 302.9L606.8 302.9L614.2 302.9L621.7 302.9L629.2 302.9L636.7 299.9L644.1 299.0L651.6 299.0L658.0 299.0L658.0 303.9L658.0 311.8L658.0 319.6L658.0 327.5L658.0 331.4L651.6 331.4L644.1 329.5L640.4 327.5L636.7 323.6L633.0 319.6L629.2 315.7L621.7 315.7L614.2 315.7L610.5 311.8L606.8 307.8L603.0 311.8L599.3 315.7L595.5 311.8L591.8 307.8Z" fill="#ffcc00" fill-rule="evenodd"/>
<path d="M633.0 303.9L636.7 302.6L644.1 300.9L651.6 300.9L658.0 300.9L658.0 303.9L658.0 311.8L658.0 319.6L658.0 323.6L651.6 323.6L644.1 325.5L638.6 319.6L636.7 315.7L633.0 311.8Z" fill="#ffa400" fill-rule="evenodd"/>
<path d="M640.4 303.9L644.1 302.9L651.6 302.9L658.0 302.9L658.0 303.9L658.0 311.8L658.0 315.7L651.6 315.7L647.9 319.6L644.1 321.6L642.2 319.6L638.6 311.8Z" fill="#e07830" fill-rule="evenodd"/>
<path d="M642.2 311.8L644.1 307.8L647.9 311.8L644.1 315.7Z" fill="#c84c50" fill-rule="evenodd"/>
<path d="M550.0 334.2L556.0 332.2L562.0 330.1L569.4 330.1L576.9 329.3L577.4 327.5L577.4 319.6L577.4 311.8L577.4 303.9L577.5 296.0M658.0 428.1L651.6 428.1L644.1 428.1L636.7 428.1L629.2 428.1L621.7 428.1L614.2 428.1L606.8 428.1L604.3 429.9L599.3 435.1L591.8 435.1L584.4 435.1L576.9 435.1L569.4 435.1L562.0 435.1L556.0 435.1L550.0 432.5M550.0 336.7L556.0 336.7L559.0 335.4L562.0 333.6L569.4 333.6L576.9 331.7L578.2 327.5L578.1 319.6L578.0 311.8L578.0 303.9L578.3 296.0M658.0 425.6L651.6 425.6L644.1 425.6L636.7 425.6L629.2 425.6L621.7 425.6L614.2 425.6L606.8 425.6L601.0 429.9L599.3 431.6L591.8 431.6L584.4 431.6L576.9 431.6L569.4 431.6L562.0 431.6L556.0 431.6L550.0 430.8M550.0 339.3L556.0 339.3L562.0 337.3L569.4 337.3L573.1 335.4L576.9 334.2L578.9 327.5L578.7 319.6L578.6 311.8L578.6 303.9L579.1 296.0M658.0 423.2L651.6 423.2L644.1 423.2L636.7 423.2L629.2 423.2L621.7 423.2L614.2 423.2L606.8 423.2L599.3 428.6L591.8 428.6L584.4 428.6L576.9 428.6L569.4 428.6L562.0 428.6L556.0 428.6L550.0 428.6M550.0 341.9L556.0 341.9L562.0 341.3L569.4 341.3L576.9 337.3L577.7 335.4L579.6 327.5L579.4 319.6L579.2 311.8L579.2 303.9L579.9 296.0M658.0 420.7L651.6 420.7L644.1 420.7L636.7 420.7L629.2 420.7L621.7 420.7L614.2 420.7L606.8 420.7L604.9 422.0L599.3 425.9L591.8 425.9L584.4 425.9L576.9 425.9L569.4 425.9L562.0 425.9L556.0 425.9L550.0 425.9M550.0 345.2L556.0 345.2L562.0 345.2L569.4 347.2L573.1 343.2L576.9 341.3L579.1 335.4L580.4 327.5L580.1 319.6L579.8 311.8L579.8 303.9L580.8 296.0M658.0 418.1L651.6 418.1L644.1 418.1L636.7 418.1L629.2 418.1L621.7 418.1L614.2 418.1L606.8 418.1L601.2 422.0L599.3 423.3L591.8 423.3L584.4 423.3L576.9 423.3L569.4 423.3L562.0 423.3L556.0 423.3L550.0 423.3M550.0 349.2L556.0 349.2L562.0 349.2L565.7 351.1L569.4 353.1L573.1 351.1L576.9 347.2L578.1 343.2L580.6 335.4L581.1 327.5L580.7 319.6L580.4 311.8L580.4 303.9L581.6 296.0M658.0 415.4L651.6 415.4L644.1 415.4L636.7 415.4L629.2 415.4L621.7 415.4L614.2 415.4L606.8 415.4L599.3 420.0L591.8 420.7L584.4 420.7L576.9 420.7L569.4 420.7L562.0 420.7L556.0 420.7L550.0 420.7M550.0 353.1L556.0 353.1L562.0 355.1L569.4 357.0L576.9 355.1L578.8 351.1L580.6 343.2L582.1 335.4L581.8 327.5L581.4 319.6L581.0 311.8L581.0 303.9L582.4 296.0M658.0 412.8L651.6 412.8L644.1 412.2L636.7 412.2L629.2 412.2L621.7 412.2L614.2 412.2L606.8 412.8L603.0 414.1L599.3 416.1L591.8 418.1L584.4 418.1L576.9 418.1L569.4 418.1L562.0 418.1L556.0 418.1L550.0 418.1M550.0 357.0L556.0 357.0L559.0 359.0L562.0 362.9L569.4 362.9L576.9 362.9L578.8 359.0L582.5 351.1L583.1 343.2L583.6 335.4L582.6 327.5L582.1 319.6L581.6 311.8L581.6 303.9L583.2 296.0M599.3 380.7L597.4 382.6L597.4 390.5L599.3 392.5L601.2 390.5L601.2 382.6L599.3 380.7M636.7 386.6L633.0 390.5L633.0 398.4L636.7 402.3L640.4 398.4L640.4 390.5L636.7 386.6M658.0 410.2L651.6 410.2L644.1 408.2L636.7 408.2L629.2 408.2L621.7 408.2L614.2 408.2L606.8 410.2L599.3 412.2L595.5 414.1L591.8 415.4L584.4 415.4L576.9 415.4L569.4 415.4L562.0 415.4L556.0 415.4L550.0 415.4M621.7 339.3L618.0 343.2L618.0 351.1L621.7 355.1L629.2 355.1L633.0 351.1L629.2 347.2L625.5 343.2L621.7 339.3M599.3 376.7L593.7 382.6L593.7 390.5L599.3 396.4L604.9 390.5L604.9 382.6L599.3 376.7M559.0 406.2L562.0 402.3L565.7 406.2L562.0 410.2L559.0 406.2M658.0 407.6L651.6 407.6L647.9 406.2L646.0 398.4L646.0 390.5L646.0 382.6L644.1 378.7L636.7 378.7L633.0 382.6L629.2 386.6L625.5 390.5L625.5 398.4L621.7 402.3L614.2 402.3L610.5 406.2L606.8 407.6L599.3 408.2L591.8 410.2L584.4 410.2L580.6 406.2L576.9 402.3L569.4 402.3L565.7 398.4L562.0 394.4L559.0 390.5L559.0 382.6L559.0 374.8L562.0 370.8L565.7 374.8L565.7 382.6L569.4 386.6L573.1 382.6L576.9 378.7L580.6 374.8L580.6 366.9L582.5 359.0L584.4 355.1L588.1 351.1L588.1 343.2L586.2 335.4L584.4 333.4L583.3 327.5L582.7 319.6L582.3 311.8L582.3 303.9L584.0 296.0M658.0 362.9L651.6 362.9L647.9 359.0L647.9 351.1L644.1 347.2L640.4 343.2L636.7 339.3L633.0 335.4L629.2 334.1L621.7 333.4L614.2 333.4L610.5 335.4L610.5 343.2L610.5 351.1L612.4 359.0L614.2 362.9L621.7 362.9L629.2 362.9L633.0 366.9L633.0 374.8L629.2 378.7L621.7 378.7L614.2 378.7L610.5 374.8L606.8 370.8L599.3 370.8L591.8 370.8L588.1 366.9L591.8 362.9L595.5 359.0L593.0 351.1L593.0 343.2L591.8 339.3L589.9 335.4L584.4 329.5L584.0 327.5L583.4 319.6L582.9 311.8L582.9 303.9L584.4 297.3L591.8 297.0L599.3 297.0L606.8 297.0L614.2 297.0L621.7 297.0L629.2 297.0L631.1 296.0M658.0 402.3L651.6 402.3L649.7 398.4L649.7 390.5L649.7 382.6L647.9 374.8L651.6 370.8L658.0 370.8M595.5 343.2L599.3 337.3L604.9 343.2L604.9 351.1L606.8 355.1L608.6 359.0L606.8 362.9L603.0 359.0L599.3 357.0L595.5 351.1L595.5 343.2M658.0 347.2L651.6 347.2L647.9 343.2L644.1 339.3L640.4 335.4L636.7 333.4L629.2 331.4L621.7 329.5L614.2 329.5L606.8 331.4L599.3 331.4L591.8 331.4L588.1 327.5L584.4 323.6L584.1 319.6L583.5 311.8L583.5 303.9L584.4 299.9L591.8 299.0L599.3 299.0L606.8 299.0L614.2 299.0L621.7 299.0L629.2 299.0L634.8 296.0M598.0 343.2L599.3 341.3L601.2 343.2L601.2 351.1L599.3 353.1L598.0 351.1L598.0 343.2M658.0 339.3L651.6 339.3L647.9 335.4L644.1 333.4L636.7 329.5L629.2 328.8L625.5 327.5L621.7 323.6L614.2 323.6L606.8 323.6L599.3 323.6L591.8 323.6L588.1 319.6L584.4 315.7L584.1 311.8L584.1 303.9L584.4 302.6L591.8 300.9L599.3 300.9L606.8 300.9L614.2 300.9L621.7 300.9L629.2 300.9L636.7 297.3L644.1 297.0L651.6 297.0L658.0 297.0M658.0 331.4L651.6 331.4L644.1 329.5L640.4 327.5L636.7 323.6L633.0 319.6L629.2 315.7L621.7 315.7L614.2 315.7L610.5 311.8L606.8 307.8L603.0 311.8L599.3 315.7L595.5 311.8L591.8 307.8L588.1 303.9L591.8 302.9L599.3 302.9L606.8 302.9L614.2 302.9L621.7 302.9L629.2 302.9L636.7 299.9L644.1 299.0L651.6 299.0L658.0 299.0M658.0 323.6L651.6 323.6L644.1 325.5L638.6 319.6L636.7 315.7L633.0 311.8L633.0 303.9L636.7 302.6L644.1 300.9L651.6 300.9L658.0 300.9M658.0 315.7L651.6 315.7L647.9 319.6L644.1 321.6L642.2 319.6L638.6 311.8L640.4 303.9L644.1 302.9L651.6 302.9L658.0 302.9M642.2 311.8L644.1 307.8L647.9 311.8L644.1 315.7L642.2 311.8" fill="none" stroke="#000" stroke-width="1"/>
<path d="M705.0 296.0L708.0 296.0L710.6 296.0L710.6 303.9L710.6 311.8L710.6 319.6L710.6 327.5L711.4 332.2L718.9 328.6L725.2 335.4L725.5 343.2L725.5 351.1L725.5 359.0L725.5 366.9L725.5 374.8L725.5 382.6L725.5 390.5L725.5 398.4L725.5 406.2L725.5 414.1L725.2 422.0L718.9 428.8L711.4 425.1L708.0 428.1L705.0 429.2L705.0 422.0L705.0 414.1L705.0 406.2L705.0 398.4L705.0 390.5L705.0 382.6L705.0 374.8L705.0 366.9L705.0 359.0L705.0 351.1L705.0 343.2L705.0 335.4L705.0 327.5L705.0 319.6L705.0 311.8L705.0 303.9ZM730.8 335.4L733.8 332.2L741.3 330.1L748.8 330.1L756.2 330.1L763.7 330.1L771.2 330.1L778.6 330.1L786.1 330.1L793.6 330.1L801.0 330.1L808.5 330.1L816.0 330.1L823.0 330.1L823.0 335.4L823.0 343.2L823.0 351.1L823.0 359.0L823.0 366.9L823.0 374.8L823.0 382.6L823.0 390.5L823.0 398.4L823.0 406.2L823.0 414.1L823.0 422.0L823.0 429.9L823.0 435.1L816.0 435.1L808.5 435.1L801.0 435.1L793.6 435.1L786.1 435.1L778.6 435.1L771.2 435.1L763.7 435.1L756.2 435.1L751.3 429.9L748.8 428.5L741.3 428.5L733.8 425.1L730.8 422.0L730.8 414.1L730.8 406.2L730.8 398.4L730.8 390.5L730.8 382.6L730.8 374.8L730.8 366.9L730.8 359.0L730.8 351.1L730.8 343.2Z" fill="#2c0a48" fill-rule="evenodd"/>
<path d="M705.0 296.0L708.0 296.0L709.6 296.0L709.6 303.9L709.6 311.8L709.6 319.6L709.6 327.5L710.5 335.4L710.5 343.2L710.5 351.1L710.5 359.0L710.5 366.9L710.5 374.8L710.5 382.6L710.5 390.5L710.5 398.4L710.5 406.2L710.5 414.1L710.5 422.0L708.0 425.6L705.0 428.4L705.0 422.0L705.0 414.1L705.0 406.2L705.0 398.4L705.0 390.5L705.0 382.6L705.0 374.8L705.0 366.9L705.0 359.0L705.0 351.1L705.0 343.2L705.0 335.4L705.0 327.5L705.0 319.6L705.0 311.8L705.0 303.9ZM712.3 335.4L718.9 330.1L723.8 335.4L724.5 343.2L724.5 351.1L724.5 359.0L724.5 366.9L724.5 374.8L724.5 382.6L724.5 390.5L724.5 398.4L724.5 406.2L724.5 414.1L723.8 422.0L718.9 427.2L712.3 422.0L712.0 414.1L712.0 406.2L712.0 398.4L712.0 390.5L712.0 382.6L712.0 374.8L712.0 366.9L712.0 359.0L712.0 351.1L712.0 343.2ZM737.5 335.4L741.3 333.6L748.8 333.6L756.2 333.6L763.7 333.6L771.2 333.6L778.6 333.6L786.1 333.6L793.6 333.6L801.0 333.6L808.5 333.6L816.0 333.6L823.0 333.6L823.0 335.4L823.0 343.2L823.0 351.1L823.0 359.0L823.0 366.9L823.0 374.8L823.0 382.6L823.0 390.5L823.0 398.4L823.0 406.2L823.0 414.1L823.0 422.0L823.0 429.9L823.0 431.6L816.0 431.6L808.5 431.6L801.0 431.6L793.6 431.6L786.1 431.6L778.6 431.6L771.2 431.6L763.7 431.6L756.2 431.6L754.6 429.9L748.8 426.6L741.3 426.6L735.0 422.0L734.3 414.1L734.1 406.2L734.1 398.4L734.1 390.5L734.1 382.6L734.2 374.8L734.3 366.9L734.5 359.0L734.7 351.1L735.0 343.2Z" fill="#4a0c8e" fill-rule="evenodd"/>
<path d="M705.0 296.0L708.0 296.0L708.5 296.0L708.5 303.9L708.5 311.8L708.5 319.6L708.5 327.5L708.9 335.4L708.9 343.2L708.9 351.1L708.9 359.0L708.9 366.9L708.9 374.8L708.9 382.6L708.9 390.5L708.9 398.4L708.9 406.2L708.9 414.1L708.9 422.0L708.0 423.2L705.0 427.5L705.0 422.0L705.0 414.1L705.0 406.2L705.0 398.4L705.0 390.5L705.0 382.6L705.0 374.8L705.0 366.9L705.0 359.0L705.0 351.1L705.0 343.2L705.0 335.4L705.0 327.5L705.0 319.6L705.0 311.8L705.0 303.9ZM714.2 335.4L718.9 331.6L722.4 335.4L723.5 343.2L723.5 351.1L723.5 359.0L723.5 366.9L723.5 374.8L723.5 382.6L723.5 390.5L723.5 398.4L723.5 406.2L723.5 414.1L722.4 422.0L718.9 425.8L714.2 422.0L713.3 414.1L713.3 406.2L713.3 398.4L713.3 390.5L713.3 382.6L713.3 374.8L713.3 366.9L713.3 359.0L713.3 351.1L713.3 343.2ZM737.5 343.2L741.3 337.3L748.8 337.3L756.2 339.3L763.7 339.3L771.2 337.3L778.6 339.3L786.1 339.3L793.6 339.3L801.0 339.3L808.5 339.3L816.0 339.3L823.0 339.3L823.0 343.2L823.0 351.1L823.0 359.0L823.0 366.9L823.0 374.8L823.0 382.6L823.0 390.5L823.0 398.4L823.0 406.2L823.0 414.1L823.0 422.0L823.0 428.6L816.0 428.6L808.5 428.6L801.0 428.6L793.6 428.6L786.1 428.6L778.6 428.6L771.2 428.6L763.7 428.6L756.2 428.6L748.8 424.8L741.3 424.8L737.5 422.0L735.4 414.1L734.7 406.2L734.7 398.4L734.7 390.5L734.8 382.6L735.0 374.8L735.4 366.9L736.0 359.0L736.6 351.1Z" fill="#1414a8" fill-rule="evenodd"/>
<path d="M705.0 296.0L707.6 296.0L707.6 303.9L707.6 311.8L707.6 319.6L707.6 327.5L707.8 335.4L707.8 343.2L707.8 351.1L707.8 359.0L707.8 366.9L707.8 374.8L707.8 382.6L707.8 390.5L707.8 398.4L707.8 406.2L707.8 414.1L707.8 422.0L705.0 426.7L705.0 422.0L705.0 414.1L705.0 406.2L705.0 398.4L705.0 390.5L705.0 382.6L705.0 374.8L705.0 366.9L705.0 359.0L705.0 351.1L705.0 343.2L705.0 335.4L705.0 327.5L705.0 319.6L705.0 311.8L705.0 303.9ZM716.1 335.4L718.9 333.1L721.0 335.4L722.5 343.2L722.5 351.1L722.5 359.0L722.5 366.9L722.5 374.8L722.5 382.6L722.5 390.5L722.5 398.4L722.5 406.2L722.5 414.1L721.0 422.0L718.9 424.2L716.1 422.0L714.5 414.1L714.5 406.2L714.5 398.4L714.5 390.5L714.5 382.6L714.5 374.8L714.5 366.9L714.5 359.0L714.5 351.1L714.5 343.2ZM740.0 343.2L741.3 341.3L748.8 341.3L752.5 343.2L756.2 345.2L763.7 344.6L767.5 343.2L771.2 341.3L774.9 343.2L778.6 345.2L786.1 347.2L793.6 345.2L801.0 345.2L808.5 344.2L816.0 343.9L823.0 343.9L823.0 351.1L823.0 359.0L823.0 366.9L823.0 374.8L823.0 382.6L823.0 390.5L823.0 398.4L823.0 406.2L823.0 414.1L823.0 422.0L823.0 425.9L816.0 425.9L808.5 425.9L801.0 425.9L793.6 425.9L786.1 425.9L778.6 425.9L771.2 425.9L763.7 425.9L756.2 425.9L748.8 422.9L741.3 422.9L740.0 422.0L736.5 414.1L735.4 406.2L735.4 398.4L735.4 390.5L735.5 382.6L735.9 374.8L736.5 366.9L737.5 359.0L738.5 351.1Z" fill="#1a32ee" fill-rule="evenodd"/>
<path d="M705.0 296.0L706.9 296.0L706.9 303.9L706.9 311.8L706.9 319.6L706.9 327.5L707.2 335.4L707.2 343.2L707.2 351.1L707.2 359.0L707.2 366.9L707.2 374.8L707.2 382.6L707.2 390.5L707.2 398.4L707.2 406.2L707.2 414.1L707.2 422.0L705.0 425.8L705.0 422.0L705.0 414.1L705.0 406.2L705.0 398.4L705.0 390.5L705.0 382.6L705.0 374.8L705.0 366.9L705.0 359.0L705.0 351.1L705.0 343.2L705.0 335.4L705.0 327.5L705.0 319.6L705.0 311.8L705.0 303.9ZM718.0 335.4L718.9 334.6L719.6 335.4L721.5 343.2L721.5 351.1L721.5 359.0L721.5 366.9L721.5 374.8L721.5 382.6L721.5 390.5L721.5 398.4L721.5 406.2L721.5 414.1L719.6 422.0L718.9 422.8L718.0 422.0L715.8 414.1L715.8 406.2L715.8 398.4L715.8 390.5L715.8 382.6L715.8 374.8L715.8 366.9L715.8 359.0L715.8 351.1L715.8 343.2ZM740.4 351.1L741.3 347.2L748.8 347.2L756.2 349.2L763.7 347.2L771.2 347.2L778.6 349.2L782.4 351.1L786.1 353.1L789.9 351.1L793.6 349.2L801.0 349.2L808.5 346.2L816.0 345.2L823.0 345.2L823.0 351.1L823.0 359.0L823.0 366.9L823.0 374.8L823.0 382.6L823.0 390.5L823.0 398.4L823.0 406.2L823.0 414.1L823.0 422.0L823.0 423.3L816.0 423.3L808.5 423.3L801.0 423.3L793.6 423.3L786.1 423.3L778.6 423.3L771.2 423.3L763.7 423.3L756.2 423.3L752.5 422.0L748.8 421.0L741.3 421.0L737.5 414.1L736.0 406.2L736.0 398.4L736.0 390.5L736.2 382.6L736.7 374.8L737.5 366.9L739.0 359.0Z" fill="#1a74f0" fill-rule="evenodd"/>
<path d="M705.0 296.0L706.1 296.0L706.1 303.9L706.1 311.8L706.1 319.6L706.1 327.5L706.8 335.4L706.8 343.2L706.8 351.1L706.8 359.0L706.8 366.9L706.8 374.8L706.8 382.6L706.8 390.5L706.8 398.4L706.8 406.2L706.8 414.1L706.8 422.0L705.0 425.0L705.0 422.0L705.0 414.1L705.0 406.2L705.0 398.4L705.0 390.5L705.0 382.6L705.0 374.8L705.0 366.9L705.0 359.0L705.0 351.1L705.0 343.2L705.0 335.4L705.0 327.5L705.0 319.6L705.0 311.8L705.0 303.9ZM717.0 343.2L718.9 337.3L720.4 343.2L720.4 351.1L720.4 359.0L720.4 366.9L720.4 374.8L720.4 382.6L720.4 390.5L720.4 398.4L720.4 406.2L720.4 414.1L718.9 420.0L717.0 414.1L717.0 406.2L717.0 398.4L717.0 390.5L717.0 382.6L717.0 374.8L717.0 366.9L717.0 359.0L717.0 351.1ZM760.0 351.1L763.7 349.8L767.5 351.1L771.2 355.1L778.6 355.1L786.1 357.0L793.6 355.1L801.0 355.1L802.9 351.1L808.5 348.2L816.0 346.5L823.0 346.5L823.0 351.1L823.0 359.0L823.0 366.9L823.0 374.8L823.0 382.6L823.0 390.5L823.0 398.4L823.0 406.2L823.0 414.1L823.0 420.7L816.0 420.7L808.5 420.7L801.0 420.7L793.6 420.7L786.1 420.7L778.6 420.7L771.2 420.7L763.7 420.7L756.2 420.7L748.8 419.0L741.3 419.0L738.6 414.1L736.6 406.2L736.6 398.4L736.6 390.5L736.9 382.6L737.5 374.8L738.6 366.9L740.5 359.0L741.3 355.1L748.8 355.1L756.2 355.1Z" fill="#14a8ec" fill-rule="evenodd"/>
<path d="M705.0 296.0L705.4 296.0L705.4 303.9L705.4 311.8L705.4 319.6L705.4 327.5L706.2 335.4L706.2 343.2L706.2 351.1L706.2 359.0L706.2 366.9L706.2 374.8L706.2 382.6L706.2 390.5L706.2 398.4L706.2 406.2L706.2 414.1L706.2 422.0L705.0 424.1L705.0 422.0L705.0 414.1L705.0 406.2L705.0 398.4L705.0 390.5L705.0 382.6L705.0 374.8L705.0 366.9L705.0 359.0L705.0 351.1L705.0 343.2L705.0 335.4L705.0 327.5L705.0 319.6L705.0 311.8L705.0 303.9ZM718.3 343.2L718.9 341.3L719.4 343.2L719.4 351.1L719.4 359.0L719.4 366.9L719.4 374.8L719.4 382.6L719.4 390.5L719.4 398.4L719.4 406.2L719.4 414.1L718.9 416.1L718.3 414.1L718.3 406.2L718.3 398.4L718.3 390.5L718.3 382.6L718.3 374.8L718.3 366.9L718.3 359.0L718.3 351.1ZM806.6 351.1L808.5 350.1L816.0 347.8L823.0 347.8L823.0 351.1L823.0 359.0L823.0 366.9L823.0 374.8L823.0 382.6L823.0 390.5L823.0 398.4L823.0 406.2L823.0 414.1L823.0 418.1L816.0 418.1L808.5 418.1L801.0 418.1L793.6 418.1L786.1 418.1L778.6 418.1L771.2 418.1L763.7 418.1L756.2 418.1L748.8 417.1L741.3 417.1L739.7 414.1L737.2 406.2L737.2 398.4L737.2 390.5L737.5 382.6L738.4 374.8L739.7 366.9L741.3 361.0L748.8 361.0L756.2 361.0L760.0 359.0L763.7 355.1L767.5 359.0L771.2 362.9L778.6 362.9L786.1 362.9L793.6 362.9L801.0 361.0L802.9 359.0Z" fill="#1ed2cc" fill-rule="evenodd"/>
<path d="M705.0 335.4L705.0 329.5L705.8 335.4L705.8 343.2L705.8 351.1L705.8 359.0L705.8 366.9L705.8 374.8L705.8 382.6L705.8 390.5L705.8 398.4L705.8 406.2L705.8 414.1L705.8 422.0L705.0 423.3L705.0 422.0L705.0 414.1L705.0 406.2L705.0 398.4L705.0 390.5L705.0 382.6L705.0 374.8L705.0 366.9L705.0 359.0L705.0 351.1L705.0 343.2ZM810.4 351.1L816.0 349.2L823.0 349.2L823.0 351.1L823.0 359.0L823.0 366.9L823.0 374.8L823.0 382.6L823.0 390.5L823.0 398.4L823.0 406.2L823.0 414.1L823.0 415.4L816.0 415.4L808.5 415.4L801.0 415.4L793.6 415.4L786.1 415.4L778.6 415.4L771.2 415.4L763.7 415.4L756.2 415.4L748.8 415.1L741.3 415.1L740.8 414.1L737.9 406.2L737.9 398.4L737.9 390.5L738.2 382.6L739.2 374.8L740.8 366.9L741.3 364.9L748.8 364.9L756.2 364.9L760.0 366.9L763.7 368.8L771.2 370.8L778.6 368.8L786.1 370.8L793.6 370.8L797.3 366.9L801.0 364.9L806.6 359.0L808.5 355.1Z" fill="#1edcaa" fill-rule="evenodd"/>
<path d="M705.0 335.4L705.0 333.4L705.2 335.4L705.2 343.2L705.2 351.1L705.2 359.0L705.2 366.9L705.2 374.8L705.2 382.6L705.2 390.5L705.2 398.4L705.2 406.2L705.2 414.1L705.2 422.0L705.0 422.4L705.0 422.0L705.0 414.1L705.0 406.2L705.0 398.4L705.0 390.5L705.0 382.6L705.0 374.8L705.0 366.9L705.0 359.0L705.0 351.1L705.0 343.2ZM814.1 351.1L816.0 350.5L823.0 350.5L823.0 351.1L823.0 359.0L823.0 366.9L823.0 374.8L823.0 382.6L823.0 390.5L823.0 398.4L823.0 406.2L823.0 412.2L816.0 412.2L808.5 412.8L801.0 412.2L793.6 410.2L786.1 410.2L778.6 410.2L771.2 410.2L763.7 412.2L756.2 413.1L748.8 413.3L741.3 413.3L738.5 406.2L738.5 398.4L738.5 390.5L738.9 382.6L740.0 374.8L741.3 368.8L748.8 368.8L756.2 370.8L763.7 372.8L767.5 374.8L771.2 376.7L774.9 374.8L778.6 372.8L782.4 374.8L786.1 378.7L793.6 378.7L797.3 374.8L801.0 370.8L804.8 366.9L808.5 362.9L810.4 359.0Z" fill="#3eea78" fill-rule="evenodd"/>
<path d="M814.1 359.0L816.0 355.1L823.0 355.1L823.0 359.0L823.0 366.9L823.0 374.8L823.0 382.6L823.0 390.5L823.0 398.4L823.0 406.2L823.0 408.2L816.0 408.2L808.5 410.2L801.0 408.2L797.3 406.2L797.3 398.4L801.0 394.4L802.9 390.5L804.8 382.6L804.8 374.8L808.5 370.8L812.2 366.9ZM740.9 374.8L741.3 372.8L748.8 372.8L752.5 374.8L756.2 376.7L763.7 378.7L771.2 380.7L774.9 382.6L778.6 384.6L786.1 386.6L789.9 390.5L786.1 394.4L782.4 398.4L778.6 402.3L771.2 404.3L767.5 406.2L763.7 408.2L756.2 411.2L748.8 411.8L741.3 411.8L739.1 406.2L739.1 398.4L739.1 390.5L739.6 382.6Z" fill="#8aec2a" fill-rule="evenodd"/>
<path d="M740.3 382.6L741.3 376.7L748.8 376.7L756.2 380.7L760.0 382.6L763.7 386.6L771.2 386.6L778.6 388.5L782.4 390.5L778.6 394.4L774.9 398.4L771.2 400.3L763.7 402.3L761.8 406.2L756.2 409.2L748.8 410.2L741.3 410.2L739.7 406.2L739.7 398.4L739.7 390.5ZM806.6 390.5L808.5 386.6L812.2 390.5L812.2 398.4L812.2 406.2L808.5 407.6L804.8 406.2L804.8 398.4Z" fill="#d0f000" fill-rule="evenodd"/>
<path d="M741.0 382.6L741.3 380.7L748.8 380.7L752.5 382.6L756.2 386.6L760.0 390.5L760.0 398.4L758.1 406.2L756.2 407.2L748.8 408.6L741.3 408.6L740.4 406.2L740.4 398.4L740.4 390.5Z" fill="#ffff00" fill-rule="evenodd"/>
<path d="M741.0 390.5L741.3 386.6L748.8 386.6L752.5 390.5L754.4 398.4L752.5 406.2L748.8 407.0L741.3 407.0L741.0 406.2L741.0 398.4Z" fill="#ffcc00" fill-rule="evenodd"/>
<path d="M745.0 398.4L748.8 394.4L750.6 398.4L748.8 402.3Z" fill="#ffa400" fill-rule="evenodd"/>
<path d="M710.6 296.0L710.6 303.9L710.6 311.8L710.6 319.6L710.6 327.5L711.4 332.2L718.9 328.6L725.2 335.4L725.5 343.2L725.5 351.1L725.5 359.0L725.5 366.9L725.5 374.8L725.5 382.6L725.5 390.5L725.5 398.4L725.5 406.2L725.5 414.1L725.2 422.0L718.9 428.8L711.4 425.1L708.0 428.1L705.0 429.2M823.0 435.1L816.0 435.1L808.5 435.1L801.0 435.1L793.6 435.1L786.1 435.1L778.6 435.1L771.2 435.1L763.7 435.1L756.2 435.1L751.3 429.9L748.8 428.5L741.3 428.5L733.8 425.1L730.8 422.0L730.8 414.1L730.8 406.2L730.8 398.4L730.8 390.5L730.8 382.6L730.8 374.8L730.8 366.9L730.8 359.0L730.8 351.1L730.8 343.2L730.8 335.4L733.8 332.2L741.3 330.1L748.8 330.1L756.2 330.1L763.7 330.1L771.2 330.1L778.6 330.1L786.1 330.1L793.6 330.1L801.0 330.1L808.5 330.1L816.0 330.1L823.0 330.1M709.6 296.0L709.6 303.9L709.6 311.8L709.6 319.6L709.6 327.5L710.5 335.4L710.5 343.2L710.5 351.1L710.5 359.0L710.5 366.9L710.5 374.8L710.5 382.6L710.5 390.5L710.5 398.4L710.5 406.2L710.5 414.1L710.5 422.0L708.0 425.6L705.0 428.4M712.3 335.4L718.9 330.1L723.8 335.4L724.5 343.2L724.5 351.1L724.5 359.0L724.5 366.9L724.5 374.8L724.5 382.6L724.5 390.5L724.5 398.4L724.5 406.2L724.5 414.1L723.8 422.0L718.9 427.2L712.3 422.0L712.0 414.1L712.0 406.2L712.0 398.4L712.0 390.5L712.0 382.6L712.0 374.8L712.0 366.9L712.0 359.0L712.0 351.1L712.0 343.2L712.3 335.4M823.0 431.6L816.0 431.6L808.5 431.6L801.0 431.6L793.6 431.6L786.1 431.6L778.6 431.6L771.2 431.6L763.7 431.6L756.2 431.6L754.6 429.9L748.8 426.6L741.3 426.6L735.0 422.0L734.3 414.1L734.1 406.2L734.1 398.4L734.1 390.5L734.1 382.6L734.2 374.8L734.3 366.9L734.5 359.0L734.7 351.1L735.0 343.2L737.5 335.4L741.3 333.6L748.8 333.6L756.2 333.6L763.7 333.6L771.2 333.6L778.6 333.6L786.1 333.6L793.6 333.6L801.0 333.6L808.5 333.6L816.0 333.6L823.0 333.6M708.5 296.0L708.5 303.9L708.5 311.8L708.5 319.6L708.5 327.5L708.9 335.4L708.9 343.2L708.9 351.1L708.9 359.0L708.9 366.9L708.9 374.8L708.9 382.6L708.9 390.5L708.9 398.4L708.9 406.2L708.9 414.1L708.9 422.0L708.0 423.2L705.0 427.5M714.2 335.4L718.9 331.6L722.4 335.4L723.5 343.2L723.5 351.1L723.5 359.0L723.5 366.9L723.5 374.8L723.5 382.6L723.5 390.5L723.5 398.4L723.5 406.2L723.5 414.1L722.4 422.0L718.9 425.8L714.2 422.0L713.3 414.1L713.3 406.2L713.3 398.4L713.3 390.5L713.3 382.6L713.3 374.8L713.3 366.9L713.3 359.0L713.3 351.1L713.3 343.2L714.2 335.4M823.0 428.6L816.0 428.6L808.5 428.6L801.0 428.6L793.6 428.6L786.1 428.6L778.6 428.6L771.2 428.6L763.7 428.6L756.2 428.6L748.8 424.8L741.3 424.8L737.5 422.0L735.4 414.1L734.7 406.2L734.7 398.4L734.7 390.5L734.8 382.6L735.0 374.8L735.4 366.9L736.0 359.0L736.6 351.1L737.5 343.2L741.3 337.3L748.8 337.3L756.2 339.3L763.7 339.3L771.2 337.3L778.6 339.3L786.1 339.3L793.6 339.3L801.0 339.3L808.5 339.3L816.0 339.3L823.0 339.3M707.6 296.0L707.6 303.9L707.6 311.8L707.6 319.6L707.6 327.5L707.8 335.4L707.8 343.2L707.8 351.1L707.8 359.0L707.8 366.9L707.8 374.8L707.8 382.6L707.8 390.5L707.8 398.4L707.8 406.2L707.8 414.1L707.8 422.0L705.0 426.7M716.1 335.4L718.9 333.1L721.0 335.4L722.5 343.2L722.5 351.1L722.5 359.0L722.5 366.9L722.5 374.8L722.5 382.6L722.5 390.5L722.5 398.4L722.5 406.2L722.5 414.1L721.0 422.0L718.9 424.2L716.1 422.0L714.5 414.1L714.5 406.2L714.5 398.4L714.5 390.5L714.5 382.6L714.5 374.8L714.5 366.9L714.5 359.0L714.5 351.1L714.5 343.2L716.1 335.4M823.0 425.9L816.0 425.9L808.5 425.9L801.0 425.9L793.6 425.9L786.1 425.9L778.6 425.9L771.2 425.9L763.7 425.9L756.2 425.9L748.8 422.9L741.3 422.9L740.0 422.0L736.5 414.1L735.4 406.2L735.4 398.4L735.4 390.5L735.5 382.6L735.9 374.8L736.5 366.9L737.5 359.0L738.5 351.1L740.0 343.2L741.3 341.3L748.8 341.3L752.5 343.2L756.2 345.2L763.7 344.6L767.5 343.2L771.2 341.3L774.9 343.2L778.6 345.2L786.1 347.2L793.6 345.2L801.0 345.2L808.5 344.2L816.0 343.9L823.0 343.9M706.9 296.0L706.9 303.9L706.9 311.8L706.9 319.6L706.9 327.5L707.2 335.4L707.2 343.2L707.2 351.1L707.2 359.0L707.2 366.9L707.2 374.8L707.2 382.6L707.2 390.5L707.2 398.4L707.2 406.2L707.2 414.1L707.2 422.0L705.0 425.8M718.0 335.4L718.9 334.6L719.6 335.4L721.5 343.2L721.5 351.1L721.5 359.0L721.5 366.9L721.5 374.8L721.5 382.6L721.5 390.5L721.5 398.4L721.5 406.2L721.5 414.1L719.6 422.0L718.9 422.8L718.0 422.0L715.8 414.1L715.8 406.2L715.8 398.4L715.8 390.5L715.8 382.6L715.8 374.8L715.8 366.9L715.8 359.0L715.8 351.1L715.8 343.2L718.0 335.4M823.0 423.3L816.0 423.3L808.5 423.3L801.0 423.3L793.6 423.3L786.1 423.3L778.6 423.3L771.2 423.3L763.7 423.3L756.2 423.3L752.5 422.0L748.8 421.0L741.3 421.0L737.5 414.1L736.0 406.2L736.0 398.4L736.0 390.5L736.2 382.6L736.7 374.8L737.5 366.9L739.0 359.0L740.4 351.1L741.3 347.2L748.8 347.2L756.2 349.2L763.7 347.2L771.2 347.2L778.6 349.2L782.4 351.1L786.1 353.1L789.9 351.1L793.6 349.2L801.0 349.2L808.5 346.2L816.0 345.2L823.0 345.2M706.1 296.0L706.1 303.9L706.1 311.8L706.1 319.6L706.1 327.5L706.8 335.4L706.8 343.2L706.8 351.1L706.8 359.0L706.8 366.9L706.8 374.8L706.8 382.6L706.8 390.5L706.8 398.4L706.8 406.2L706.8 414.1L706.8 422.0L705.0 425.0M717.0 343.2L718.9 337.3L720.4 343.2L720.4 351.1L720.4 359.0L720.4 366.9L720.4 374.8L720.4 382.6L720.4 390.5L720.4 398.4L720.4 406.2L720.4 414.1L718.9 420.0L717.0 414.1L717.0 406.2L717.0 398.4L717.0 390.5L717.0 382.6L717.0 374.8L717.0 366.9L717.0 359.0L717.0 351.1L717.0 343.2M823.0 420.7L816.0 420.7L808.5 420.7L801.0 420.7L793.6 420.7L786.1 420.7L778.6 420.7L771.2 420.7L763.7 420.7L756.2 420.7L748.8 419.0L741.3 419.0L738.6 414.1L736.6 406.2L736.6 398.4L736.6 390.5L736.9 382.6L737.5 374.8L738.6 366.9L740.5 359.0L741.3 355.1L748.8 355.1L756.2 355.1L760.0 351.1L763.7 349.8L767.5 351.1L771.2 355.1L778.6 355.1L786.1 357.0L793.6 355.1L801.0 355.1L802.9 351.1L808.5 348.2L816.0 346.5L823.0 346.5M705.4 296.0L705.4 303.9L705.4 311.8L705.4 319.6L705.4 327.5L706.2 335.4L706.2 343.2L706.2 351.1L706.2 359.0L706.2 366.9L706.2 374.8L706.2 382.6L706.2 390.5L706.2 398.4L706.2 406.2L706.2 414.1L706.2 422.0L705.0 424.1M718.3 343.2L718.9 341.3L719.4 343.2L719.4 351.1L719.4 359.0L719.4 366.9L719.4 374.8L719.4 382.6L719.4 390.5L719.4 398.4L719.4 406.2L719.4 414.1L718.9 416.1L718.3 414.1L718.3 406.2L718.3 398.4L718.3 390.5L718.3 382.6L718.3 374.8L718.3 366.9L718.3 359.0L718.3 351.1L718.3 343.2M823.0 418.1L816.0 418.1L808.5 418.1L801.0 418.1L793.6 418.1L786.1 418.1L778.6 418.1L771.2 418.1L763.7 418.1L756.2 418.1L748.8 417.1L741.3 417.1L739.7 414.1L737.2 406.2L737.2 398.4L737.2 390.5L737.5 382.6L738.4 374.8L739.7 366.9L741.3 361.0L748.8 361.0L756.2 361.0L760.0 359.0L763.7 355.1L767.5 359.0L771.2 362.9L778.6 362.9L786.1 362.9L793.6 362.9L801.0 361.0L802.9 359.0L806.6 351.1L808.5 350.1L816.0 347.8L823.0 347.8M705.0 329.5L705.8 335.4L705.8 343.2L705.8 351.1L705.8 359.0L705.8 366.9L705.8 374.8L705.8 382.6L705.8 390.5L705.8 398.4L705.8 406.2L705.8 414.1L705.8 422.0L705.0 423.3M823.0 415.4L816.0 415.4L808.5 415.4L801.0 415.4L793.6 415.4L786.1 415.4L778.6 415.4L771.2 415.4L763.7 415.4L756.2 415.4L748.8 415.1L741.3 415.1L740.8 414.1L737.9 406.2L737.9 398.4L737.9 390.5L738.2 382.6L739.2 374.8L740.8 366.9L741.3 364.9L748.8 364.9L756.2 364.9L760.0 366.9L763.7 368.8L771.2 370.8L778.6 368.8L786.1 370.8L793.6 370.8L797.3 366.9L801.0 364.9L806.6 359.0L808.5 355.1L810.4 351.1L816.0 349.2L823.0 349.2M705.0 333.4L705.2 335.4L705.2 343.2L705.2 351.1L705.2 359.0L705.2 366.9L705.2 374.8L705.2 382.6L705.2 390.5L705.2 398.4L705.2 406.2L705.2 414.1L705.2 422.0L705.0 422.4M823.0 412.2L816.0 412.2L808.5 412.8L801.0 412.2L793.6 410.2L786.1 410.2L778.6 410.2L771.2 410.2L763.7 412.2L756.2 413.1L748.8 413.3L741.3 413.3L738.5 406.2L738.5 398.4L738.5 390.5L738.9 382.6L740.0 374.8L741.3 368.8L748.8 368.8L756.2 370.8L763.7 372.8L767.5 374.8L771.2 376.7L774.9 374.8L778.6 372.8L782.4 374.8L786.1 378.7L793.6 378.7L797.3 374.8L801.0 370.8L804.8 366.9L808.5 362.9L810.4 359.0L814.1 351.1L816.0 350.5L823.0 350.5M740.9 374.8L741.3 372.8L748.8 372.8L752.5 374.8L756.2 376.7L763.7 378.7L771.2 380.7L774.9 382.6L778.6 384.6L786.1 386.6L789.9 390.5L786.1 394.4L782.4 398.4L778.6 402.3L771.2 404.3L767.5 406.2L763.7 408.2L756.2 411.2L748.8 411.8L741.3 411.8L739.1 406.2L739.1 398.4L739.1 390.5L739.6 382.6L740.9 374.8M823.0 408.2L816.0 408.2L808.5 410.2L801.0 408.2L797.3 406.2L797.3 398.4L801.0 394.4L802.9 390.5L804.8 382.6L804.8 374.8L808.5 370.8L812.2 366.9L814.1 359.0L816.0 355.1L823.0 355.1M740.3 382.6L741.3 376.7L748.8 376.7L756.2 380.7L760.0 382.6L763.7 386.6L771.2 386.6L778.6 388.5L782.4 390.5L778.6 394.4L774.9 398.4L771.2 400.3L763.7 402.3L761.8 406.2L756.2 409.2L748.8 410.2L741.3 410.2L739.7 406.2L739.7 398.4L739.7 390.5L740.3 382.6M806.6 390.5L808.5 386.6L812.2 390.5L812.2 398.4L812.2 406.2L808.5 407.6L804.8 406.2L804.8 398.4L806.6 390.5M741.0 382.6L741.3 380.7L748.8 380.7L752.5 382.6L756.2 386.6L760.0 390.5L760.0 398.4L758.1 406.2L756.2 407.2L748.8 408.6L741.3 408.6L740.4 406.2L740.4 398.4L740.4 390.5L741.0 382.6M741.0 390.5L741.3 386.6L748.8 386.6L752.5 390.5L754.4 398.4L752.5 406.2L748.8 407.0L741.3 407.0L741.0 406.2L741.0 398.4L741.0 390.5M745.0 398.4L748.8 394.4L750.6 398.4L748.8 402.3L745.0 398.4" fill="none" stroke="#000" stroke-width="1"/>
</g>
<text x="202" y="20" text-anchor="middle" textLength="216" lengthAdjust="spacingAndGlyphs">Inverted Winds Meridional (coldside)</text>
<path d="M67 26.5H337M67 215.5H337M67.5 26V216M336.5 26V216M68 26.5H74M336 26.5H330M68 29.5H71M336 29.5H333M68 32.5H71M336 32.5H333M68 35.5H71M336 35.5H333M68 39.5H71M336 39.5H333M68 42.5H71M336 42.5H333M68 45.5H71M336 45.5H333M68 48.5H71M336 48.5H333M68 51.5H71M336 51.5H333M68 54.5H71M336 54.5H333M68 57.5H74M336 57.5H330M68 61.5H71M336 61.5H333M68 64.5H71M336 64.5H333M68 67.5H71M336 67.5H333M68 70.5H71M336 70.5H333M68 73.5H71M336 73.5H333M68 76.5H71M336 76.5H333M68 80.5H71M336 80.5H333M68 83.5H71M336 83.5H333M68 86.5H71M336 86.5H333M68 89.5H74M336 89.5H330M68 92.5H71M336 92.5H333M68 95.5H71M336 95.5H333M68 98.5H71M336 98.5H333M68 102.5H71M336 102.5H333M68 105.5H71M336 105.5H333M68 108.5H71M336 108.5H333M68 111.5H71M336 111.5H333M68 114.5H71M336 114.5H333M68 117.5H71M336 117.5H333M68 120.5H74M336 120.5H330M68 124.5H71M336 124.5H333M68 127.5H71M336 127.5H333M68 130.5H71M336 130.5H333M68 133.5H71M336 133.5H333M68 136.5H71M336 136.5H333M68 139.5H71M336 139.5H333M68 143.5H71M336 143.5H333M68 146.5H71M336 146.5H333M68 149.5H71M336 149.5H333M68 152.5H74M336 152.5H330M68 155.5H71M336 155.5H333M68 158.5H71M336 158.5H333M68 161.5H71M336 161.5H333M68 165.5H71M336 165.5H333M68 168.5H71M336 168.5H333M68 171.5H71M336 171.5H333M68 174.5H71M336 174.5H333M68 177.5H71M336 177.5H333M68 180.5H71M336 180.5H333M68 183.5H74M336 183.5H330M68 187.5H71M336 187.5H333M68 190.5H71M336 190.5H333M68 193.5H71M336 193.5H333M68 196.5H71M336 196.5H333M68 199.5H71M336 199.5H333M68 202.5H71M336 202.5H333M68 206.5H71M336 206.5H333M68 209.5H71M336 209.5H333M68 212.5H71M336 212.5H333M68 215.5H74M336 215.5H330M67.5 215V211M134.5 215V211M201.5 215V211M268.5 215V211M336.5 215V211" stroke="#000" stroke-width="1" fill="none" shape-rendering="crispEdges"/>
<text x="63" y="33" text-anchor="end" textLength="18" lengthAdjust="spacingAndGlyphs">120</text>
<text x="63" y="62" text-anchor="end" textLength="18" lengthAdjust="spacingAndGlyphs">110</text>
<text x="63" y="93" text-anchor="end" textLength="18" lengthAdjust="spacingAndGlyphs">100</text>
<text x="63" y="125" text-anchor="end" textLength="12" lengthAdjust="spacingAndGlyphs">90</text>
<text x="63" y="156" text-anchor="end" textLength="12" lengthAdjust="spacingAndGlyphs">80</text>
<text x="63" y="188" text-anchor="end" textLength="12" lengthAdjust="spacingAndGlyphs">70</text>
<text x="63" y="216" text-anchor="end" textLength="12" lengthAdjust="spacingAndGlyphs">60</text>
<text x="66.5" y="230" text-anchor="middle" textLength="18" lengthAdjust="spacingAndGlyphs">-90</text>
<text x="133.8" y="230" text-anchor="middle" textLength="6" lengthAdjust="spacingAndGlyphs">0</text>
<text x="201.0" y="230" text-anchor="middle" textLength="12" lengthAdjust="spacingAndGlyphs">90</text>
<text x="268.2" y="230" text-anchor="middle" textLength="6" lengthAdjust="spacingAndGlyphs">0</text>
<text x="335.5" y="230" text-anchor="middle" textLength="18" lengthAdjust="spacingAndGlyphs">-90</text>
<text x="201" y="243" text-anchor="middle" textLength="54" lengthAdjust="spacingAndGlyphs">Lat (deg)</text>
<text x="36" y="55" text-anchor="middle" textLength="6" lengthAdjust="spacingAndGlyphs">A</text>
<text x="36" y="65" text-anchor="middle" textLength="6" lengthAdjust="spacingAndGlyphs">l</text>
<text x="36" y="75" text-anchor="middle" textLength="6" lengthAdjust="spacingAndGlyphs">t</text>
<text x="36" y="85" text-anchor="middle" textLength="6" lengthAdjust="spacingAndGlyphs">i</text>
<text x="36" y="95" text-anchor="middle" textLength="6" lengthAdjust="spacingAndGlyphs">t</text>
<text x="36" y="105" text-anchor="middle" textLength="6" lengthAdjust="spacingAndGlyphs">u</text>
<text x="36" y="115" text-anchor="middle" textLength="6" lengthAdjust="spacingAndGlyphs">d</text>
<text x="36" y="125" text-anchor="middle" textLength="6" lengthAdjust="spacingAndGlyphs">e</text>
<text x="36" y="145" text-anchor="middle" textLength="6" lengthAdjust="spacingAndGlyphs">(</text>
<text x="36" y="155" text-anchor="middle" textLength="6" lengthAdjust="spacingAndGlyphs">k</text>
<text x="36" y="165" text-anchor="middle" textLength="6" lengthAdjust="spacingAndGlyphs">m</text>
<text x="36" y="175" text-anchor="middle" textLength="6" lengthAdjust="spacingAndGlyphs">)</text>
<rect x="374" y="27.60" width="28" height="9.66" fill="#ff5cff"/>
<rect x="374" y="36.96" width="28" height="9.66" fill="#fc40bc"/>
<rect x="374" y="46.31" width="28" height="9.66" fill="#ff0870"/>
<rect x="374" y="55.67" width="28" height="9.66" fill="#e0245e"/>
<rect x="374" y="65.02" width="28" height="9.66" fill="#c84c50"/>
<rect x="374" y="74.38" width="28" height="9.66" fill="#e07830"/>
<rect x="374" y="83.74" width="28" height="9.66" fill="#ffa400"/>
<rect x="374" y="93.09" width="28" height="9.66" fill="#ffcc00"/>
<rect x="374" y="102.45" width="28" height="9.66" fill="#ffff00"/>
<rect x="374" y="111.80" width="28" height="9.66" fill="#d0f000"/>
<rect x="374" y="121.16" width="28" height="9.66" fill="#8aec2a"/>
<rect x="374" y="130.52" width="28" height="9.66" fill="#3eea78"/>
<rect x="374" y="139.87" width="28" height="9.66" fill="#1edcaa"/>
<rect x="374" y="149.23" width="28" height="9.66" fill="#1ed2cc"/>
<rect x="374" y="158.58" width="28" height="9.66" fill="#14a8ec"/>
<rect x="374" y="167.94" width="28" height="9.66" fill="#1a74f0"/>
<rect x="374" y="177.30" width="28" height="9.66" fill="#1a32ee"/>
<rect x="374" y="186.65" width="28" height="9.66" fill="#1414a8"/>
<rect x="374" y="196.01" width="28" height="9.66" fill="#4a0c8e"/>
<rect x="374" y="205.36" width="28" height="9.66" fill="#2c0a48"/>
<path d="M374 27.5H403M374 215.5H403M374.5 27V216M402.5 27V216M396 50.5H402M396 74.5H402M396 97.5H402M396 121.5H402M396 144.5H402M396 168.5H402M396 191.5H402" stroke="#000" stroke-width="1" fill="none" shape-rendering="crispEdges"/>
<text x="444" y="29" text-anchor="end" textLength="30" lengthAdjust="spacingAndGlyphs">200.0</text>
<text x="444" y="53" text-anchor="end" textLength="30" lengthAdjust="spacingAndGlyphs">150.0</text>
<text x="444" y="76" text-anchor="end" textLength="30" lengthAdjust="spacingAndGlyphs">100.0</text>
<text x="444" y="100" text-anchor="end" textLength="24" lengthAdjust="spacingAndGlyphs">50.0</text>
<text x="444" y="123" text-anchor="end" textLength="18" lengthAdjust="spacingAndGlyphs">0.0</text>
<text x="444" y="147" text-anchor="end" textLength="30" lengthAdjust="spacingAndGlyphs">-50.0</text>
<text x="444" y="170" text-anchor="end" textLength="36" lengthAdjust="spacingAndGlyphs">-100.0</text>
<text x="444" y="194" text-anchor="end" textLength="36" lengthAdjust="spacingAndGlyphs">-150.0</text>
<text x="444" y="217" text-anchor="end" textLength="36" lengthAdjust="spacingAndGlyphs">-200.0</text>
<text x="682" y="20" text-anchor="middle" textLength="186" lengthAdjust="spacingAndGlyphs">Inverted Winds Zonal (coldside)</text>
<path d="M547 26.5H817M547 215.5H817M547.5 26V216M816.5 26V216M548 26.5H554M816 26.5H810M548 29.5H551M816 29.5H813M548 32.5H551M816 32.5H813M548 35.5H551M816 35.5H813M548 39.5H551M816 39.5H813M548 42.5H551M816 42.5H813M548 45.5H551M816 45.5H813M548 48.5H551M816 48.5H813M548 51.5H551M816 51.5H813M548 54.5H551M816 54.5H813M548 57.5H554M816 57.5H810M548 61.5H551M816 61.5H813M548 64.5H551M816 64.5H813M548 67.5H551M816 67.5H813M548 70.5H551M816 70.5H813M548 73.5H551M816 73.5H813M548 76.5H551M816 76.5H813M548 80.5H551M816 80.5H813M548 83.5H551M816 83.5H813M548 86.5H551M816 86.5H813M548 89.5H554M816 89.5H810M548 92.5H551M816 92.5H813M548 95.5H551M816 95.5H813M548 98.5H551M816 98.5H813M548 102.5H551M816 102.5H813M548 105.5H551M816 105.5H813M548 108.5H551M816 108.5H813M548 111.5H551M816 111.5H813M548 114.5H551M816 114.5H813M548 117.5H551M816 117.5H813M548 120.5H554M816 120.5H810M548 124.5H551M816 124.5H813M548 127.5H551M816 127.5H813M548 130.5H551M816 130.5H813M548 133.5H551M816 133.5H813M548 136.5H551M816 136.5H813M548 139.5H551M816 139.5H813M548 143.5H551M816 143.5H813M548 146.5H551M816 146.5H813M548 149.5H551M816 149.5H813M548 152.5H554M816 152.5H810M548 155.5H551M816 155.5H813M548 158.5H551M816 158.5H813M548 161.5H551M816 161.5H813M548 165.5H551M816 165.5H813M548 168.5H551M816 168.5H813M548 171.5H551M816 171.5H813M548 174.5H551M816 174.5H813M548 177.5H551M816 177.5H813M548 180.5H551M816 180.5H813M548 183.5H554M816 183.5H810M548 187.5H551M816 187.5H813M548 190.5H551M816 190.5H813M548 193.5H551M816 193.5H813M548 196.5H551M816 196.5H813M548 199.5H551M816 199.5H813M548 202.5H551M816 202.5H813M548 206.5H551M816 206.5H813M548 209.5H551M816 209.5H813M548 212.5H551M816 212.5H813M548 215.5H554M816 215.5H810M547.5 215V211M614.5 215V211M681.5 215V211M748.5 215V211M816.5 215V211" stroke="#000" stroke-width="1" fill="none" shape-rendering="crispEdges"/>
<text x="543" y="33" text-anchor="end" textLength="18" lengthAdjust="spacingAndGlyphs">120</text>
<text x="543" y="62" text-anchor="end" textLength="18" lengthAdjust="spacingAndGlyphs">110</text>
<text x="543" y="93" text-anchor="end" textLength="18" lengthAdjust="spacingAndGlyphs">100</text>
<text x="543" y="125" text-anchor="end" textLength="12" lengthAdjust="spacingAndGlyphs">90</text>
<text x="543" y="156" text-anchor="end" textLength="12" lengthAdjust="spacingAndGlyphs">80</text>
<text x="543" y="188" text-anchor="end" textLength="12" lengthAdjust="spacingAndGlyphs">70</text>
<text x="543" y="216" text-anchor="end" textLength="12" lengthAdjust="spacingAndGlyphs">60</text>
<text x="546.5" y="230" text-anchor="middle" textLength="18" lengthAdjust="spacingAndGlyphs">-90</text>
<text x="613.8" y="230" text-anchor="middle" textLength="6" lengthAdjust="spacingAndGlyphs">0</text>
<text x="681.0" y="230" text-anchor="middle" textLength="12" lengthAdjust="spacingAndGlyphs">90</text>
<text x="748.2" y="230" text-anchor="middle" textLength="6" lengthAdjust="spacingAndGlyphs">0</text>
<text x="815.5" y="230" text-anchor="middle" textLength="18" lengthAdjust="spacingAndGlyphs">-90</text>
<text x="681" y="243" text-anchor="middle" textLength="54" lengthAdjust="spacingAndGlyphs">Lat (deg)</text>
<text x="516" y="55" text-anchor="middle" textLength="6" lengthAdjust="spacingAndGlyphs">A</text>
<text x="516" y="65" text-anchor="middle" textLength="6" lengthAdjust="spacingAndGlyphs">l</text>
<text x="516" y="75" text-anchor="middle" textLength="6" lengthAdjust="spacingAndGlyphs">t</text>
<text x="516" y="85" text-anchor="middle" textLength="6" lengthAdjust="spacingAndGlyphs">i</text>
<text x="516" y="95" text-anchor="middle" textLength="6" lengthAdjust="spacingAndGlyphs">t</text>
<text x="516" y="105" text-anchor="middle" textLength="6" lengthAdjust="spacingAndGlyphs">u</text>
<text x="516" y="115" text-anchor="middle" textLength="6" lengthAdjust="spacingAndGlyphs">d</text>
<text x="516" y="125" text-anchor="middle" textLength="6" lengthAdjust="spacingAndGlyphs">e</text>
<text x="516" y="145" text-anchor="middle" textLength="6" lengthAdjust="spacingAndGlyphs">(</text>
<text x="516" y="155" text-anchor="middle" textLength="6" lengthAdjust="spacingAndGlyphs">k</text>
<text x="516" y="165" text-anchor="middle" textLength="6" lengthAdjust="spacingAndGlyphs">m</text>
<text x="516" y="175" text-anchor="middle" textLength="6" lengthAdjust="spacingAndGlyphs">)</text>
<rect x="854" y="27.60" width="28" height="9.66" fill="#ff5cff"/>
<rect x="854" y="36.96" width="28" height="9.66" fill="#fc40bc"/>
<rect x="854" y="46.31" width="28" height="9.66" fill="#ff0870"/>
<rect x="854" y="55.67" width="28" height="9.66" fill="#e0245e"/>
<rect x="854" y="65.02" width="28" height="9.66" fill="#c84c50"/>
<rect x="854" y="74.38" width="28" height="9.66" fill="#e07830"/>
<rect x="854" y="83.74" width="28" height="9.66" fill="#ffa400"/>
<rect x="854" y="93.09" width="28" height="9.66" fill="#ffcc00"/>
<rect x="854" y="102.45" width="28" height="9.66" fill="#ffff00"/>
<rect x="854" y="111.80" width="28" height="9.66" fill="#d0f000"/>
<rect x="854" y="121.16" width="28" height="9.66" fill="#8aec2a"/>
<rect x="854" y="130.52" width="28" height="9.66" fill="#3eea78"/>
<rect x="854" y="139.87" width="28" height="9.66" fill="#1edcaa"/>
<rect x="854" y="149.23" width="28" height="9.66" fill="#1ed2cc"/>
<rect x="854" y="158.58" width="28" height="9.66" fill="#14a8ec"/>
<rect x="854" y="167.94" width="28" height="9.66" fill="#1a74f0"/>
<rect x="854" y="177.30" width="28" height="9.66" fill="#1a32ee"/>
<rect x="854" y="186.65" width="28" height="9.66" fill="#1414a8"/>
<rect x="854" y="196.01" width="28" height="9.66" fill="#4a0c8e"/>
<rect x="854" y="205.36" width="28" height="9.66" fill="#2c0a48"/>
<path d="M854 27.5H883M854 215.5H883M854.5 27V216M882.5 27V216M876 50.5H882M876 74.5H882M876 97.5H882M876 121.5H882M876 144.5H882M876 168.5H882M876 191.5H882" stroke="#000" stroke-width="1" fill="none" shape-rendering="crispEdges"/>
<text x="924" y="29" text-anchor="end" textLength="30" lengthAdjust="spacingAndGlyphs">200.0</text>
<text x="924" y="53" text-anchor="end" textLength="30" lengthAdjust="spacingAndGlyphs">150.0</text>
<text x="924" y="76" text-anchor="end" textLength="30" lengthAdjust="spacingAndGlyphs">100.0</text>
<text x="924" y="100" text-anchor="end" textLength="24" lengthAdjust="spacingAndGlyphs">50.0</text>
<text x="924" y="123" text-anchor="end" textLength="18" lengthAdjust="spacingAndGlyphs">0.0</text>
<text x="924" y="147" text-anchor="end" textLength="30" lengthAdjust="spacingAndGlyphs">-50.0</text>
<text x="924" y="170" text-anchor="end" textLength="36" lengthAdjust="spacingAndGlyphs">-100.0</text>
<text x="924" y="194" text-anchor="end" textLength="36" lengthAdjust="spacingAndGlyphs">-150.0</text>
<text x="924" y="217" text-anchor="end" textLength="36" lengthAdjust="spacingAndGlyphs">-200.0</text>
<text x="202" y="290" text-anchor="middle" textLength="216" lengthAdjust="spacingAndGlyphs">Inverted Winds Meridional (warmside)</text>
<path d="M67 296.5H337M67 485.5H337M67.5 296V486M336.5 296V486M68 296.5H74M336 296.5H330M68 299.5H71M336 299.5H333M68 302.5H71M336 302.5H333M68 305.5H71M336 305.5H333M68 309.5H71M336 309.5H333M68 312.5H71M336 312.5H333M68 315.5H71M336 315.5H333M68 318.5H71M336 318.5H333M68 321.5H71M336 321.5H333M68 324.5H71M336 324.5H333M68 327.5H74M336 327.5H330M68 331.5H71M336 331.5H333M68 334.5H71M336 334.5H333M68 337.5H71M336 337.5H333M68 340.5H71M336 340.5H333M68 343.5H71M336 343.5H333M68 346.5H71M336 346.5H333M68 350.5H71M336 350.5H333M68 353.5H71M336 353.5H333M68 356.5H71M336 356.5H333M68 359.5H74M336 359.5H330M68 362.5H71M336 362.5H333M68 365.5H71M336 365.5H333M68 368.5H71M336 368.5H333M68 372.5H71M336 372.5H333M68 375.5H71M336 375.5H333M68 378.5H71M336 378.5H333M68 381.5H71M336 381.5H333M68 384.5H71M336 384.5H333M68 387.5H71M336 387.5H333M68 390.5H74M336 390.5H330M68 394.5H71M336 394.5H333M68 397.5H71M336 397.5H333M68 400.5H71M336 400.5H333M68 403.5H71M336 403.5H333M68 406.5H71M336 406.5H333M68 409.5H71M336 409.5H333M68 413.5H71M336 413.5H333M68 416.5H71M336 416.5H333M68 419.5H71M336 419.5H333M68 422.5H74M336 422.5H330M68 425.5H71M336 425.5H333M68 428.5H71M336 428.5H333M68 431.5H71M336 431.5H333M68 435.5H71M336 435.5H333M68 438.5H71M336 438.5H333M68 441.5H71M336 441.5H333M68 444.5H71M336 444.5H333M68 447.5H71M336 447.5H333M68 450.5H71M336 450.5H333M68 453.5H74M336 453.5H330M68 457.5H71M336 457.5H333M68 460.5H71M336 460.5H333M68 463.5H71M336 463.5H333M68 466.5H71M336 466.5H333M68 469.5H71M336 469.5H333M68 472.5H71M336 472.5H333M68 476.5H71M336 476.5H333M68 479.5H71M336 479.5H333M68 482.5H71M336 482.5H333M68 485.5H74M336 485.5H330M67.5 485V481M134.5 485V481M201.5 485V481M268.5 485V481M336.5 485V481" stroke="#000" stroke-width="1" fill="none" shape-rendering="crispEdges"/>
<text x="63" y="303" text-anchor="end" textLength="18" lengthAdjust="spacingAndGlyphs">120</text>
<text x="63" y="332" text-anchor="end" textLength="18" lengthAdjust="spacingAndGlyphs">110</text>
<text x="63" y="363" text-anchor="end" textLength="18" lengthAdjust="spacingAndGlyphs">100</text>
<text x="63" y="395" text-anchor="end" textLength="12" lengthAdjust="spacingAndGlyphs">90</text>
<text x="63" y="426" text-anchor="end" textLength="12" lengthAdjust="spacingAndGlyphs">80</text>
<text x="63" y="458" text-anchor="end" textLength="12" lengthAdjust="spacingAndGlyphs">70</text>
<text x="63" y="486" text-anchor="end" textLength="12" lengthAdjust="spacingAndGlyphs">60</text>
<text x="66.5" y="500" text-anchor="middle" textLength="18" lengthAdjust="spacingAndGlyphs">-90</text>
<text x="133.8" y="500" text-anchor="middle" textLength="6" lengthAdjust="spacingAndGlyphs">0</text>
<text x="201.0" y="500" text-anchor="middle" textLength="12" lengthAdjust="spacingAndGlyphs">90</text>
<text x="268.2" y="500" text-anchor="middle" textLength="6" lengthAdjust="spacingAndGlyphs">0</text>
<text x="335.5" y="500" text-anchor="middle" textLength="18" lengthAdjust="spacingAndGlyphs">-90</text>
<text x="201" y="513" text-anchor="middle" textLength="54" lengthAdjust="spacingAndGlyphs">Lat (deg)</text>
<text x="36" y="325" text-anchor="middle" textLength="6" lengthAdjust="spacingAndGlyphs">A</text>
<text x="36" y="335" text-anchor="middle" textLength="6" lengthAdjust="spacingAndGlyphs">l</text>
<text x="36" y="345" text-anchor="middle" textLength="6" lengthAdjust="spacingAndGlyphs">t</text>
<text x="36" y="355" text-anchor="middle" textLength="6" lengthAdjust="spacingAndGlyphs">i</text>
<text x="36" y="365" text-anchor="middle" textLength="6" lengthAdjust="spacingAndGlyphs">t</text>
<text x="36" y="375" text-anchor="middle" textLength="6" lengthAdjust="spacingAndGlyphs">u</text>
<text x="36" y="385" text-anchor="middle" textLength="6" lengthAdjust="spacingAndGlyphs">d</text>
<text x="36" y="395" text-anchor="middle" textLength="6" lengthAdjust="spacingAndGlyphs">e</text>
<text x="36" y="415" text-anchor="middle" textLength="6" lengthAdjust="spacingAndGlyphs">(</text>
<text x="36" y="425" text-anchor="middle" textLength="6" lengthAdjust="spacingAndGlyphs">k</text>
<text x="36" y="435" text-anchor="middle" textLength="6" lengthAdjust="spacingAndGlyphs">m</text>
<text x="36" y="445" text-anchor="middle" textLength="6" lengthAdjust="spacingAndGlyphs">)</text>
<rect x="374" y="297.60" width="28" height="9.66" fill="#ff5cff"/>
<rect x="374" y="306.96" width="28" height="9.66" fill="#fc40bc"/>
<rect x="374" y="316.31" width="28" height="9.66" fill="#ff0870"/>
<rect x="374" y="325.67" width="28" height="9.66" fill="#e0245e"/>
<rect x="374" y="335.02" width="28" height="9.66" fill="#c84c50"/>
<rect x="374" y="344.38" width="28" height="9.66" fill="#e07830"/>
<rect x="374" y="353.74" width="28" height="9.66" fill="#ffa400"/>
<rect x="374" y="363.09" width="28" height="9.66" fill="#ffcc00"/>
<rect x="374" y="372.45" width="28" height="9.66" fill="#ffff00"/>
<rect x="374" y="381.80" width="28" height="9.66" fill="#d0f000"/>
<rect x="374" y="391.16" width="28" height="9.66" fill="#8aec2a"/>
<rect x="374" y="400.52" width="28" height="9.66" fill="#3eea78"/>
<rect x="374" y="409.87" width="28" height="9.66" fill="#1edcaa"/>
<rect x="374" y="419.23" width="28" height="9.66" fill="#1ed2cc"/>
<rect x="374" y="428.58" width="28" height="9.66" fill="#14a8ec"/>
<rect x="374" y="437.94" width="28" height="9.66" fill="#1a74f0"/>
<rect x="374" y="447.30" width="28" height="9.66" fill="#1a32ee"/>
<rect x="374" y="456.65" width="28" height="9.66" fill="#1414a8"/>
<rect x="374" y="466.01" width="28" height="9.66" fill="#4a0c8e"/>
<rect x="374" y="475.36" width="28" height="9.66" fill="#2c0a48"/>
<path d="M374 297.5H403M374 485.5H403M374.5 297V486M402.5 297V486M396 320.5H402M396 344.5H402M396 367.5H402M396 391.5H402M396 414.5H402M396 438.5H402M396 461.5H402" stroke="#000" stroke-width="1" fill="none" shape-rendering="crispEdges"/>
<text x="444" y="299" text-anchor="end" textLength="30" lengthAdjust="spacingAndGlyphs">200.0</text>
<text x="444" y="323" text-anchor="end" textLength="30" lengthAdjust="spacingAndGlyphs">150.0</text>
<text x="444" y="346" text-anchor="end" textLength="30" lengthAdjust="spacingAndGlyphs">100.0</text>
<text x="444" y="370" text-anchor="end" textLength="24" lengthAdjust="spacingAndGlyphs">50.0</text>
<text x="444" y="393" text-anchor="end" textLength="18" lengthAdjust="spacingAndGlyphs">0.0</text>
<text x="444" y="417" text-anchor="end" textLength="30" lengthAdjust="spacingAndGlyphs">-50.0</text>
<text x="444" y="440" text-anchor="end" textLength="36" lengthAdjust="spacingAndGlyphs">-100.0</text>
<text x="444" y="464" text-anchor="end" textLength="36" lengthAdjust="spacingAndGlyphs">-150.0</text>
<text x="444" y="487" text-anchor="end" textLength="36" lengthAdjust="spacingAndGlyphs">-200.0</text>
<text x="682" y="290" text-anchor="middle" textLength="186" lengthAdjust="spacingAndGlyphs">Inverted Winds Zonal (warmside)</text>
<path d="M547 296.5H817M547 485.5H817M547.5 296V486M816.5 296V486M548 296.5H554M816 296.5H810M548 299.5H551M816 299.5H813M548 302.5H551M816 302.5H813M548 305.5H551M816 305.5H813M548 309.5H551M816 309.5H813M548 312.5H551M816 312.5H813M548 315.5H551M816 315.5H813M548 318.5H551M816 318.5H813M548 321.5H551M816 321.5H813M548 324.5H551M816 324.5H813M548 327.5H554M816 327.5H810M548 331.5H551M816 331.5H813M548 334.5H551M816 334.5H813M548 337.5H551M816 337.5H813M548 340.5H551M816 340.5H813M548 343.5H551M816 343.5H813M548 346.5H551M816 346.5H813M548 350.5H551M816 350.5H813M548 353.5H551M816 353.5H813M548 356.5H551M816 356.5H813M548 359.5H554M816 359.5H810M548 362.5H551M816 362.5H813M548 365.5H551M816 365.5H813M548 368.5H551M816 368.5H813M548 372.5H551M816 372.5H813M548 375.5H551M816 375.5H813M548 378.5H551M816 378.5H813M548 381.5H551M816 381.5H813M548 384.5H551M816 384.5H813M548 387.5H551M816 387.5H813M548 390.5H554M816 390.5H810M548 394.5H551M816 394.5H813M548 397.5H551M816 397.5H813M548 400.5H551M816 400.5H813M548 403.5H551M816 403.5H813M548 406.5H551M816 406.5H813M548 409.5H551M816 409.5H813M548 413.5H551M816 413.5H813M548 416.5H551M816 416.5H813M548 419.5H551M816 419.5H813M548 422.5H554M816 422.5H810M548 425.5H551M816 425.5H813M548 428.5H551M816 428.5H813M548 431.5H551M816 431.5H813M548 435.5H551M816 435.5H813M548 438.5H551M816 438.5H813M548 441.5H551M816 441.5H813M548 444.5H551M816 444.5H813M548 447.5H551M816 447.5H813M548 450.5H551M816 450.5H813M548 453.5H554M816 453.5H810M548 457.5H551M816 457.5H813M548 460.5H551M816 460.5H813M548 463.5H551M816 463.5H813M548 466.5H551M816 466.5H813M548 469.5H551M816 469.5H813M548 472.5H551M816 472.5H813M548 476.5H551M816 476.5H813M548 479.5H551M816 479.5H813M548 482.5H551M816 482.5H813M548 485.5H554M816 485.5H810M547.5 485V481M614.5 485V481M681.5 485V481M748.5 485V481M816.5 485V481" stroke="#000" stroke-width="1" fill="none" shape-rendering="crispEdges"/>
<text x="543" y="303" text-anchor="end" textLength="18" lengthAdjust="spacingAndGlyphs">120</text>
<text x="543" y="332" text-anchor="end" textLength="18" lengthAdjust="spacingAndGlyphs">110</text>
<text x="543" y="363" text-anchor="end" textLength="18" lengthAdjust="spacingAndGlyphs">100</text>
<text x="543" y="395" text-anchor="end" textLength="12" lengthAdjust="spacingAndGlyphs">90</text>
<text x="543" y="426" text-anchor="end" textLength="12" lengthAdjust="spacingAndGlyphs">80</text>
<text x="543" y="458" text-anchor="end" textLength="12" lengthAdjust="spacingAndGlyphs">70</text>
<text x="543" y="486" text-anchor="end" textLength="12" lengthAdjust="spacingAndGlyphs">60</text>
<text x="546.5" y="500" text-anchor="middle" textLength="18" lengthAdjust="spacingAndGlyphs">-90</text>
<text x="613.8" y="500" text-anchor="middle" textLength="6" lengthAdjust="spacingAndGlyphs">0</text>
<text x="681.0" y="500" text-anchor="middle" textLength="12" lengthAdjust="spacingAndGlyphs">90</text>
<text x="748.2" y="500" text-anchor="middle" textLength="6" lengthAdjust="spacingAndGlyphs">0</text>
<text x="815.5" y="500" text-anchor="middle" textLength="18" lengthAdjust="spacingAndGlyphs">-90</text>
<text x="681" y="513" text-anchor="middle" textLength="54" lengthAdjust="spacingAndGlyphs">Lat (deg)</text>
<text x="516" y="325" text-anchor="middle" textLength="6" lengthAdjust="spacingAndGlyphs">A</text>
<text x="516" y="335" text-anchor="middle" textLength="6" lengthAdjust="spacingAndGlyphs">l</text>
<text x="516" y="345" text-anchor="middle" textLength="6" lengthAdjust="spacingAndGlyphs">t</text>
<text x="516" y="355" text-anchor="middle" textLength="6" lengthAdjust="spacingAndGlyphs">i</text>
<text x="516" y="365" text-anchor="middle" textLength="6" lengthAdjust="spacingAndGlyphs">t</text>
<text x="516" y="375" text-anchor="middle" textLength="6" lengthAdjust="spacingAndGlyphs">u</text>
<text x="516" y="385" text-anchor="middle" textLength="6" lengthAdjust="spacingAndGlyphs">d</text>
<text x="516" y="395" text-anchor="middle" textLength="6" lengthAdjust="spacingAndGlyphs">e</text>
<text x="516" y="415" text-anchor="middle" textLength="6" lengthAdjust="spacingAndGlyphs">(</text>
<text x="516" y="425" text-anchor="middle" textLength="6" lengthAdjust="spacingAndGlyphs">k</text>
<text x="516" y="435" text-anchor="middle" textLength="6" lengthAdjust="spacingAndGlyphs">m</text>
<text x="516" y="445" text-anchor="middle" textLength="6" lengthAdjust="spacingAndGlyphs">)</text>
<rect x="854" y="297.60" width="28" height="9.66" fill="#ff5cff"/>
<rect x="854" y="306.96" width="28" height="9.66" fill="#fc40bc"/>
<rect x="854" y="316.31" width="28" height="9.66" fill="#ff0870"/>
<rect x="854" y="325.67" width="28" height="9.66" fill="#e0245e"/>
<rect x="854" y="335.02" width="28" height="9.66" fill="#c84c50"/>
<rect x="854" y="344.38" width="28" height="9.66" fill="#e07830"/>
<rect x="854" y="353.74" width="28" height="9.66" fill="#ffa400"/>
<rect x="854" y="363.09" width="28" height="9.66" fill="#ffcc00"/>
<rect x="854" y="372.45" width="28" height="9.66" fill="#ffff00"/>
<rect x="854" y="381.80" width="28" height="9.66" fill="#d0f000"/>
<rect x="854" y="391.16" width="28" height="9.66" fill="#8aec2a"/>
<rect x="854" y="400.52" width="28" height="9.66" fill="#3eea78"/>
<rect x="854" y="409.87" width="28" height="9.66" fill="#1edcaa"/>
<rect x="854" y="419.23" width="28" height="9.66" fill="#1ed2cc"/>
<rect x="854" y="428.58" width="28" height="9.66" fill="#14a8ec"/>
<rect x="854" y="437.94" width="28" height="9.66" fill="#1a74f0"/>
<rect x="854" y="447.30" width="28" height="9.66" fill="#1a32ee"/>
<rect x="854" y="456.65" width="28" height="9.66" fill="#1414a8"/>
<rect x="854" y="466.01" width="28" height="9.66" fill="#4a0c8e"/>
<rect x="854" y="475.36" width="28" height="9.66" fill="#2c0a48"/>
<path d="M854 297.5H883M854 485.5H883M854.5 297V486M882.5 297V486M876 320.5H882M876 344.5H882M876 367.5H882M876 391.5H882M876 414.5H882M876 438.5H882M876 461.5H882" stroke="#000" stroke-width="1" fill="none" shape-rendering="crispEdges"/>
<text x="924" y="299" text-anchor="end" textLength="30" lengthAdjust="spacingAndGlyphs">200.0</text>
<text x="924" y="323" text-anchor="end" textLength="30" lengthAdjust="spacingAndGlyphs">150.0</text>
<text x="924" y="346" text-anchor="end" textLength="30" lengthAdjust="spacingAndGlyphs">100.0</text>
<text x="924" y="370" text-anchor="end" textLength="24" lengthAdjust="spacingAndGlyphs">50.0</text>
<text x="924" y="393" text-anchor="end" textLength="18" lengthAdjust="spacingAndGlyphs">0.0</text>
<text x="924" y="417" text-anchor="end" textLength="30" lengthAdjust="spacingAndGlyphs">-50.0</text>
<text x="924" y="440" text-anchor="end" textLength="36" lengthAdjust="spacingAndGlyphs">-100.0</text>
<text x="924" y="464" text-anchor="end" textLength="36" lengthAdjust="spacingAndGlyphs">-150.0</text>
<text x="924" y="487" text-anchor="end" textLength="36" lengthAdjust="spacingAndGlyphs">-200.0</text>
<text x="576" y="525" text-anchor="start" textLength="210" lengthAdjust="spacingAndGlyphs">2012280v01 Wed Aug 10 09:44:40 2016</text>
</svg>
</body></html>
